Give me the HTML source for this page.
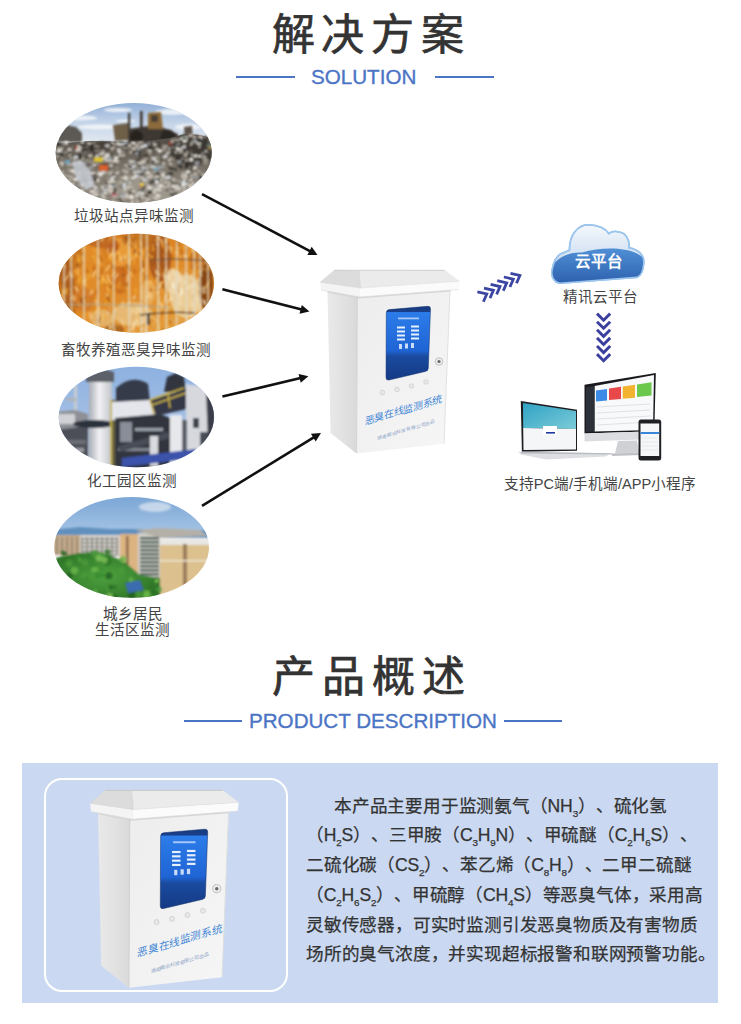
<!DOCTYPE html>
<html lang="zh-CN">
<head>
<meta charset="utf-8">
<style>
html,body{margin:0;padding:0;background:#fff;text-spacing-trim:space-all;}
body{width:741px;height:1024px;position:relative;overflow:hidden;font-family:"Liberation Sans",sans-serif;}
.abs{position:absolute;white-space:nowrap;}
.title{font-size:43px;line-height:60px;color:#333;letter-spacing:6.9px;-webkit-text-stroke:0.7px #333;}
.sub{font-size:20.6px;line-height:24px;color:#4b74c5;-webkit-text-stroke:0.35px #4b74c5;}
.hl{position:absolute;height:2px;background:#4b74c5;}
.lbl{font-size:14.6px;line-height:18px;color:#444;text-align:center;width:200px;}
.para{font-size:17.6px;line-height:29.8px;letter-spacing:-0.2px;color:#333;-webkit-text-stroke:0.25px #333;}
sub{font-size:56%;vertical-align:-0.5em;line-height:0;}
</style>
</head>
<body>
<div class="abs title" style="left:271.5px;top:5px;">解决方案</div>
<div class="hl" style="left:236px;top:76px;width:59px;"></div>
<div class="abs sub" style="left:311px;top:65px;">SOLUTION</div>
<div class="hl" style="left:435px;top:76px;width:59px;"></div>

<div class="abs lbl" style="left:34px;top:207px;">垃圾站点异味监测</div>
<div class="abs lbl" style="left:36px;top:341px;">畜牧养殖恶臭异味监测</div>
<div class="abs lbl" style="left:32px;top:472px;">化工园区监测</div>
<div class="abs lbl" style="left:32.5px;top:604.5px;">城乡居民</div>
<div class="abs lbl" style="left:32px;top:620.5px;">生活区监测</div>
<div class="abs lbl" style="left:500px;top:287.5px;">精讯云平台</div>
<div class="abs lbl" style="left:500px;top:475px;">支持PC端/手机端/APP小程序</div>

<div class="abs title" style="left:272px;top:647px;">产品概述</div>
<div class="hl" style="left:184px;top:720px;width:58px;"></div>
<div class="abs sub" style="left:249px;top:709px;">PRODUCT DESCRIPTION</div>
<div class="hl" style="left:504px;top:720px;width:58px;"></div>

<div class="abs" style="left:22px;top:763px;width:695.5px;height:239.5px;background:#cad9f1;"></div>
<div class="abs" style="left:43.5px;top:778px;width:240.5px;height:210px;border:2.4px solid #fff;border-radius:18px;"></div>

<div class="abs para" style="left:306px;top:791.5px;">
<div style="padding-left:28px">本产品主要用于监测氨气（NH<sub>3</sub>）、硫化氢</div>
<div>（H<sub>2</sub>S）、三甲胺（C<sub>3</sub>H<sub>9</sub>N）、甲硫醚（C<sub>2</sub>H<sub>6</sub>S）、</div>
<div>二硫化碳（CS<sub>2</sub>）、苯乙烯（C<sub>8</sub>H<sub>8</sub>）、二甲二硫醚</div>
<div>（C<sub>2</sub>H<sub>6</sub>S<sub>2</sub>）、甲硫醇（CH<sub>4</sub>S）等恶臭气体，采用高</div>
<div>灵敏传感器，可实时监测引发恶臭物质及有害物质</div>
<div>场所的臭气浓度，并实现超标报警和联网预警功能。</div>
</div>
<svg style="position:absolute;left:0;top:0" width="741" height="1024" viewBox="0 0 741 1024"><defs><clipPath id="clg"><ellipse cx="133.7" cy="152.9" rx="78" ry="50"/></clipPath><clipPath id="clc"><ellipse cx="136.4" cy="283.3" rx="77.7" ry="49.5"/></clipPath><clipPath id="clh"><ellipse cx="136.4" cy="417.0" rx="77.7" ry="50.2"/></clipPath><clipPath id="cly"><ellipse cx="131.6" cy="547.4" rx="77.4" ry="50.4"/></clipPath><filter id="bl5" x="-5%" y="-5%" width="110%" height="110%"><feGaussianBlur stdDeviation="0.8"/></filter><filter id="bl10" x="-10%" y="-10%" width="120%" height="120%"><feGaussianBlur stdDeviation="1.2"/></filter><filter id="bl20" x="-20%" y="-20%" width="140%" height="140%"><feGaussianBlur stdDeviation="2.5"/></filter><linearGradient id="skyg" x1="0" y1="0" x2="0" y2="1"><stop offset="0" stop-color="#8aaad4"/><stop offset="0.5" stop-color="#c4d4e8"/><stop offset="1" stop-color="#e8edf2"/></linearGradient><linearGradient id="grg" x1="0" y1="0" x2="0" y2="1"><stop offset="0" stop-color="#504a43"/><stop offset="0.5" stop-color="#7e776d"/><stop offset="1" stop-color="#8e877c"/></linearGradient><linearGradient id="chg" x1="0" y1="0" x2="1" y2="1"><stop offset="0" stop-color="#cc7420"/><stop offset="0.5" stop-color="#e08a28"/><stop offset="1" stop-color="#e8a844"/></linearGradient><linearGradient id="skyh" x1="0" y1="0" x2="0" y2="1"><stop offset="0" stop-color="#8cb0e0"/><stop offset="1" stop-color="#b8cce8"/></linearGradient><linearGradient id="tw" x1="0" y1="0" x2="1" y2="0"><stop offset="0" stop-color="#a8acb4"/><stop offset="0.45" stop-color="#f2f2f4"/><stop offset="1" stop-color="#c0c4ca"/></linearGradient><linearGradient id="skyy" x1="0" y1="0" x2="0" y2="1"><stop offset="0" stop-color="#78a4d4"/><stop offset="1" stop-color="#a8c6e6"/></linearGradient><radialGradient id="tree" cx="0.5" cy="0.45" r="0.6"><stop offset="0" stop-color="#4ea23e"/><stop offset="1" stop-color="#2a6e26"/></radialGradient></defs><g clip-path="url(#clg)"><rect x="50" y="100" width="170" height="46" fill="url(#skyg)"/><g filter="url(#bl10)"><ellipse cx="80" cy="118" rx="17.0" ry="2.5" fill="#f2f5f8" opacity="0.9"/><ellipse cx="118" cy="110" rx="14.0" ry="2.0" fill="#f2f5f8" opacity="0.9"/><ellipse cx="172" cy="112" rx="17.0" ry="3.0" fill="#f2f5f8" opacity="0.9"/><ellipse cx="100" cy="127" rx="22.0" ry="2.5" fill="#f2f5f8" opacity="0.9"/><ellipse cx="188" cy="127" rx="13.0" ry="3.0" fill="#f2f5f8" opacity="0.9"/><ellipse cx="66" cy="133" rx="14.0" ry="2.5" fill="#f2f5f8" opacity="0.9"/><ellipse cx="150" cy="130" rx="10.0" ry="2.0" fill="#f2f5f8" opacity="0.9"/><ellipse cx="126" cy="121" rx="10.0" ry="1.5" fill="#f2f5f8" opacity="0.9"/></g><g filter="url(#bl5)"><polygon points="113,125 129,123 130,140 115,141" fill="#6e5e4a"/><polygon points="128,129 148,126 164,128 178,134 179,143 128,143" fill="#3e3732"/><polygon points="148,113 161,112 163,129 148,129" fill="#8c6a3a"/><rect x="151" y="115" width="7" height="7" fill="#4a4038"/><rect x="128" y="113" width="2.2" height="16" fill="#3a342e"/><rect x="140" y="111" width="2.6" height="17" fill="#3a342e"/><circle cx="136.5" cy="137" r="6.5" fill="#26221f"/><circle cx="168" cy="137" r="7.5" fill="#2a2622"/><polygon points="59,130 66,125 76,127 82,133 82,142 58,142" fill="#5c5852"/><polygon points="184,127 192,126 193,141 185,141" fill="#5a5048"/></g><polygon points="50,144 90,141 140,142 170,138 185,134 200,135 220,140 220,210 50,210" fill="url(#grg)"/><g filter="url(#bl5)"><ellipse cx="194" cy="150" rx="22" ry="15" fill="#35312c" opacity="0.8"/><ellipse cx="130" cy="146" rx="60" ry="5" fill="#3a3530" opacity="0.6"/><ellipse cx="150" cy="188" rx="40" ry="12" fill="#b4ada2" opacity="0.5"/><rect x="104.8" y="144.7" width="3.8" height="1.3" fill="#c6beb2"/><rect x="147" y="198.6" width="2.3" height="1.4" fill="#d4cdc2"/><rect x="66.8" y="164.1" width="4.4" height="1.4" fill="#d8dde4"/><rect x="206.5" y="175" width="2.9" height="3.2" fill="#2c2824"/><rect x="99.2" y="144.2" width="1.9" height="1.8" fill="#a0988c"/><rect x="68.8" y="174.6" width="2.2" height="1.4" fill="#9aa0a6"/><rect x="61.7" y="148.6" width="3.9" height="2.1" fill="#4a443c"/><rect x="202.5" y="159.7" width="2.4" height="1.6" fill="#8a8276"/><rect x="145.6" y="171.3" width="4.6" height="2.7" fill="#e6e2da"/><rect x="71.2" y="163.7" width="4.1" height="1.5" fill="#e6e2da"/><rect x="208.8" y="139.5" width="3.5" height="2.8" fill="#c6beb2"/><rect x="165.3" y="176.2" width="3.5" height="2.1" fill="#767066"/><rect x="129.3" y="181.2" width="1.7" height="2.6" fill="#f2efe8"/><rect x="98.4" y="161.4" width="3.8" height="1.2" fill="#d4cdc2"/><rect x="151.6" y="169.1" width="2.3" height="1.8" fill="#6a645a"/><rect x="115.7" y="195.9" width="1.8" height="2.1" fill="#d4cdc2"/><rect x="185.5" y="195.3" width="2.5" height="2" fill="#f2efe8"/><rect x="208.1" y="144.7" width="2.1" height="1.7" fill="#3a3530"/><rect x="187.5" y="146.9" width="2.5" height="1.5" fill="#4a443c"/><rect x="144.3" y="201.7" width="3.9" height="2.2" fill="#e6e2da"/><rect x="126.4" y="195.8" width="4.8" height="2.6" fill="#f2efe8"/><rect x="117" y="141.4" width="3.7" height="1.3" fill="#2c2824"/><rect x="123.8" y="141.8" width="3.6" height="1.4" fill="#d8dde4"/><rect x="68.5" y="159.8" width="1.6" height="2.9" fill="#a0988c"/><rect x="155.4" y="201.8" width="3.6" height="2.1" fill="#3a3530"/><rect x="213.9" y="167.1" width="3.2" height="1.4" fill="#3a3530"/><rect x="172.7" y="168" width="3.9" height="2.2" fill="#4a443c"/><rect x="111" y="183" width="4.7" height="2.7" fill="#e6e2da"/><rect x="165.5" y="152.5" width="2.8" height="1.5" fill="#9aa0a6"/><rect x="140.3" y="169.7" width="3.7" height="2.4" fill="#a0988c"/><rect x="183.4" y="192.1" width="4.1" height="1.7" fill="#c6beb2"/><rect x="171.2" y="204.3" width="4.3" height="2.1" fill="#4a443c"/><rect x="207.9" y="165.8" width="4.8" height="3.2" fill="#767066"/><rect x="65.1" y="141.3" width="3.1" height="1.9" fill="#d8dde4"/><rect x="189" y="168" width="3.8" height="2.8" fill="#4a443c"/><rect x="71.5" y="161.6" width="4" height="1.6" fill="#6a645a"/><rect x="180.6" y="157.6" width="4.3" height="3.1" fill="#3a3530"/><rect x="173.2" y="140" width="2.1" height="3.2" fill="#4a443c"/><rect x="199.5" y="191.3" width="2" height="2.9" fill="#767066"/><rect x="77.4" y="172.9" width="1.6" height="2.8" fill="#8a8276"/><rect x="137.8" y="200.3" width="3" height="2.9" fill="#a0988c"/><rect x="56.6" y="149.1" width="3.3" height="2.7" fill="#4a443c"/><rect x="120.3" y="143.3" width="4.7" height="1.9" fill="#d8dde4"/><rect x="184.9" y="170.7" width="4.4" height="3" fill="#2c2824"/><rect x="123.7" y="147" width="1.5" height="2.8" fill="#3a3530"/><rect x="152.9" y="142.5" width="1.7" height="2.6" fill="#f2efe8"/><rect x="179.8" y="141.5" width="3.5" height="1.7" fill="#2c2824"/><rect x="134.8" y="173.9" width="4.2" height="3" fill="#d8dde4"/><rect x="210.7" y="177" width="2.2" height="1.8" fill="#f2efe8"/><rect x="134.8" y="151.6" width="3.3" height="3" fill="#9aa0a6"/><rect x="197.5" y="148.4" width="3.1" height="2" fill="#3a3530"/><rect x="63.8" y="151.1" width="1.8" height="2.5" fill="#a0988c"/><rect x="205.1" y="179.7" width="2.8" height="1.7" fill="#3a3530"/><rect x="87.8" y="201.6" width="2.9" height="2.2" fill="#a0988c"/><rect x="78.3" y="164.6" width="3.3" height="1.9" fill="#c6beb2"/><rect x="67" y="160" width="2.7" height="2.1" fill="#6a645a"/><rect x="106" y="178.3" width="3.3" height="1.3" fill="#a0988c"/><rect x="210.4" y="141.4" width="2.4" height="1.3" fill="#c6beb2"/><rect x="175.2" y="192.2" width="4.5" height="2.6" fill="#6a645a"/><rect x="76.3" y="199.3" width="3.5" height="2.6" fill="#2c2824"/><rect x="182.3" y="147" width="4.6" height="1.7" fill="#2c2824"/><rect x="182.7" y="139.9" width="4.5" height="1.3" fill="#f2efe8"/><rect x="53.9" y="204.6" width="3" height="3" fill="#e6e2da"/><rect x="137.9" y="150.9" width="1.9" height="1.5" fill="#2c2824"/><rect x="204" y="178.6" width="3.4" height="1.6" fill="#d4cdc2"/><rect x="96.1" y="191.1" width="5" height="1.3" fill="#4a443c"/><rect x="141.8" y="147.5" width="3.2" height="3.1" fill="#4a443c"/><rect x="122.4" y="169.1" width="4.4" height="2" fill="#d4cdc2"/><rect x="212.1" y="158.3" width="4.4" height="2.6" fill="#f2efe8"/><rect x="213.3" y="203.7" width="4.4" height="1.2" fill="#c6beb2"/><rect x="160.4" y="161" width="3.3" height="3.1" fill="#767066"/><rect x="59.4" y="147.2" width="2.4" height="1.2" fill="#3a3530"/><rect x="210.5" y="172.8" width="2.4" height="3.1" fill="#3a3530"/><rect x="81.8" y="157.8" width="1.8" height="1.8" fill="#d4cdc2"/><rect x="55.7" y="155.6" width="2.3" height="2.4" fill="#d4cdc2"/><rect x="159.2" y="184.8" width="4.6" height="2" fill="#f2efe8"/><rect x="76.4" y="185.4" width="3.8" height="1.3" fill="#9aa0a6"/><rect x="154.3" y="186.1" width="4.3" height="1.5" fill="#d8dde4"/><rect x="144.7" y="191.7" width="1.6" height="2.6" fill="#a0988c"/><rect x="155.9" y="202.1" width="2.8" height="2.1" fill="#2c2824"/><rect x="154.1" y="182.3" width="3.2" height="1.2" fill="#9aa0a6"/><rect x="198.4" y="140.5" width="3.3" height="2.7" fill="#2c2824"/><rect x="189.9" y="150.7" width="4.1" height="1.7" fill="#f2efe8"/><rect x="132.5" y="161.2" width="3.2" height="2.6" fill="#9aa0a6"/><rect x="155.1" y="148.1" width="3.6" height="1.9" fill="#c6beb2"/><rect x="153.2" y="143.5" width="3.2" height="2.2" fill="#8a8276"/><rect x="164.8" y="182" width="2.5" height="2.2" fill="#f2efe8"/><rect x="177" y="204.5" width="3.4" height="1.8" fill="#3a3530"/><rect x="54.9" y="166.6" width="4.4" height="3.1" fill="#c6beb2"/><rect x="115.1" y="199.1" width="4.8" height="1.3" fill="#4a443c"/><rect x="137.4" y="201.6" width="2" height="2.8" fill="#e6e2da"/><rect x="166.6" y="150.4" width="4.6" height="2.2" fill="#2c2824"/><rect x="206.8" y="182.4" width="2.9" height="2.7" fill="#f2efe8"/><rect x="103.5" y="193.7" width="1.5" height="2.7" fill="#8a8276"/><rect x="205.2" y="147.9" width="1.5" height="2.7" fill="#2c2824"/><rect x="116" y="204.9" width="3.6" height="1.9" fill="#c6beb2"/><rect x="191.2" y="153.9" width="1.7" height="2.5" fill="#d4cdc2"/><rect x="92.6" y="152.9" width="3.3" height="1.6" fill="#3a3530"/><rect x="196.1" y="191.6" width="3.7" height="3" fill="#9aa0a6"/><rect x="204.2" y="163.2" width="3.7" height="1.5" fill="#6a645a"/><rect x="60" y="199.8" width="1.9" height="2.1" fill="#c6beb2"/><rect x="93.7" y="186.5" width="3.8" height="2" fill="#f2efe8"/><rect x="142.8" y="162" width="2.1" height="1.5" fill="#f2efe8"/><rect x="141.7" y="166.2" width="2.7" height="2.7" fill="#d8dde4"/><rect x="91" y="152.3" width="3.5" height="3" fill="#6a645a"/><rect x="114.4" y="187" width="2.2" height="1.7" fill="#6a645a"/><rect x="97.2" y="202.7" width="1.9" height="2.2" fill="#d4cdc2"/><rect x="67.1" y="197.7" width="2.8" height="2.5" fill="#c6beb2"/><rect x="190.3" y="196" width="1.6" height="1.3" fill="#6a645a"/><rect x="209.8" y="168.8" width="1.8" height="3.1" fill="#9aa0a6"/><rect x="191.4" y="203" width="2.4" height="1.4" fill="#4a443c"/><rect x="210.4" y="141.7" width="4.4" height="2.6" fill="#f2efe8"/><rect x="65.9" y="189.2" width="1.5" height="1.5" fill="#e6e2da"/><rect x="157.2" y="155.6" width="1.9" height="1.7" fill="#e6e2da"/><rect x="68.2" y="155.3" width="4.8" height="1.6" fill="#4a443c"/><rect x="52.2" y="172.2" width="5" height="1.8" fill="#d4cdc2"/><rect x="129.5" y="150.7" width="2.4" height="3.1" fill="#c6beb2"/><rect x="61" y="147.8" width="4.6" height="2.5" fill="#2c2824"/><rect x="160.8" y="199.7" width="2.3" height="1.3" fill="#f2efe8"/><rect x="111.1" y="162.1" width="1.5" height="1.8" fill="#8a8276"/><rect x="85.5" y="202.9" width="2.6" height="2.8" fill="#d4cdc2"/><rect x="95.2" y="197.1" width="1.9" height="2.4" fill="#d4cdc2"/><rect x="131.1" y="198.6" width="1.7" height="2.4" fill="#8a8276"/><rect x="86.7" y="203.2" width="2" height="1.3" fill="#3a3530"/><rect x="125.3" y="184.6" width="2.6" height="1.4" fill="#2c2824"/><rect x="105.7" y="147.2" width="4.8" height="2.7" fill="#4a443c"/><rect x="170.2" y="193.6" width="4.9" height="2.1" fill="#2c2824"/><rect x="97.6" y="159" width="4.8" height="1.4" fill="#a0988c"/><rect x="114" y="188.6" width="2.6" height="2.8" fill="#4a443c"/><rect x="129.2" y="160.5" width="4.7" height="1.6" fill="#f2efe8"/><rect x="56.9" y="163.2" width="4.3" height="2.7" fill="#2c2824"/><rect x="127.6" y="191" width="1.7" height="1.6" fill="#4a443c"/><rect x="107.3" y="153.3" width="4.9" height="2.4" fill="#4a443c"/><rect x="164.4" y="199.6" width="2.5" height="2.6" fill="#e6e2da"/><rect x="56" y="150.6" width="3.2" height="3.1" fill="#6a645a"/><rect x="180.7" y="198.9" width="4.4" height="1.5" fill="#e6e2da"/><rect x="182.8" y="186.4" width="4.4" height="2.7" fill="#c6beb2"/><rect x="192.4" y="166.7" width="4.2" height="2.4" fill="#f2efe8"/><rect x="174.7" y="151.6" width="1.7" height="1.3" fill="#c6beb2"/><rect x="78.2" y="164.3" width="1.9" height="1.3" fill="#a0988c"/><rect x="67.7" y="169.4" width="4" height="2.1" fill="#f2efe8"/><rect x="127.1" y="197.3" width="2.3" height="2.3" fill="#8a8276"/><rect x="179.1" y="154.9" width="2.5" height="1.7" fill="#3a3530"/><rect x="84.5" y="151.6" width="2.4" height="1.5" fill="#9aa0a6"/><rect x="93" y="151.5" width="3.3" height="2.5" fill="#3a3530"/><rect x="213.5" y="141.3" width="3.2" height="2.8" fill="#c6beb2"/><rect x="58.6" y="154.9" width="1.9" height="1.6" fill="#9aa0a6"/><rect x="135.6" y="146.6" width="3.6" height="2.7" fill="#e6e2da"/><rect x="69.2" y="176.3" width="3.7" height="1.6" fill="#d4cdc2"/><rect x="59.2" y="205" width="1.6" height="2.7" fill="#8a8276"/><rect x="185.5" y="163" width="2.8" height="2.4" fill="#2c2824"/><rect x="181.6" y="172.9" width="1.7" height="1.4" fill="#d8dde4"/><rect x="77.2" y="171.9" width="3.8" height="2" fill="#c6beb2"/><rect x="160.9" y="163.7" width="1.7" height="2.7" fill="#6a645a"/><rect x="119.9" y="195.4" width="5" height="1.9" fill="#f2efe8"/><rect x="199" y="164.1" width="4.4" height="2" fill="#6a645a"/><rect x="178" y="143.2" width="1.7" height="1.5" fill="#f2efe8"/><rect x="66.5" y="178.2" width="2.8" height="2.2" fill="#3a3530"/><rect x="78.4" y="146.2" width="1.7" height="2" fill="#a0988c"/><rect x="101.2" y="193.4" width="1.7" height="3" fill="#d8dde4"/><rect x="203" y="161.5" width="4.7" height="2.4" fill="#a0988c"/><rect x="156.4" y="194.8" width="3.7" height="2.4" fill="#f2efe8"/><rect x="81.8" y="149.5" width="2.9" height="2.2" fill="#2c2824"/><rect x="76.4" y="202.9" width="4.4" height="1.6" fill="#8a8276"/><rect x="160.9" y="157" width="2.9" height="2.1" fill="#767066"/><rect x="157.8" y="155.9" width="2.4" height="2" fill="#4a443c"/><rect x="152.9" y="168.8" width="2.3" height="2.7" fill="#6a645a"/><rect x="188.4" y="191.5" width="2.9" height="1.3" fill="#c6beb2"/><rect x="66.9" y="165.4" width="3.3" height="1.3" fill="#8a8276"/><rect x="202.3" y="156.3" width="4" height="1.4" fill="#f2efe8"/><rect x="158.4" y="189.7" width="1.6" height="1.3" fill="#e6e2da"/><rect x="83.6" y="203.7" width="3.2" height="3.1" fill="#a0988c"/><rect x="163.8" y="185.2" width="2.3" height="2.9" fill="#c6beb2"/><rect x="77.9" y="197.7" width="2.5" height="2.8" fill="#4a443c"/><rect x="209.2" y="168.1" width="3.6" height="2.4" fill="#3a3530"/><rect x="58" y="146.9" width="2.1" height="3.1" fill="#f2efe8"/><rect x="79.5" y="189.7" width="1.9" height="2.3" fill="#c6beb2"/><rect x="209.5" y="166.2" width="3.3" height="2.6" fill="#767066"/><rect x="213.9" y="178.7" width="2.9" height="2.8" fill="#c6beb2"/><rect x="146.1" y="159.6" width="4.2" height="2.1" fill="#4a443c"/><rect x="208.2" y="155" width="3.3" height="1.8" fill="#9aa0a6"/><rect x="203.3" y="197.6" width="4.1" height="2.7" fill="#c6beb2"/><rect x="152.4" y="164.7" width="3.3" height="3" fill="#2c2824"/><rect x="60.9" y="174.3" width="2.6" height="2.2" fill="#f2efe8"/><rect x="147.1" y="175.8" width="2.2" height="2.4" fill="#d4cdc2"/><rect x="54.3" y="190.9" width="4" height="2.1" fill="#2c2824"/><rect x="194" y="189.5" width="2.9" height="1.7" fill="#e8d050"/><rect x="148.9" y="175.1" width="3.6" height="2.2" fill="#d4cdc2"/><rect x="199.3" y="137.1" width="3.4" height="2" fill="#2c2824"/><rect x="200.6" y="141.4" width="3.6" height="2.5" fill="#3a3530"/><rect x="84.5" y="177.2" width="3.3" height="2.5" fill="#a0988c"/><rect x="154" y="204.6" width="4" height="2.2" fill="#f2efe8"/><rect x="189.6" y="186.9" width="3.1" height="2.7" fill="#d4cdc2"/><rect x="214.4" y="152.6" width="3.8" height="1.4" fill="#767066"/><rect x="168" y="152.9" width="3.4" height="2.1" fill="#9aa0a6"/><rect x="210.4" y="155" width="4.7" height="3" fill="#4a443c"/><rect x="54.5" y="152.5" width="2.3" height="2.7" fill="#767066"/><rect x="83.3" y="161.6" width="3.6" height="2" fill="#9aa0a6"/><rect x="128.5" y="193.6" width="3.9" height="2.9" fill="#d4cdc2"/><rect x="145" y="155.9" width="2.2" height="2.4" fill="#2c2824"/><rect x="69.4" y="200" width="2.7" height="1.5" fill="#2c2824"/><rect x="74.6" y="179.7" width="1.6" height="1.3" fill="#4a443c"/><rect x="176.2" y="148.2" width="4.8" height="2.3" fill="#f2efe8"/><rect x="69.5" y="148.6" width="1.9" height="1.3" fill="#8a8276"/><rect x="186.5" y="178.8" width="2.5" height="1.4" fill="#4a443c"/><rect x="85.4" y="156.7" width="3" height="1.2" fill="#3a3530"/><rect x="59.9" y="187.9" width="4.7" height="2.7" fill="#f2efe8"/><rect x="190.8" y="177.9" width="1.6" height="2" fill="#e6e2da"/><rect x="108.5" y="184" width="3.4" height="1.6" fill="#8a8276"/><rect x="145.7" y="154.4" width="3" height="2.2" fill="#2c2824"/><rect x="52.7" y="168.8" width="3.2" height="2.8" fill="#3a3530"/><rect x="148.6" y="202" width="3.3" height="2.4" fill="#2c2824"/><rect x="204.9" y="150.4" width="2.1" height="3.1" fill="#f2efe8"/><rect x="180.4" y="183.5" width="4.3" height="2.5" fill="#f2efe8"/><rect x="203.3" y="197.3" width="4.1" height="2" fill="#c6beb2"/><rect x="85.6" y="152.7" width="4.7" height="2.2" fill="#4a443c"/><rect x="90.1" y="166.7" width="3.4" height="2.7" fill="#8a8276"/><rect x="108.8" y="157.2" width="2" height="2.9" fill="#c6beb2"/><rect x="79.6" y="165.2" width="4.2" height="2.4" fill="#3a3530"/><rect x="156.8" y="183.5" width="3.3" height="1.7" fill="#9aa0a6"/><rect x="77.2" y="145.1" width="2.4" height="1.9" fill="#d4cdc2"/><rect x="90.5" y="201.9" width="2.4" height="3.1" fill="#a0988c"/><rect x="208.9" y="141.2" width="2.8" height="3.2" fill="#c6beb2"/><rect x="122.9" y="147.9" width="3.7" height="1.4" fill="#3a3530"/><rect x="191.3" y="165" width="2.3" height="3.2" fill="#2c2824"/><rect x="75.1" y="176.9" width="2.9" height="2.7" fill="#6a645a"/><rect x="166.3" y="175.7" width="3.8" height="2.9" fill="#d8dde4"/><rect x="190.9" y="182.3" width="3.7" height="2.1" fill="#e6e2da"/><rect x="197.8" y="151.2" width="2.9" height="2.6" fill="#3a3530"/><rect x="191.9" y="170.8" width="3.8" height="2.9" fill="#767066"/><rect x="178.8" y="161.6" width="3.2" height="3.1" fill="#4a443c"/><rect x="87.5" y="184.9" width="4.8" height="1.6" fill="#d8dde4"/><rect x="126.5" y="148.6" width="3.2" height="1.2" fill="#767066"/><rect x="137" y="163.1" width="4.8" height="1.6" fill="#6a645a"/><rect x="135.7" y="200.2" width="4.1" height="2.4" fill="#c6beb2"/><rect x="96.7" y="162.4" width="1.5" height="2" fill="#c6beb2"/><rect x="146.6" y="141.8" width="2.6" height="2" fill="#a0988c"/><rect x="214.1" y="202.2" width="3.1" height="1.5" fill="#8a8276"/><rect x="184" y="179" width="3.1" height="2.3" fill="#d4cdc2"/><rect x="109.6" y="179.4" width="4.4" height="2.8" fill="#c6beb2"/><rect x="175.9" y="180.1" width="4.2" height="2.1" fill="#a0988c"/><rect x="95.6" y="160.7" width="2.4" height="2.1" fill="#2c2824"/><rect x="183.3" y="190.7" width="2.8" height="2.5" fill="#f2efe8"/><rect x="121.8" y="179.2" width="3.8" height="1.9" fill="#6a645a"/><rect x="61.3" y="192.8" width="4.7" height="2.8" fill="#3a3530"/><rect x="53.9" y="201.6" width="3.8" height="1.7" fill="#2c2824"/><rect x="191.2" y="147.2" width="3.1" height="2.8" fill="#3a3530"/><rect x="181" y="145.9" width="4.6" height="2.4" fill="#d8dde4"/><rect x="180.5" y="193.6" width="2.2" height="2.6" fill="#f2efe8"/><rect x="161.4" y="142.3" width="1.9" height="2" fill="#6a645a"/><rect x="128.1" y="144.3" width="3.2" height="2.2" fill="#e6e2da"/><rect x="78.1" y="156.8" width="3.9" height="2.2" fill="#3a3530"/><rect x="113.1" y="163.7" width="4.9" height="1.4" fill="#8a8276"/><rect x="172.1" y="204.9" width="4.3" height="1.4" fill="#d4cdc2"/><rect x="57.5" y="185" width="3.7" height="1.9" fill="#767066"/><rect x="107.6" y="189.3" width="3.4" height="3" fill="#c6beb2"/><rect x="120.8" y="173.3" width="4.4" height="1.8" fill="#6a645a"/><rect x="106.4" y="203.9" width="4.6" height="1.9" fill="#f2efe8"/><rect x="181.1" y="157.5" width="2.6" height="1.8" fill="#e6e2da"/><rect x="179.8" y="136.8" width="4" height="3" fill="#e6e2da"/><rect x="117" y="141.7" width="1.7" height="2.8" fill="#e6e2da"/><rect x="180.6" y="198.6" width="3.6" height="2.4" fill="#d8dde4"/><rect x="194.8" y="139.9" width="1.6" height="2.5" fill="#d4cdc2"/><rect x="68.5" y="146.9" width="1.6" height="2.7" fill="#8a8276"/><rect x="112.1" y="192.4" width="4.3" height="2.3" fill="#c6beb2"/><rect x="55.3" y="174.2" width="3.5" height="3" fill="#d8dde4"/><rect x="58.4" y="142.4" width="4.3" height="2.4" fill="#6a645a"/><rect x="63" y="182.3" width="3.6" height="3.2" fill="#d4cdc2"/><rect x="129.5" y="163.3" width="1.9" height="2.5" fill="#d4cdc2"/><rect x="154.2" y="164.3" width="1.5" height="2.5" fill="#8a8276"/><rect x="87.6" y="142.6" width="3.2" height="1.8" fill="#f2efe8"/><rect x="171.6" y="147.3" width="1.7" height="2.7" fill="#d4cdc2"/><rect x="170.9" y="140" width="3.7" height="2.6" fill="#c6beb2"/><rect x="200.9" y="137.7" width="1.6" height="1.3" fill="#d8dde4"/><rect x="65" y="156.1" width="4.1" height="1.5" fill="#6a645a"/><rect x="151.3" y="156.5" width="4.8" height="2.7" fill="#d4cdc2"/><rect x="75.6" y="190.6" width="2.8" height="2.5" fill="#f2efe8"/><rect x="129.7" y="189.2" width="3.1" height="1.7" fill="#767066"/><rect x="210.8" y="183.9" width="4.4" height="1.9" fill="#e6e2da"/><rect x="187.5" y="176.7" width="2.6" height="2.1" fill="#6a645a"/><rect x="115.1" y="160.7" width="4.2" height="1.7" fill="#e6e2da"/><rect x="104.4" y="153" width="2.1" height="3" fill="#8a8276"/><rect x="99" y="144" width="4.6" height="3.2" fill="#4a443c"/><rect x="163.6" y="198.9" width="2.7" height="1.4" fill="#f2efe8"/><rect x="84.7" y="187.3" width="4.8" height="1.7" fill="#f2efe8"/><rect x="127.8" y="148.7" width="2.4" height="2.7" fill="#6a645a"/><rect x="140.1" y="172.1" width="2.7" height="1.3" fill="#d8dde4"/><rect x="198.2" y="196.8" width="3.3" height="2.2" fill="#d4cdc2"/><rect x="183.4" y="154.6" width="3.5" height="1.9" fill="#d4cdc2"/><rect x="92.1" y="199.5" width="3.2" height="2.9" fill="#f2efe8"/><rect x="180.3" y="145.1" width="3.6" height="1.9" fill="#2c2824"/><rect x="67.3" y="148.5" width="4.5" height="2.3" fill="#d4cdc2"/><rect x="94.6" y="189.3" width="3" height="3.1" fill="#9aa0a6"/><rect x="209" y="152" width="1.6" height="1.6" fill="#2c2824"/><rect x="112.3" y="184.1" width="3.2" height="2.9" fill="#9aa0a6"/><rect x="156.3" y="199.5" width="4" height="1.4" fill="#d4cdc2"/><rect x="156.4" y="201.9" width="3.8" height="2" fill="#d4cdc2"/><rect x="112.5" y="150.7" width="4" height="1.5" fill="#767066"/><rect x="61.7" y="173.3" width="1.6" height="3" fill="#d8dde4"/><rect x="167.7" y="179.9" width="4.9" height="1.3" fill="#2c2824"/><rect x="205.1" y="182.1" width="2.5" height="2.4" fill="#8a8276"/><rect x="128.7" y="160.4" width="2.9" height="1.9" fill="#f2efe8"/><rect x="90.9" y="144.2" width="3.9" height="1.2" fill="#d4cdc2"/><rect x="182.2" y="145.1" width="4.4" height="1.4" fill="#c6beb2"/><rect x="196.9" y="143.9" width="3.1" height="1.4" fill="#8a8276"/><rect x="154.4" y="166.1" width="2.7" height="2.8" fill="#c6beb2"/><rect x="75.3" y="149.7" width="1.7" height="2.6" fill="#d4cdc2"/><rect x="123.6" y="144.6" width="3" height="1.7" fill="#4a443c"/><rect x="188.8" y="157.8" width="2.1" height="2.2" fill="#3a3530"/><rect x="70.6" y="203.5" width="1.7" height="3" fill="#d4cdc2"/><rect x="143.3" y="193.3" width="1.9" height="2.7" fill="#6a645a"/><rect x="213.5" y="204.9" width="4.7" height="1.4" fill="#d4cdc2"/><rect x="61.4" y="185.6" width="2.5" height="3.2" fill="#4a443c"/><rect x="107.6" y="144" width="1.5" height="2.9" fill="#d4cdc2"/><rect x="118.7" y="153.7" width="2.1" height="2.9" fill="#d4cdc2"/><rect x="168" y="148" width="1.8" height="1.4" fill="#f2efe8"/><rect x="176.1" y="146.4" width="2" height="2.5" fill="#d4cdc2"/><rect x="147" y="148.4" width="1.7" height="2.7" fill="#e6e2da"/><rect x="136.5" y="158.7" width="2.5" height="2.5" fill="#8a8276"/><rect x="54.5" y="198.6" width="3.2" height="2.9" fill="#d4cdc2"/><rect x="143.8" y="204" width="1.6" height="2.6" fill="#e6e2da"/><rect x="110.1" y="200.2" width="4.9" height="1.3" fill="#d4cdc2"/><rect x="185.1" y="195.4" width="2.6" height="2.6" fill="#e6e2da"/><rect x="99.5" y="141.6" width="4.1" height="2.1" fill="#4a443c"/><rect x="73.9" y="151.3" width="1.8" height="2.4" fill="#3a3530"/><rect x="92.8" y="192" width="1.6" height="1.4" fill="#a0988c"/><rect x="94.6" y="193.5" width="3.7" height="2.1" fill="#f2efe8"/><rect x="68.8" y="195.7" width="4" height="1.3" fill="#3a3530"/><rect x="147.5" y="188.1" width="1.9" height="1.4" fill="#9aa0a6"/><rect x="148.5" y="195.1" width="2" height="2.3" fill="#a0988c"/><rect x="206.6" y="135.3" width="3.7" height="2.6" fill="#d8dde4"/><rect x="137.7" y="162.1" width="4.8" height="2.8" fill="#d4cdc2"/><rect x="188.7" y="184.8" width="4.5" height="2.3" fill="#767066"/><rect x="184.9" y="194.2" width="1.7" height="2.2" fill="#767066"/><rect x="92.6" y="164" width="3.7" height="1.9" fill="#e6e2da"/><rect x="104.9" y="148.3" width="3.8" height="1.7" fill="#f2efe8"/><rect x="178.6" y="200.5" width="3.7" height="2.8" fill="#8a8276"/><rect x="57.6" y="179.6" width="2.4" height="2.6" fill="#d8dde4"/><rect x="183.4" y="136.5" width="1.9" height="1.4" fill="#3c9c84"/><rect x="207" y="154.4" width="2.6" height="2.5" fill="#4a443c"/><rect x="208.3" y="199.4" width="4.7" height="1.4" fill="#d4cdc2"/><rect x="123.7" y="170.3" width="4.6" height="3" fill="#c6beb2"/><rect x="141" y="193.6" width="3.6" height="2.3" fill="#d4cdc2"/><rect x="141.4" y="160" width="4.6" height="1.8" fill="#c6beb2"/><rect x="57" y="157.7" width="2.2" height="2.3" fill="#6a645a"/><rect x="53.9" y="159" width="4.5" height="1.7" fill="#6a645a"/><rect x="96" y="196.4" width="2.3" height="1.3" fill="#4a443c"/><rect x="62.9" y="195.9" width="3" height="1.3" fill="#f2efe8"/><rect x="109.7" y="188.2" width="3.3" height="3.2" fill="#a0988c"/><rect x="119.9" y="181.4" width="2" height="1.6" fill="#c6beb2"/><rect x="185.9" y="170.8" width="4.1" height="2.7" fill="#f2efe8"/><rect x="95.8" y="178.8" width="3.7" height="2.6" fill="#e6e2da"/><rect x="52.7" y="188.4" width="3.6" height="2.2" fill="#9aa0a6"/><rect x="76.4" y="194.3" width="2.5" height="2.4" fill="#3a3530"/><rect x="164.9" y="154.5" width="2.7" height="1.9" fill="#d8dde4"/><rect x="114.7" y="156.9" width="4.3" height="2.9" fill="#f2efe8"/><rect x="100.9" y="172.1" width="4.3" height="2.1" fill="#d4cdc2"/><rect x="66.3" y="199.3" width="2.6" height="2.9" fill="#767066"/><rect x="85.3" y="164.3" width="4.7" height="1.2" fill="#4a443c"/><rect x="198" y="155.3" width="3.4" height="1.8" fill="#f2efe8"/><rect x="136.3" y="170.7" width="3.9" height="2" fill="#d8dde4"/><rect x="162.2" y="166.2" width="1.5" height="1.3" fill="#f2efe8"/><rect x="113" y="162.5" width="3.5" height="2.3" fill="#6a645a"/><rect x="131.3" y="165.3" width="3.7" height="3.2" fill="#d8dde4"/><rect x="173.7" y="140.5" width="2.8" height="1.9" fill="#3a3530"/><rect x="135.6" y="141.8" width="4.6" height="2.6" fill="#9aa0a6"/><rect x="196.8" y="163.9" width="2" height="1.8" fill="#d8dde4"/><rect x="197.6" y="163.3" width="1.7" height="2.3" fill="#4a443c"/><rect x="214" y="179.2" width="1.6" height="2" fill="#767066"/><rect x="167.8" y="173.3" width="4.7" height="2" fill="#2c2824"/><rect x="160.9" y="148" width="3.2" height="2.3" fill="#4a443c"/><rect x="198" y="170.5" width="2" height="1.6" fill="#d4cdc2"/><rect x="77.6" y="187.9" width="1.9" height="1.4" fill="#4a443c"/><rect x="131.9" y="167.2" width="3" height="2.8" fill="#9aa0a6"/><rect x="104.6" y="184.8" width="2.7" height="1.5" fill="#e6e2da"/><rect x="192.1" y="201.3" width="1.7" height="1.6" fill="#e6e2da"/><rect x="60.9" y="197.2" width="3.5" height="3.1" fill="#d8dde4"/><rect x="90.8" y="149.8" width="2.1" height="2.4" fill="#2c2824"/><rect x="198.5" y="191.9" width="2.6" height="2.4" fill="#6a645a"/><rect x="211.7" y="138.8" width="3.9" height="2.5" fill="#f2efe8"/><rect x="102.4" y="196.1" width="3.2" height="2.8" fill="#d4cdc2"/><rect x="79.7" y="160.9" width="1.5" height="3" fill="#c6beb2"/><rect x="70.7" y="171.9" width="2.8" height="2" fill="#2c2824"/><rect x="120.8" y="198.8" width="3.4" height="2" fill="#c6beb2"/><rect x="160.3" y="158.2" width="2" height="2.6" fill="#3a3530"/><rect x="140.8" y="189.9" width="3.4" height="2.1" fill="#a0988c"/><rect x="78" y="159.1" width="4" height="2" fill="#a0988c"/><rect x="100.5" y="167.8" width="2.2" height="2.9" fill="#767066"/><rect x="149.1" y="165.3" width="5" height="2.3" fill="#d8dde4"/><rect x="86.6" y="195.9" width="1.9" height="2.2" fill="#c6beb2"/><rect x="172" y="188.3" width="1.6" height="2.6" fill="#2c2824"/><rect x="80.9" y="194.4" width="2.6" height="2.5" fill="#4a443c"/><rect x="201" y="191.2" width="4.2" height="1.6" fill="#8a8276"/><rect x="88.9" y="143" width="4" height="1.8" fill="#f2efe8"/><rect x="178.3" y="196.7" width="4.5" height="1.5" fill="#e6e2da"/><rect x="111.8" y="190.8" width="3.9" height="3" fill="#4a443c"/><rect x="166" y="151.6" width="4.5" height="1.9" fill="#d4cdc2"/><rect x="99.5" y="153.2" width="3.6" height="1.6" fill="#f2efe8"/><rect x="58.5" y="145.5" width="2.2" height="1.8" fill="#2c2824"/><rect x="142" y="178.7" width="4.8" height="2.3" fill="#f2efe8"/><rect x="168.8" y="152.1" width="3" height="2.6" fill="#2c2824"/><rect x="70.2" y="188.2" width="3.8" height="3" fill="#9aa0a6"/><rect x="91.8" y="141.9" width="4.3" height="1.6" fill="#8a8276"/><rect x="120" y="186.8" width="5" height="2.4" fill="#d8dde4"/><rect x="66.7" y="201.2" width="3" height="3.1" fill="#6a645a"/><rect x="134.9" y="182" width="2.2" height="2.5" fill="#a0988c"/><rect x="131.8" y="147.4" width="4.8" height="2.9" fill="#d4cdc2"/><rect x="141.1" y="202.8" width="3.7" height="2.3" fill="#e6e2da"/><rect x="79.4" y="158.7" width="1.8" height="2.5" fill="#4a443c"/><rect x="167.2" y="181.6" width="2.3" height="1.7" fill="#f2efe8"/><rect x="73.7" y="179.5" width="3.9" height="1.5" fill="#9aa0a6"/><rect x="143.8" y="157.7" width="4.4" height="2.3" fill="#a0988c"/><rect x="162.4" y="145" width="4.9" height="2.9" fill="#d4cdc2"/><rect x="70.7" y="154.5" width="2.8" height="1.6" fill="#3a3530"/><rect x="101.5" y="141.9" width="2.6" height="3.1" fill="#3a3530"/><rect x="128.4" y="159.8" width="2.1" height="1.3" fill="#6aa8c8"/><rect x="65.7" y="184.9" width="4.9" height="2.3" fill="#3a3530"/><rect x="207.9" y="168.7" width="4.2" height="1.8" fill="#e6e2da"/><rect x="157.1" y="178.6" width="4.8" height="2.5" fill="#d4cdc2"/><rect x="64.7" y="187.1" width="1.6" height="2" fill="#3a3530"/><rect x="82.3" y="179.3" width="4.5" height="3.1" fill="#4a443c"/><rect x="187.4" y="186.7" width="2.6" height="1.6" fill="#767066"/><rect x="89.5" y="143.7" width="4.7" height="2.9" fill="#2c2824"/><rect x="58.7" y="174.2" width="3.7" height="2.8" fill="#8a8276"/><rect x="206" y="169.1" width="3.2" height="1.5" fill="#4a443c"/><rect x="154.1" y="144.1" width="2.3" height="1.5" fill="#f2efe8"/><rect x="123.6" y="147.5" width="4" height="1.2" fill="#9aa0a6"/><rect x="121.3" y="154.1" width="3.8" height="2.2" fill="#c6beb2"/><rect x="207.8" y="146.5" width="4" height="2" fill="#e8d050"/><rect x="144.5" y="167.3" width="3.4" height="2.2" fill="#d8dde4"/><rect x="200.1" y="195.4" width="4.9" height="3.1" fill="#e6e2da"/><rect x="169.8" y="157.5" width="3.8" height="2.3" fill="#c6beb2"/><rect x="130.4" y="180" width="2.5" height="1.9" fill="#8a8276"/><rect x="190.2" y="149.8" width="4.1" height="2.6" fill="#4a443c"/><rect x="112.6" y="175.2" width="3" height="2.3" fill="#f2efe8"/><rect x="94.6" y="150.1" width="4.9" height="1.6" fill="#a0988c"/><rect x="192.5" y="152" width="1.8" height="2.3" fill="#3a3530"/><rect x="89" y="166.5" width="3.4" height="2.6" fill="#9aa0a6"/><rect x="144.4" y="194.5" width="3.9" height="2.8" fill="#4a443c"/><rect x="141.7" y="184.7" width="4.1" height="1.4" fill="#9aa0a6"/><rect x="68.6" y="192.9" width="2.9" height="1.5" fill="#9aa0a6"/><rect x="112.9" y="177.9" width="2.9" height="1.3" fill="#4a443c"/><rect x="148.9" y="149.1" width="2.5" height="2.6" fill="#e6e2da"/><rect x="153.3" y="195.9" width="3.5" height="3" fill="#a0988c"/><rect x="111.8" y="193.7" width="4.3" height="2.7" fill="#c03a50"/><rect x="72" y="160.5" width="4.1" height="3.1" fill="#8a8276"/><rect x="185.1" y="159.1" width="2.7" height="1.9" fill="#e6e2da"/><rect x="202.8" y="181.9" width="2.4" height="1.6" fill="#d8dde4"/><rect x="123.7" y="190.2" width="3.2" height="1.3" fill="#d4cdc2"/><rect x="142.3" y="154.6" width="3.9" height="2" fill="#3a3530"/><rect x="139.8" y="183" width="4.3" height="3.1" fill="#e8d050"/><rect x="214.1" y="168.6" width="3.2" height="1.3" fill="#8a8276"/><rect x="81.7" y="192.1" width="3.9" height="2" fill="#d4cdc2"/><rect x="164.9" y="165.8" width="2.3" height="3.1" fill="#c6beb2"/><rect x="105.7" y="149.4" width="4.6" height="2.4" fill="#2c2824"/><rect x="185.5" y="185.6" width="2.7" height="2.1" fill="#767066"/><rect x="53" y="175.1" width="2.7" height="1.2" fill="#d8dde4"/><rect x="59.4" y="144.4" width="3.8" height="1.7" fill="#4a443c"/><rect x="213.6" y="159.3" width="3.5" height="2.4" fill="#4a443c"/><rect x="57.6" y="173.8" width="4.2" height="2.9" fill="#9aa0a6"/><rect x="155.4" y="159.8" width="2.5" height="2.8" fill="#a0988c"/><rect x="163.1" y="155.6" width="4.2" height="2.7" fill="#d4cdc2"/><rect x="109.1" y="173.1" width="2.9" height="1.3" fill="#c6beb2"/><rect x="196" y="189.6" width="3.3" height="3" fill="#767066"/><rect x="76.6" y="148.6" width="4.6" height="2.5" fill="#f2efe8"/><rect x="144.7" y="155.5" width="2.1" height="1.3" fill="#3a3530"/><rect x="93.1" y="174.6" width="3.8" height="3.1" fill="#2c2824"/><rect x="81.1" y="175.2" width="5" height="1.9" fill="#6a645a"/><rect x="169.6" y="199.5" width="4.4" height="1.8" fill="#3a3530"/><rect x="141.1" y="187.9" width="3.7" height="1.7" fill="#2c2824"/><rect x="117.1" y="148.2" width="3.6" height="2.9" fill="#d4cdc2"/><rect x="64" y="192" width="3.5" height="2.6" fill="#c03a50"/><rect x="139.5" y="196.2" width="3.7" height="3" fill="#c6beb2"/><rect x="193.4" y="135.9" width="3.2" height="2.4" fill="#d4cdc2"/><rect x="61.4" y="163.4" width="1.7" height="2.5" fill="#f2efe8"/><rect x="213" y="162.4" width="4.8" height="2.9" fill="#3a3530"/><rect x="144" y="204.1" width="1.7" height="2.4" fill="#767066"/><rect x="86.3" y="171.6" width="4.4" height="1.9" fill="#c6beb2"/><rect x="139.8" y="175.8" width="3.4" height="2.5" fill="#c6beb2"/><rect x="89.5" y="177.9" width="4.3" height="2.2" fill="#4a443c"/><rect x="102.4" y="188.9" width="4.9" height="2.1" fill="#d8dde4"/><rect x="138.3" y="153.4" width="2.4" height="2.3" fill="#3a3530"/><rect x="76.5" y="178.7" width="2.9" height="3.2" fill="#9aa0a6"/><rect x="133.8" y="173.4" width="2.1" height="3.1" fill="#d4cdc2"/><rect x="199.2" y="195.8" width="4.5" height="2.8" fill="#c6beb2"/><rect x="178.8" y="151.2" width="4.9" height="2.2" fill="#c6beb2"/><rect x="198.9" y="161.6" width="2.2" height="2.8" fill="#4a443c"/><rect x="171.5" y="138.6" width="3.8" height="2" fill="#8a8276"/><rect x="89.2" y="160.7" width="4.7" height="2" fill="#a0988c"/><rect x="167.6" y="151.2" width="2.7" height="1.9" fill="#c6beb2"/><rect x="100.6" y="204.6" width="2.3" height="2.3" fill="#3a3530"/><rect x="207.5" y="143.7" width="2.6" height="1.4" fill="#3c9c84"/><rect x="78.3" y="182.5" width="3.6" height="2.1" fill="#d4cdc2"/><rect x="190.8" y="186.2" width="1.7" height="2.7" fill="#f2efe8"/><rect x="192.8" y="204.6" width="2.5" height="1.2" fill="#2c2824"/><rect x="73.7" y="155.5" width="3.3" height="1.9" fill="#6a645a"/><rect x="107.3" y="199.2" width="4" height="3" fill="#8a8276"/><rect x="147.4" y="148.3" width="3.7" height="1.2" fill="#4a443c"/><rect x="89.8" y="164.6" width="1.9" height="1.2" fill="#767066"/><rect x="62.5" y="141.8" width="4.9" height="3.1" fill="#e6e2da"/><rect x="81.2" y="182.7" width="2" height="2.7" fill="#e6e2da"/><rect x="138.4" y="193.6" width="4.9" height="1.4" fill="#a0988c"/><rect x="171.2" y="153.4" width="2.1" height="1.7" fill="#2c2824"/><rect x="180.7" y="201.6" width="2.4" height="1.9" fill="#3a3530"/><rect x="140.7" y="173" width="3.9" height="3.2" fill="#767066"/><rect x="117.1" y="156.6" width="3" height="3.1" fill="#3a3530"/><rect x="195.7" y="191.1" width="4.6" height="2.5" fill="#d8dde4"/><rect x="203" y="152.1" width="3.6" height="2" fill="#2c2824"/><rect x="168.8" y="162.8" width="3.5" height="2.6" fill="#c6beb2"/><rect x="126.2" y="175" width="3.2" height="2.5" fill="#c6beb2"/><rect x="148.5" y="204.6" width="2.3" height="2.5" fill="#6a645a"/><rect x="211.1" y="152.9" width="3.8" height="2.9" fill="#4a443c"/><rect x="160.3" y="199.6" width="4.2" height="1.7" fill="#767066"/><rect x="137.1" y="167.8" width="2.3" height="1.5" fill="#9aa0a6"/><rect x="111.3" y="148.5" width="2.1" height="1.9" fill="#d4cdc2"/><rect x="186" y="166.7" width="3.7" height="2.9" fill="#8a8276"/><rect x="104.5" y="159.7" width="4.5" height="2.1" fill="#c6beb2"/><rect x="113.1" y="159.9" width="3.8" height="2.2" fill="#e6e2da"/><rect x="96.8" y="154.6" width="3.1" height="1.4" fill="#d4cdc2"/><rect x="175.7" y="144.6" width="3.9" height="1.9" fill="#2c2824"/><rect x="153.5" y="171.2" width="4.3" height="1.7" fill="#e6e2da"/><rect x="81.1" y="185" width="2.5" height="1.8" fill="#f2efe8"/><rect x="66.9" y="179.2" width="4.5" height="1.6" fill="#c6beb2"/><rect x="152.7" y="160.4" width="1.7" height="2.1" fill="#c6beb2"/><rect x="210.1" y="164.6" width="3.6" height="1.7" fill="#4a443c"/><rect x="73.1" y="177.9" width="4.9" height="2.9" fill="#e6e2da"/><rect x="160.5" y="157.4" width="1.7" height="2.7" fill="#4a443c"/><rect x="119.6" y="200.4" width="3.8" height="2.8" fill="#4a443c"/><rect x="127.4" y="166.8" width="4.4" height="2" fill="#e6e2da"/><rect x="123.7" y="168.9" width="3.3" height="2.8" fill="#a0988c"/><rect x="162.8" y="173.3" width="4.2" height="2.7" fill="#2c2824"/><rect x="190.2" y="174.5" width="1.6" height="2.2" fill="#a0988c"/><rect x="163" y="184.5" width="3.2" height="1.3" fill="#6a645a"/><rect x="189.5" y="144" width="2.9" height="1.3" fill="#c6beb2"/><rect x="106.5" y="170.8" width="1.5" height="3.2" fill="#c6beb2"/><rect x="66.1" y="161.2" width="3.8" height="1.8" fill="#f2efe8"/><rect x="163" y="155.8" width="2.4" height="2" fill="#d8dde4"/><rect x="93.9" y="148.3" width="1.7" height="2.3" fill="#3a3530"/><rect x="159" y="184.4" width="2" height="3.1" fill="#f2efe8"/><rect x="201.9" y="173.5" width="1.7" height="1.8" fill="#f2efe8"/><rect x="207.1" y="192.5" width="1.6" height="1.6" fill="#d4cdc2"/><rect x="167.8" y="191" width="3.6" height="2.1" fill="#6a645a"/><rect x="85.2" y="148.4" width="2.1" height="2.9" fill="#2c2824"/><rect x="192.6" y="139.1" width="3.6" height="1.6" fill="#9aa0a6"/><rect x="172.2" y="145.7" width="2.3" height="2.6" fill="#d4cdc2"/><rect x="139.1" y="145.3" width="4.2" height="2.6" fill="#f2efe8"/><rect x="67.5" y="189.7" width="4.8" height="2" fill="#c6beb2"/><rect x="167.1" y="165.4" width="3" height="2.9" fill="#a0988c"/><rect x="58.8" y="193.4" width="2.5" height="1.7" fill="#c6beb2"/><rect x="167.2" y="185.1" width="2.6" height="1.7" fill="#d4cdc2"/><rect x="76.8" y="190.8" width="4.9" height="2" fill="#3a3530"/><rect x="77.4" y="154.7" width="3.8" height="2.6" fill="#2c2824"/><rect x="170.7" y="164.5" width="3.9" height="1.4" fill="#8a8276"/><rect x="159.2" y="148.9" width="3.8" height="2.2" fill="#3a3530"/><rect x="108.7" y="187.3" width="3.2" height="3.1" fill="#3a3530"/><rect x="97.6" y="155.5" width="3.5" height="2.7" fill="#3a3530"/><rect x="96.2" y="197.4" width="4.5" height="1.7" fill="#8a8276"/><rect x="146.6" y="141.1" width="1.5" height="1.6" fill="#3a3530"/><rect x="60.2" y="157.7" width="3.1" height="1.7" fill="#a0988c"/><rect x="69.9" y="193.1" width="4.3" height="2.6" fill="#d8dde4"/><rect x="70.4" y="145.5" width="2.9" height="1.3" fill="#4a443c"/><rect x="67.8" y="179.9" width="2" height="2.4" fill="#c6beb2"/><rect x="170.6" y="186.1" width="2.8" height="2.5" fill="#2c2824"/><rect x="189.3" y="196" width="3.2" height="1.5" fill="#2c2824"/><rect x="71.1" y="169.2" width="3.4" height="1.4" fill="#d4cdc2"/><rect x="93.8" y="201.4" width="2.5" height="2.3" fill="#a0988c"/><rect x="170.4" y="172" width="2.3" height="1.4" fill="#2c2824"/><rect x="131.6" y="190.2" width="3.5" height="2.6" fill="#d4cdc2"/><rect x="77" y="152.8" width="1.6" height="2" fill="#c6beb2"/><rect x="144.9" y="142.6" width="3.8" height="1.6" fill="#4a443c"/><rect x="92.1" y="176.5" width="4.9" height="1.3" fill="#d4cdc2"/><rect x="184.8" y="158.3" width="4.3" height="2.1" fill="#8a8276"/><rect x="103.7" y="200.1" width="4.3" height="1.3" fill="#a0988c"/><rect x="171.6" y="182.2" width="2" height="1.9" fill="#2c2824"/><rect x="202.8" y="182.7" width="4" height="1.3" fill="#6aa8c8"/><rect x="58.1" y="171.3" width="2.7" height="1.3" fill="#e6e2da"/><rect x="84.4" y="178.4" width="4.5" height="2.8" fill="#4a443c"/><rect x="210.3" y="175.4" width="4.3" height="2.2" fill="#6a645a"/><rect x="74" y="192.8" width="4.8" height="3" fill="#9aa0a6"/><rect x="78.9" y="161.4" width="3.7" height="3.1" fill="#d8dde4"/><rect x="138.7" y="201.2" width="1.9" height="3.1" fill="#767066"/><rect x="174.4" y="194.2" width="2.3" height="2.4" fill="#f2efe8"/><rect x="145.7" y="200.3" width="4.6" height="1.3" fill="#f2efe8"/><rect x="181.4" y="182.5" width="4.8" height="2.9" fill="#e6e2da"/><rect x="89.2" y="181.7" width="4.3" height="2.5" fill="#6a645a"/><rect x="181.3" y="134.3" width="3.2" height="1.2" fill="#3a3530"/><rect x="120.2" y="176.9" width="3.1" height="1.9" fill="#c6beb2"/><rect x="116.2" y="167.1" width="1.6" height="1.9" fill="#a0988c"/><rect x="166.3" y="165.4" width="3.8" height="2.8" fill="#4a443c"/><rect x="154.2" y="160.7" width="4.6" height="2" fill="#d4cdc2"/><rect x="111.1" y="149.9" width="4.6" height="2.4" fill="#6a645a"/><rect x="102.3" y="156.6" width="4.6" height="2.8" fill="#d4cdc2"/><rect x="191.1" y="141.4" width="2.4" height="2.3" fill="#c6beb2"/><rect x="162.2" y="203.9" width="4.1" height="2.7" fill="#d4cdc2"/><rect x="203.4" y="197.5" width="3.8" height="1.4" fill="#f2efe8"/><rect x="95.4" y="155" width="2.6" height="2.6" fill="#d8dde4"/><rect x="183.8" y="138.2" width="3.8" height="2.2" fill="#e6e2da"/><rect x="61.3" y="193.3" width="3.9" height="2.3" fill="#d8dde4"/><rect x="197.3" y="185.7" width="4.1" height="1.3" fill="#d4cdc2"/><rect x="53.2" y="200.5" width="2.5" height="1.6" fill="#9aa0a6"/><rect x="59.6" y="161.8" width="4.1" height="2.5" fill="#d4cdc2"/><rect x="99.5" y="172.6" width="3" height="3.2" fill="#f2efe8"/><rect x="132.4" y="203.2" width="2.8" height="3" fill="#d8dde4"/><rect x="138.8" y="197.5" width="2.2" height="2.8" fill="#3a3530"/><rect x="172.4" y="146.1" width="2.6" height="1.3" fill="#3a3530"/><rect x="178.7" y="159.6" width="3.9" height="1.7" fill="#6a645a"/><rect x="84.2" y="156.8" width="3" height="1.4" fill="#3a3530"/><rect x="104.1" y="190.3" width="3.2" height="1.4" fill="#9aa0a6"/><rect x="125.4" y="193.4" width="3.7" height="2.8" fill="#d4cdc2"/><rect x="97.5" y="172" width="3.8" height="2.9" fill="#e6e2da"/><rect x="96.9" y="159.8" width="4.7" height="2.3" fill="#e6e2da"/><rect x="94.3" y="188.8" width="1.6" height="2.9" fill="#c6beb2"/><rect x="150.1" y="159.5" width="4.9" height="3" fill="#8a8276"/><rect x="174.9" y="182.1" width="2.9" height="2.8" fill="#3a3530"/><rect x="79" y="146.5" width="4" height="2.7" fill="#3a3530"/><rect x="116.3" y="200.8" width="4.1" height="1.9" fill="#c6beb2"/><rect x="109" y="147.2" width="4.6" height="2.3" fill="#c6beb2"/><rect x="73.8" y="158" width="1.7" height="2" fill="#d8dde4"/><rect x="160.9" y="175" width="2.9" height="2.3" fill="#d4cdc2"/><rect x="76.6" y="181.7" width="4.1" height="2.2" fill="#8a8276"/><rect x="173.1" y="192.3" width="3.8" height="3" fill="#4a443c"/><rect x="194.7" y="161.3" width="4.6" height="2.6" fill="#9aa0a6"/><rect x="186.4" y="153.4" width="2.2" height="1.6" fill="#4a443c"/><rect x="144.7" y="197.1" width="1.8" height="1.2" fill="#e6e2da"/><rect x="188.7" y="157.1" width="1.5" height="2.5" fill="#3a3530"/><rect x="134" y="203.4" width="3.6" height="2.4" fill="#4a443c"/><rect x="186.9" y="141.8" width="2.3" height="2.5" fill="#3a3530"/><rect x="138.5" y="150.4" width="3.4" height="2.8" fill="#4a443c"/><rect x="178.8" y="136" width="3.3" height="2" fill="#4a443c"/><rect x="70.3" y="161.7" width="4.8" height="2" fill="#8a8276"/><rect x="183.1" y="202.3" width="2.7" height="3.2" fill="#3a3530"/><rect x="145.8" y="164.6" width="4.9" height="3" fill="#a0988c"/><rect x="107.7" y="147.5" width="2.9" height="1.8" fill="#4a443c"/><rect x="198.3" y="135.2" width="4.2" height="2.8" fill="#c6beb2"/><rect x="84.8" y="187.6" width="4.4" height="1.8" fill="#8a8276"/><rect x="202" y="185.3" width="4" height="1.3" fill="#e6e2da"/><rect x="188.2" y="179.6" width="4.1" height="2.3" fill="#d4cdc2"/><rect x="144.2" y="156.4" width="2.7" height="1.4" fill="#767066"/><rect x="168.2" y="188.9" width="2.7" height="2.9" fill="#f2efe8"/><rect x="107" y="156.6" width="4.6" height="3.2" fill="#9aa0a6"/><rect x="143.8" y="170.1" width="2.2" height="1.7" fill="#2c2824"/><rect x="167.8" y="201.1" width="4.9" height="2.1" fill="#6a645a"/><rect x="78.2" y="197.6" width="3" height="1.5" fill="#4a443c"/><rect x="147.4" y="160.9" width="1.5" height="2.9" fill="#6a645a"/><rect x="179.2" y="148.5" width="3.5" height="3" fill="#c6beb2"/><rect x="153.8" y="196.9" width="3.2" height="2.5" fill="#d4cdc2"/><rect x="85.3" y="159.2" width="4.6" height="1.4" fill="#a0988c"/><rect x="123.7" y="174.6" width="4.7" height="2.6" fill="#8a8276"/><rect x="144.9" y="185.1" width="4.5" height="1.5" fill="#d4cdc2"/><rect x="168.8" y="167.3" width="4.6" height="2.4" fill="#3a3530"/><rect x="90.9" y="204.1" width="2.3" height="2" fill="#a0988c"/><rect x="155.3" y="186.7" width="1.6" height="1.4" fill="#8a8276"/><rect x="91.2" y="200.1" width="2.3" height="2.5" fill="#9aa0a6"/><rect x="201.8" y="152.7" width="2" height="1.2" fill="#e6e2da"/><rect x="175.8" y="196.6" width="1.8" height="1.5" fill="#d8dde4"/><rect x="135.5" y="141.5" width="4.3" height="3" fill="#8a8276"/><rect x="143.5" y="177.5" width="4.3" height="2.3" fill="#9aa0a6"/><rect x="152.3" y="166.5" width="3.8" height="2.3" fill="#d4cdc2"/><rect x="187.2" y="191.6" width="3.1" height="1.4" fill="#d4cdc2"/><rect x="161.5" y="203.8" width="3.6" height="1.4" fill="#e6e2da"/><rect x="66.3" y="151" width="4.6" height="3.2" fill="#3a3530"/><rect x="101.3" y="188.1" width="2" height="2.4" fill="#a0988c"/><rect x="70.5" y="183.2" width="3.6" height="2.2" fill="#f2efe8"/><rect x="202.6" y="174.8" width="2.2" height="2.7" fill="#e6e2da"/><rect x="200.8" y="193.4" width="4" height="1.3" fill="#6a645a"/><rect x="182.6" y="137.9" width="3.7" height="1.8" fill="#2c2824"/><rect x="93.2" y="155.3" width="2.7" height="1.8" fill="#3a3530"/><rect x="78.6" y="201.2" width="3.8" height="2.1" fill="#c6beb2"/><rect x="96.7" y="151.7" width="2.9" height="1.2" fill="#3a3530"/><rect x="202.1" y="157.3" width="4.2" height="2.7" fill="#8a8276"/><rect x="138.7" y="141.4" width="4.4" height="1.8" fill="#c6beb2"/><rect x="62.5" y="142.7" width="3.1" height="1.6" fill="#4a443c"/><rect x="139.8" y="200.6" width="2.9" height="3" fill="#8a8276"/><rect x="157.6" y="149.5" width="4.1" height="3" fill="#f2efe8"/><rect x="168.7" y="204.3" width="2.1" height="2.1" fill="#767066"/><rect x="174.8" y="151.6" width="2.4" height="1.3" fill="#d4cdc2"/><rect x="156.5" y="177.9" width="3.8" height="2.7" fill="#2c2824"/><rect x="149.5" y="183.3" width="2.6" height="1.3" fill="#2c2824"/><rect x="142.8" y="185.3" width="3.8" height="2.2" fill="#6a645a"/><rect x="81" y="141.1" width="2.6" height="2" fill="#f2efe8"/><rect x="213.3" y="196.3" width="4.5" height="2.1" fill="#d4cdc2"/><rect x="57" y="192.8" width="2.3" height="2.9" fill="#767066"/><rect x="83" y="198.2" width="2.1" height="2.5" fill="#c6beb2"/><rect x="81.4" y="144.2" width="1.8" height="3.2" fill="#4a443c"/><rect x="66.5" y="175.4" width="1.7" height="1.8" fill="#d4cdc2"/><rect x="204.6" y="159.2" width="3.4" height="1.6" fill="#c6beb2"/><rect x="112.4" y="145.8" width="3.8" height="2.9" fill="#a0988c"/><rect x="98.5" y="161" width="4.2" height="1.6" fill="#2c2824"/><rect x="176.3" y="194.6" width="2.3" height="3" fill="#e6e2da"/><rect x="60.2" y="181.1" width="4.4" height="1.7" fill="#3a3530"/><rect x="131.5" y="141.8" width="3.4" height="2.2" fill="#f2efe8"/><rect x="130.2" y="146.3" width="2.3" height="2.1" fill="#2c2824"/><rect x="95.4" y="165.5" width="2.3" height="1.9" fill="#4a443c"/><rect x="88.3" y="186.8" width="3.5" height="2.9" fill="#6a645a"/><rect x="69.9" y="201" width="3.3" height="1.7" fill="#3a3530"/><rect x="95.2" y="199.6" width="3.1" height="2.7" fill="#3a3530"/><rect x="97.7" y="190" width="1.7" height="2.6" fill="#c6beb2"/><rect x="158.4" y="170.5" width="1.6" height="2.1" fill="#9aa0a6"/><rect x="157.7" y="188.9" width="3.8" height="1.5" fill="#f2efe8"/><rect x="183" y="201.1" width="4.1" height="2.9" fill="#d4cdc2"/><rect x="126.7" y="185.4" width="3.1" height="2.9" fill="#d4cdc2"/><rect x="188.8" y="155.6" width="2.6" height="1.6" fill="#2c2824"/><rect x="206.6" y="150.6" width="3.2" height="2.2" fill="#6a645a"/><rect x="161.6" y="149.1" width="4.7" height="1.6" fill="#c6beb2"/><rect x="214.9" y="166.4" width="2.3" height="3.1" fill="#3a3530"/><rect x="80.9" y="163.3" width="4" height="2.3" fill="#a0988c"/><rect x="187" y="134" width="3.6" height="1.7" fill="#4a443c"/><rect x="141.3" y="161.4" width="2.4" height="2.3" fill="#f2efe8"/><rect x="76.3" y="143.7" width="3.3" height="2.4" fill="#8a8276"/><rect x="79.3" y="164" width="1.8" height="2.8" fill="#767066"/><rect x="196.8" y="181" width="4.5" height="3.1" fill="#f2efe8"/><rect x="67.5" y="164.9" width="4.4" height="3.1" fill="#8a8276"/><rect x="99.1" y="202.6" width="4.5" height="2" fill="#c6beb2"/><rect x="183.5" y="180.4" width="3.3" height="1.4" fill="#d8dde4"/><rect x="147.6" y="190.9" width="4.6" height="3.1" fill="#2c2824"/><rect x="148.5" y="152" width="2.8" height="2.9" fill="#a0988c"/><rect x="119.2" y="201.9" width="2.4" height="2.8" fill="#8a8276"/><rect x="153.8" y="167.5" width="3.9" height="2.8" fill="#6aa8c8"/><rect x="107.4" y="188" width="4.8" height="3" fill="#c6beb2"/><rect x="180.1" y="150.5" width="3" height="3.1" fill="#3a3530"/><rect x="117.4" y="143.5" width="4.1" height="1.9" fill="#f2efe8"/><rect x="160.1" y="188.4" width="1.9" height="1.6" fill="#c6beb2"/><rect x="70.4" y="170.2" width="4.6" height="2.4" fill="#f2efe8"/><rect x="146.9" y="200.9" width="3.5" height="1.9" fill="#6a645a"/><rect x="103.3" y="191.6" width="3.9" height="2.6" fill="#6a645a"/><rect x="112.3" y="202.3" width="4.2" height="2.9" fill="#d4cdc2"/><rect x="166.9" y="202.6" width="2.2" height="2.7" fill="#c6beb2"/><rect x="126.2" y="181.3" width="4.2" height="1.3" fill="#9aa0a6"/><rect x="139.2" y="185.5" width="2.5" height="1.3" fill="#d8602e"/><rect x="66" y="151.7" width="2.1" height="1.5" fill="#a0988c"/><rect x="55.1" y="142.1" width="4.8" height="3.1" fill="#3a3530"/><rect x="64" y="158.8" width="2.5" height="2.7" fill="#767066"/><rect x="153.7" y="183.5" width="2.4" height="2.8" fill="#767066"/><rect x="133.8" y="144" width="3.6" height="3.2" fill="#a0988c"/><rect x="188.7" y="164" width="2.5" height="1.2" fill="#2c2824"/><rect x="182.7" y="140.7" width="3.6" height="1.6" fill="#f2efe8"/><rect x="181" y="150.4" width="1.8" height="2.5" fill="#d4cdc2"/><rect x="54.1" y="200.3" width="2.3" height="2.9" fill="#c6beb2"/><rect x="133.7" y="171.1" width="2.7" height="1.3" fill="#e6e2da"/><rect x="88" y="154.6" width="3.7" height="2.6" fill="#d4cdc2"/><rect x="85.4" y="156.1" width="3.8" height="1.7" fill="#2c2824"/><rect x="127.5" y="158.1" width="4" height="2.6" fill="#767066"/><rect x="116.6" y="171.1" width="2.6" height="2.7" fill="#c6beb2"/><rect x="60" y="170.5" width="2" height="3.1" fill="#6a645a"/><rect x="56.9" y="156.8" width="4.2" height="2.6" fill="#6a645a"/><rect x="138.3" y="189.1" width="1.9" height="1.3" fill="#f2efe8"/><rect x="62.9" y="191.1" width="3.3" height="2.1" fill="#6a645a"/><rect x="177.6" y="160.4" width="3.1" height="3.1" fill="#9aa0a6"/><rect x="60.3" y="188.6" width="1.8" height="3" fill="#4a443c"/><rect x="73" y="167.1" width="3.7" height="1.8" fill="#4a443c"/><rect x="177.6" y="165.1" width="1.8" height="2" fill="#4a443c"/><rect x="60.3" y="154.5" width="4.2" height="1.5" fill="#2c2824"/><rect x="103.5" y="192.1" width="3.6" height="2" fill="#f2efe8"/><rect x="176.7" y="164.2" width="2.7" height="1.4" fill="#4a443c"/><rect x="71.1" y="152.4" width="4.1" height="3" fill="#6a645a"/><rect x="88.9" y="147.1" width="4.3" height="2.7" fill="#2c2824"/><rect x="171.6" y="143.2" width="2.2" height="3.1" fill="#4a443c"/><rect x="107.2" y="151.6" width="2.4" height="2.1" fill="#a0988c"/><rect x="211.1" y="177.7" width="2.6" height="2.7" fill="#a0988c"/><rect x="52" y="150.5" width="2.7" height="2.8" fill="#2c2824"/><rect x="198.6" y="201.6" width="2.6" height="2.9" fill="#767066"/><rect x="206.8" y="155.4" width="3.7" height="2" fill="#2c2824"/><rect x="54.1" y="182" width="4.1" height="2.7" fill="#d4cdc2"/><rect x="185.2" y="179.7" width="1.7" height="3" fill="#2c2824"/><rect x="184.5" y="152" width="3.8" height="2" fill="#d4cdc2"/><rect x="91.1" y="184.6" width="3.8" height="1.3" fill="#a0988c"/><rect x="190.2" y="196.4" width="2" height="3.1" fill="#9aa0a6"/><rect x="193.8" y="172.9" width="3.1" height="1.9" fill="#d4cdc2"/><rect x="170.9" y="159.6" width="1.7" height="1.4" fill="#8a8276"/><rect x="63" y="186.6" width="2.2" height="2.1" fill="#f2efe8"/><rect x="207.5" y="156" width="3.7" height="3" fill="#3a3530"/><rect x="171.6" y="156.1" width="4.6" height="2.3" fill="#4a443c"/><rect x="214.6" y="197.6" width="1.7" height="2.1" fill="#3c9c84"/><rect x="85.9" y="159.7" width="2.8" height="3.1" fill="#8a8276"/><rect x="158.7" y="174.4" width="3.1" height="2.3" fill="#2c2824"/><rect x="137.4" y="192.2" width="4.3" height="1.9" fill="#d8dde4"/><rect x="182.7" y="149.5" width="4.6" height="3.2" fill="#3a3530"/><rect x="119.9" y="157.2" width="5" height="2.2" fill="#6a645a"/><rect x="141.1" y="169.5" width="3.8" height="1.5" fill="#9aa0a6"/><rect x="198.7" y="145.6" width="1.6" height="2.5" fill="#e6e2da"/><rect x="193.6" y="159.7" width="4.7" height="1.6" fill="#4a443c"/><rect x="190.7" y="184.7" width="4" height="1.6" fill="#d4cdc2"/><rect x="143.3" y="144.2" width="3.7" height="2.8" fill="#d8dde4"/><rect x="164.1" y="176.9" width="2.3" height="1.6" fill="#e6e2da"/><rect x="107.5" y="184.9" width="4.1" height="1.7" fill="#d8dde4"/><rect x="186" y="150.5" width="2.1" height="2.9" fill="#8a8276"/><rect x="174.1" y="184.6" width="4" height="1.7" fill="#9aa0a6"/><rect x="60.6" y="201" width="3" height="1.4" fill="#4a443c"/><rect x="162.5" y="144.1" width="3.1" height="2.5" fill="#767066"/><rect x="118.5" y="185.2" width="5" height="1.7" fill="#767066"/><rect x="152.8" y="155.5" width="2.1" height="1.6" fill="#2c2824"/><rect x="148.1" y="142.8" width="2.5" height="2" fill="#9aa0a6"/><rect x="131.3" y="201.1" width="3.1" height="1.6" fill="#d4cdc2"/><rect x="133.5" y="150.5" width="2.7" height="2" fill="#2c2824"/><rect x="109.7" y="164.2" width="2.7" height="2.6" fill="#d4cdc2"/><rect x="127.8" y="193.3" width="3.4" height="1.3" fill="#6a645a"/><rect x="109.8" y="178.7" width="4.7" height="2" fill="#c6beb2"/><rect x="77.5" y="180.3" width="4.1" height="1.2" fill="#767066"/><rect x="162.5" y="162.3" width="2.6" height="2.3" fill="#d4cdc2"/><rect x="141.6" y="162.6" width="2.1" height="1.4" fill="#8a8276"/><rect x="152.5" y="191.3" width="3" height="1.7" fill="#e6e2da"/><rect x="109" y="171.8" width="4.8" height="2.5" fill="#c6beb2"/><rect x="93.5" y="177.3" width="3.5" height="2.9" fill="#3a3530"/><rect x="63" y="191.5" width="3.7" height="1.2" fill="#767066"/><rect x="185.9" y="145.4" width="3.9" height="1.2" fill="#2c2824"/><rect x="172.1" y="144" width="2.6" height="1.6" fill="#2c2824"/><rect x="171.5" y="185.1" width="4.7" height="3.1" fill="#e6e2da"/><rect x="178" y="144.5" width="4.4" height="1.3" fill="#4a443c"/><rect x="194.3" y="187.5" width="3.6" height="3.2" fill="#2c2824"/><rect x="105.4" y="183.3" width="2.1" height="2.1" fill="#2c2824"/><rect x="151.3" y="181.7" width="4.9" height="1.9" fill="#6a645a"/><rect x="105" y="163" width="3.1" height="2.2" fill="#4a443c"/><rect x="167.1" y="146.4" width="2.1" height="1.5" fill="#4a443c"/><rect x="158.8" y="165.6" width="3.7" height="3" fill="#9aa0a6"/><rect x="180.9" y="174.9" width="3.1" height="3" fill="#c6beb2"/><rect x="159.6" y="170.3" width="2" height="1.3" fill="#9aa0a6"/><rect x="75.2" y="146.4" width="2.8" height="2.6" fill="#b8442e"/><rect x="189.6" y="159.7" width="4" height="1.6" fill="#f2efe8"/><rect x="106.4" y="168" width="3.5" height="3.2" fill="#3a3530"/><rect x="83.1" y="204.5" width="2.2" height="2.5" fill="#e6e2da"/><rect x="213.5" y="182.8" width="2.6" height="2.7" fill="#d8dde4"/><rect x="106.9" y="174.7" width="3.4" height="3.1" fill="#8a8276"/><rect x="132.2" y="192.8" width="1.7" height="2.1" fill="#3a3530"/><rect x="199.9" y="175.6" width="3" height="3.1" fill="#2c2824"/><rect x="68.8" y="153.6" width="1.9" height="2.9" fill="#c6beb2"/><rect x="65.3" y="165.9" width="2.8" height="1.3" fill="#767066"/><rect x="87" y="180.5" width="2.5" height="1.9" fill="#9aa0a6"/><rect x="214.7" y="164.3" width="3.5" height="2.8" fill="#6a645a"/><rect x="156.8" y="156.6" width="3.9" height="2.6" fill="#8a8276"/><rect x="174.1" y="144.3" width="3.9" height="1.3" fill="#9aa0a6"/><rect x="172.1" y="200.6" width="2.7" height="2.9" fill="#767066"/><rect x="184.8" y="136.4" width="3.2" height="1.4" fill="#e6e2da"/><rect x="87.1" y="176.7" width="4.6" height="1.4" fill="#d8dde4"/><rect x="82.2" y="143.7" width="4.4" height="1.4" fill="#4a443c"/><rect x="94.4" y="145.7" width="4.7" height="1.6" fill="#a0988c"/><rect x="92.8" y="198.8" width="2.3" height="3" fill="#e6e2da"/><rect x="154.8" y="171.8" width="4.5" height="2.1" fill="#3a3530"/><rect x="183.3" y="182.4" width="4.1" height="1.7" fill="#d8dde4"/><rect x="208.8" y="199.5" width="2.1" height="2.6" fill="#f2efe8"/><rect x="197" y="199" width="4.6" height="2.1" fill="#9aa0a6"/><rect x="111.9" y="173.3" width="4.2" height="2.4" fill="#2c2824"/><rect x="111.9" y="202.1" width="4.9" height="1.5" fill="#c6beb2"/><rect x="114.8" y="172.9" width="2.6" height="1.3" fill="#e6e2da"/><rect x="208" y="166.3" width="2.8" height="2.8" fill="#767066"/><rect x="130.4" y="200" width="2.2" height="3.1" fill="#d4cdc2"/><rect x="110.7" y="176.9" width="2.6" height="3.1" fill="#d8dde4"/><rect x="142.2" y="148.6" width="3.3" height="1.4" fill="#8a8276"/><rect x="163.5" y="199.8" width="5" height="2.6" fill="#8a8276"/><rect x="95.5" y="203.2" width="1.8" height="1.8" fill="#8a8276"/><rect x="136" y="158.9" width="4" height="2.3" fill="#4a443c"/><rect x="85" y="146.7" width="4.4" height="1.4" fill="#767066"/><rect x="147.4" y="186.5" width="4.8" height="2.5" fill="#e6e2da"/><rect x="63" y="193" width="4.9" height="1.4" fill="#767066"/><rect x="135.8" y="164.4" width="4.5" height="1.2" fill="#2c2824"/><rect x="214" y="178.3" width="3.8" height="1.5" fill="#9aa0a6"/><rect x="73.7" y="199.3" width="2.8" height="2.3" fill="#2c2824"/><rect x="76.3" y="175.8" width="4.3" height="1.5" fill="#d8dde4"/><rect x="67.7" y="169.3" width="3.1" height="2.7" fill="#a0988c"/><rect x="120.9" y="150.8" width="4.1" height="1.7" fill="#a0988c"/><rect x="178.1" y="193.3" width="3.6" height="2.1" fill="#e6e2da"/><rect x="88.2" y="181.6" width="4.4" height="2.1" fill="#e6e2da"/><rect x="150.5" y="146.8" width="1.7" height="1.4" fill="#2c2824"/><rect x="175" y="139.3" width="4.2" height="2.1" fill="#d4cdc2"/><rect x="101.8" y="157" width="4.7" height="2.6" fill="#d4cdc2"/><rect x="147.7" y="169.3" width="5" height="2.7" fill="#8a8276"/><rect x="59.8" y="171" width="4.1" height="1.6" fill="#d4cdc2"/><rect x="161.1" y="164.8" width="3.8" height="1.4" fill="#8a8276"/><rect x="166.4" y="181" width="1.9" height="2" fill="#c6beb2"/><rect x="214" y="157.8" width="2.4" height="2.5" fill="#3a3530"/><rect x="119.9" y="194" width="1.7" height="1.4" fill="#2c2824"/><rect x="213.5" y="199.3" width="1.8" height="2.2" fill="#d4cdc2"/><rect x="68.2" y="199.7" width="3.5" height="2.1" fill="#4a443c"/><rect x="184.8" y="167.6" width="2" height="2.2" fill="#4a443c"/><rect x="56.1" y="147.1" width="4.9" height="2.6" fill="#8a8276"/><rect x="70.4" y="156.9" width="1.7" height="2.4" fill="#c6beb2"/><rect x="79.8" y="192.9" width="2.9" height="2.9" fill="#3a3530"/><rect x="66.9" y="185.6" width="4.5" height="2.5" fill="#3a3530"/><rect x="168.8" y="142.2" width="2.8" height="2.5" fill="#b8442e"/><rect x="194.5" y="140" width="2.6" height="2.4" fill="#d8dde4"/><rect x="193" y="175.8" width="4.9" height="2.5" fill="#9aa0a6"/><rect x="138.9" y="156.1" width="2.2" height="2.7" fill="#3a3530"/><rect x="135.2" y="175.8" width="2.3" height="1.8" fill="#d8dde4"/><rect x="55.6" y="164.5" width="3.6" height="1.3" fill="#e6e2da"/><rect x="177.5" y="184" width="4.2" height="2.2" fill="#d8dde4"/><rect x="140.4" y="172.6" width="2.5" height="2.9" fill="#3a3530"/><rect x="130.7" y="185.9" width="2.2" height="2.1" fill="#c6beb2"/><rect x="110.7" y="180.4" width="4.4" height="3.2" fill="#c6beb2"/><rect x="155.5" y="183.2" width="2.5" height="1.3" fill="#e6e2da"/><rect x="123.3" y="177.2" width="4.6" height="2.9" fill="#d4cdc2"/><rect x="107.5" y="167.5" width="4" height="2.7" fill="#2c2824"/><rect x="112.2" y="153.2" width="3.2" height="2.6" fill="#6a645a"/><rect x="193.4" y="165.2" width="3" height="1.8" fill="#a0988c"/><rect x="168.2" y="159" width="1.7" height="2.5" fill="#e6e2da"/><rect x="190.8" y="197.2" width="3" height="1.6" fill="#767066"/><rect x="135" y="141.9" width="2.5" height="2.2" fill="#767066"/><rect x="212.8" y="161.8" width="2.2" height="2.8" fill="#8a8276"/><rect x="176.1" y="157.6" width="3.9" height="2.4" fill="#2c2824"/><rect x="146.4" y="174.7" width="2.3" height="1.4" fill="#a0988c"/><rect x="90" y="175.6" width="3.5" height="1.8" fill="#3a3530"/><rect x="136.1" y="194.4" width="1.8" height="2.1" fill="#f2efe8"/><rect x="102.7" y="163.6" width="2.8" height="3" fill="#3a3530"/><rect x="91.2" y="194.8" width="2.4" height="2.4" fill="#e6e2da"/><rect x="136.7" y="173.1" width="2.6" height="2.1" fill="#6a645a"/><rect x="212.9" y="137.9" width="2.8" height="1.7" fill="#d8dde4"/><rect x="189.3" y="172.9" width="2.9" height="2.8" fill="#3a3530"/><rect x="175.7" y="187.1" width="4.8" height="3" fill="#d4cdc2"/><rect x="199.5" y="147.1" width="1.5" height="2" fill="#4a443c"/><rect x="108.7" y="160.2" width="4" height="1.4" fill="#e6e2da"/><rect x="112.6" y="195.1" width="2.2" height="3" fill="#c6beb2"/><rect x="150.1" y="173.7" width="2.5" height="2.7" fill="#c6beb2"/><rect x="189.5" y="160" width="4.9" height="2.5" fill="#4a443c"/><rect x="189.7" y="158" width="3" height="3.1" fill="#f2efe8"/><rect x="52.6" y="204.9" width="2.2" height="2.3" fill="#c6beb2"/><rect x="89.9" y="190.1" width="3.1" height="2.9" fill="#e6e2da"/><rect x="56.7" y="149.6" width="4.9" height="2.6" fill="#f2efe8"/><rect x="141" y="190.9" width="3.4" height="1.3" fill="#2c2824"/><rect x="94.2" y="179.8" width="2" height="2.4" fill="#4a443c"/><rect x="193.8" y="154.6" width="3.4" height="2.6" fill="#e6e2da"/><rect x="74" y="155.9" width="3.9" height="2.3" fill="#d8dde4"/><rect x="187.9" y="181.7" width="4.1" height="1.8" fill="#3a3530"/><rect x="132.5" y="173" width="2.1" height="1.3" fill="#8a8276"/><rect x="204.2" y="203" width="4" height="1.7" fill="#a0988c"/><rect x="199.6" y="201.4" width="1.6" height="2.4" fill="#e6e2da"/><rect x="187.3" y="182.9" width="3.4" height="2.9" fill="#c6beb2"/><rect x="150.3" y="143.4" width="2.8" height="3" fill="#4a443c"/><rect x="71.7" y="145.3" width="2.5" height="1.8" fill="#8a8276"/><rect x="193.8" y="204.3" width="3" height="2.8" fill="#e6e2da"/><rect x="184.1" y="186" width="2.3" height="1.4" fill="#9aa0a6"/><rect x="130.9" y="176.6" width="4.6" height="2" fill="#f2efe8"/><rect x="180.1" y="166.4" width="2.2" height="3.1" fill="#4a443c"/><rect x="207.4" y="170.2" width="2" height="1.8" fill="#2c2824"/><rect x="87.4" y="201.7" width="2.8" height="2.2" fill="#e6e2da"/><rect x="153.7" y="188.4" width="4.3" height="2.6" fill="#d4cdc2"/><rect x="108.6" y="186" width="3.8" height="2" fill="#d4cdc2"/><rect x="121.3" y="147.1" width="4.9" height="1.6" fill="#a0988c"/><rect x="109.6" y="191.7" width="1.8" height="1.8" fill="#f2efe8"/><rect x="97.9" y="176.1" width="4.4" height="1.8" fill="#767066"/><rect x="93.4" y="193" width="3.4" height="2.4" fill="#d4cdc2"/><rect x="166.2" y="146.1" width="3.9" height="1.4" fill="#6a645a"/><rect x="184.9" y="165" width="3.9" height="3.1" fill="#2c2824"/><rect x="77.4" y="146.2" width="4.6" height="1.8" fill="#f2efe8"/><rect x="115.2" y="144.6" width="2.1" height="2.4" fill="#3a3530"/><rect x="147.6" y="147.7" width="3.8" height="2.2" fill="#2c2824"/><rect x="124.4" y="197.2" width="3.8" height="1.4" fill="#c6beb2"/><rect x="154.8" y="176.2" width="4.8" height="1.5" fill="#e6e2da"/><rect x="156.9" y="183.1" width="2" height="2.3" fill="#8a8276"/><rect x="61.8" y="174.7" width="4.6" height="1.6" fill="#c6beb2"/><rect x="131.8" y="151.8" width="2.6" height="2.1" fill="#4a443c"/><rect x="119.4" y="187.6" width="4.5" height="1.4" fill="#6a645a"/><rect x="165.6" y="189.4" width="5" height="1.6" fill="#3a3530"/><rect x="119.1" y="200.1" width="2.9" height="1.8" fill="#4a443c"/><rect x="173.9" y="182.1" width="3.5" height="2.3" fill="#767066"/><rect x="81" y="162.8" width="4.6" height="2" fill="#9aa0a6"/><rect x="87.2" y="201.6" width="4.7" height="3.2" fill="#e6e2da"/><rect x="65" y="160.2" width="4.6" height="3.2" fill="#6aa8c8"/><rect x="155" y="193.9" width="3.1" height="1.5" fill="#d4cdc2"/><rect x="75.3" y="161.9" width="1.5" height="1.8" fill="#c6beb2"/><rect x="136.7" y="150.4" width="1.7" height="1.3" fill="#2c2824"/><rect x="180.9" y="155.7" width="3.4" height="2.8" fill="#4a443c"/><rect x="156.7" y="204.7" width="2.5" height="2.8" fill="#a0988c"/><rect x="152.4" y="179.2" width="4.1" height="3" fill="#3a3530"/><rect x="100.9" y="202.7" width="2.8" height="2.1" fill="#d4cdc2"/><rect x="104.4" y="179.9" width="4.4" height="2" fill="#767066"/><rect x="188" y="175.6" width="3.8" height="1.7" fill="#a0988c"/><rect x="123.8" y="188.2" width="2.5" height="1.5" fill="#f2efe8"/><rect x="76.2" y="153.4" width="4.4" height="1.4" fill="#2c2824"/><rect x="57.5" y="165.5" width="4.7" height="1.8" fill="#8a8276"/><rect x="68.7" y="190.8" width="2.9" height="2.2" fill="#6a645a"/><rect x="111.3" y="190.7" width="1.8" height="1.3" fill="#e6e2da"/><rect x="184.9" y="173.2" width="3.6" height="1.3" fill="#3a3530"/><rect x="123.9" y="175.6" width="2.6" height="3.1" fill="#e6e2da"/><rect x="140.5" y="180.6" width="2.6" height="1.3" fill="#3a3530"/><rect x="62.4" y="183.2" width="3.6" height="2.6" fill="#f2efe8"/><rect x="99.2" y="174.8" width="1.6" height="2.1" fill="#d8dde4"/><rect x="96.8" y="179.6" width="1.8" height="2.8" fill="#d4cdc2"/><rect x="112.1" y="156.5" width="4.4" height="1.8" fill="#2c2824"/><rect x="119.2" y="197.4" width="2.5" height="3.2" fill="#6a645a"/><rect x="205.8" y="152.3" width="4.4" height="2.4" fill="#4a443c"/><rect x="157.6" y="191.5" width="3.5" height="1.4" fill="#a0988c"/><rect x="110.7" y="183" width="4.8" height="2" fill="#4a443c"/><rect x="67.6" y="180.9" width="1.9" height="2.2" fill="#f2efe8"/><rect x="59" y="147.6" width="4.9" height="2" fill="#c6beb2"/><rect x="160.6" y="173.9" width="4.9" height="1.8" fill="#f2efe8"/><rect x="136" y="147.3" width="4.8" height="3.1" fill="#9aa0a6"/><rect x="127.9" y="193.6" width="2.3" height="2.7" fill="#a0988c"/><rect x="187.8" y="196.4" width="2.4" height="2.8" fill="#c6beb2"/><rect x="150" y="203.9" width="4.6" height="1.6" fill="#d4cdc2"/><rect x="79.8" y="145.1" width="3.5" height="1.6" fill="#2c2824"/><rect x="137.5" y="144.2" width="3.4" height="3.2" fill="#767066"/><rect x="101.3" y="153" width="2.9" height="1.2" fill="#f2efe8"/><rect x="128" y="165.3" width="3.7" height="2.8" fill="#2c2824"/><rect x="117.7" y="151.1" width="3.6" height="2.1" fill="#d8dde4"/><rect x="66.7" y="165.8" width="2.2" height="1.3" fill="#8a8276"/><rect x="196.5" y="142.8" width="4.5" height="1.2" fill="#f2efe8"/><rect x="141.6" y="191.7" width="2" height="2.3" fill="#f2efe8"/><rect x="212.4" y="189.8" width="3.8" height="1.9" fill="#d4cdc2"/><rect x="184.4" y="174.2" width="2.6" height="3.1" fill="#e6e2da"/><rect x="58.2" y="152" width="4.1" height="3.1" fill="#3a3530"/><rect x="204.8" y="189.2" width="3.1" height="2.1" fill="#767066"/><rect x="202" y="182.9" width="2.1" height="1.4" fill="#a0988c"/><rect x="86.2" y="148.8" width="3.8" height="1.6" fill="#4a443c"/><rect x="124.6" y="190.3" width="3.7" height="1.5" fill="#a0988c"/><rect x="57" y="196.7" width="4.1" height="2.2" fill="#2c2824"/><rect x="190.5" y="189.4" width="3.6" height="1.7" fill="#f2efe8"/><rect x="195.8" y="134.7" width="1.6" height="2.8" fill="#2c2824"/><rect x="120.9" y="193.4" width="3.9" height="3.1" fill="#9aa0a6"/><rect x="113.7" y="156.4" width="4.9" height="2.5" fill="#e6e2da"/><rect x="133.4" y="171.4" width="1.9" height="1.4" fill="#f2efe8"/><rect x="171.2" y="190.8" width="3.6" height="1.4" fill="#c6beb2"/><rect x="59.5" y="196.4" width="3.8" height="1.8" fill="#6a645a"/><rect x="197.9" y="151.6" width="3.5" height="2" fill="#4a443c"/><rect x="152.5" y="157.6" width="3.4" height="3.1" fill="#d8dde4"/><rect x="182.2" y="180.9" width="3" height="3" fill="#d8dde4"/><rect x="209.9" y="178.3" width="3.2" height="2.5" fill="#c6beb2"/><rect x="206.4" y="135" width="2.6" height="3" fill="#2c2824"/><rect x="57" y="180" width="4.3" height="1.7" fill="#d4cdc2"/><rect x="173.5" y="185" width="4.9" height="2.7" fill="#d4cdc2"/><rect x="207.6" y="189.3" width="4.8" height="1.7" fill="#f2efe8"/><rect x="207.1" y="144.9" width="3.1" height="2.9" fill="#767066"/><rect x="204.5" y="135.3" width="2.4" height="2.2" fill="#a0988c"/><rect x="188.6" y="134.1" width="4.4" height="2.6" fill="#c6beb2"/><rect x="105.7" y="145.1" width="2" height="1.8" fill="#d8dde4"/><rect x="195.1" y="194.6" width="3.1" height="2.7" fill="#e6e2da"/><rect x="87.3" y="200.7" width="4.3" height="1.7" fill="#c03a50"/><rect x="67.9" y="188.4" width="4.2" height="2.5" fill="#767066"/><rect x="211.4" y="143.2" width="2.1" height="2.6" fill="#2c2824"/><rect x="190.4" y="174.2" width="2.5" height="1.7" fill="#d4cdc2"/><rect x="152.2" y="160.4" width="2" height="2.6" fill="#2c2824"/><rect x="84.9" y="155.7" width="1.5" height="1.8" fill="#6a645a"/><rect x="183.4" y="172.4" width="3" height="1.4" fill="#d4cdc2"/><rect x="174.7" y="140.5" width="3.8" height="1.4" fill="#4a443c"/><rect x="60.6" y="201" width="3.7" height="1.4" fill="#d4cdc2"/><rect x="91.5" y="190" width="4" height="2.8" fill="#d4cdc2"/><rect x="194.9" y="138.8" width="3" height="1.8" fill="#3a3530"/><rect x="105" y="154.1" width="4.5" height="2.5" fill="#f2efe8"/><rect x="124.4" y="164.4" width="3.2" height="2" fill="#d4cdc2"/><rect x="135.3" y="147.5" width="1.5" height="3" fill="#767066"/><rect x="113.3" y="142.8" width="3.7" height="2.7" fill="#a0988c"/><rect x="102.2" y="170.6" width="2.5" height="2.1" fill="#d8dde4"/><rect x="129.9" y="202.5" width="2" height="3" fill="#e6e2da"/><rect x="119.4" y="204.4" width="1.6" height="2.9" fill="#767066"/><rect x="194.8" y="196.1" width="3" height="1.2" fill="#a0988c"/><rect x="165.8" y="182.4" width="1.8" height="2.5" fill="#767066"/><rect x="113.2" y="163.4" width="3.5" height="3" fill="#6a645a"/><rect x="111.6" y="141.6" width="1.7" height="2.2" fill="#f2efe8"/><rect x="175.9" y="200.5" width="3.8" height="2.3" fill="#d4cdc2"/><rect x="205.1" y="176" width="3.4" height="2.1" fill="#c6beb2"/><rect x="214.9" y="185.9" width="1.6" height="2.2" fill="#e6e2da"/><rect x="184.6" y="138" width="2.5" height="1.4" fill="#3a3530"/><rect x="179.2" y="165.4" width="3.4" height="2.3" fill="#2c2824"/><rect x="80.2" y="148.7" width="1.8" height="1.5" fill="#c6beb2"/><rect x="110.9" y="144.1" width="2.6" height="2.1" fill="#2c2824"/><rect x="172.1" y="178.4" width="2.5" height="2.1" fill="#d4cdc2"/><rect x="128.2" y="145.3" width="4.2" height="3.1" fill="#a0988c"/><rect x="149.1" y="180.4" width="2.9" height="2.3" fill="#3a3530"/><rect x="161.6" y="171.8" width="3.7" height="1.4" fill="#d4cdc2"/><rect x="153" y="156.6" width="1.5" height="2.6" fill="#c6beb2"/><rect x="101.1" y="150.5" width="4" height="1.8" fill="#c6beb2"/><rect x="143.5" y="167.9" width="2.7" height="2.6" fill="#8a8276"/><rect x="212.8" y="134.7" width="4.6" height="1.3" fill="#f2efe8"/><rect x="154.8" y="180" width="3.2" height="2.1" fill="#d8dde4"/><rect x="175.2" y="168.7" width="1.6" height="2.7" fill="#3a3530"/><rect x="178.7" y="183.4" width="2.5" height="2.6" fill="#3a3530"/><rect x="182.7" y="178.3" width="4.5" height="1.8" fill="#d4cdc2"/><rect x="170.8" y="148" width="2.6" height="1.9" fill="#3a3530"/><rect x="201.2" y="147.7" width="2" height="2" fill="#3a3530"/><rect x="174.4" y="144.5" width="1.8" height="1.7" fill="#3a3530"/><rect x="156.7" y="166.3" width="4.6" height="2.7" fill="#9aa0a6"/><rect x="108" y="180.7" width="4.9" height="2.7" fill="#d4cdc2"/><rect x="104.3" y="148.1" width="3" height="3" fill="#4a443c"/><rect x="198.6" y="153.3" width="2.2" height="1.4" fill="#2c2824"/><rect x="134.8" y="164.3" width="1.8" height="3" fill="#c6beb2"/><rect x="137.7" y="189" width="4" height="1.9" fill="#767066"/><rect x="143.6" y="167.8" width="2.7" height="1.5" fill="#9aa0a6"/><rect x="164.4" y="150.7" width="2.4" height="1.7" fill="#4a443c"/><rect x="90.8" y="172" width="4.4" height="1.9" fill="#e6e2da"/><rect x="83.3" y="178.5" width="3" height="3.2" fill="#4a443c"/><rect x="108.9" y="168.5" width="3.3" height="3" fill="#8a8276"/><rect x="136.3" y="144.6" width="2.8" height="1.8" fill="#c6beb2"/><rect x="128.6" y="200.2" width="2.7" height="2" fill="#767066"/><rect x="55.3" y="168.9" width="3.2" height="1.6" fill="#e6e2da"/><rect x="164.3" y="166.7" width="4.9" height="1.6" fill="#767066"/><rect x="208.2" y="141.3" width="4.2" height="2.6" fill="#4a443c"/><rect x="64.7" y="141.4" width="3.4" height="1.8" fill="#f2efe8"/><rect x="128.9" y="191.7" width="2.6" height="2.3" fill="#3a3530"/><rect x="80.9" y="148.5" width="2.7" height="2.4" fill="#4a443c"/><rect x="206.3" y="201.9" width="1.8" height="2.6" fill="#9aa0a6"/><rect x="72.6" y="171.4" width="3.2" height="3.1" fill="#c6beb2"/><rect x="202.5" y="153.2" width="1.6" height="1.5" fill="#a0988c"/><rect x="155.6" y="181.9" width="2.4" height="2.2" fill="#e6e2da"/><rect x="122.9" y="183.5" width="3.3" height="3.2" fill="#d8dde4"/><rect x="189.1" y="186" width="1.6" height="2.6" fill="#f2efe8"/><rect x="80.5" y="189.2" width="2.9" height="3" fill="#f2efe8"/><rect x="70.8" y="199.8" width="2.8" height="1.4" fill="#9aa0a6"/><rect x="135.6" y="204.2" width="2.3" height="1.2" fill="#c6beb2"/><rect x="129.8" y="195.7" width="3.8" height="3" fill="#f2efe8"/><rect x="101.2" y="185.8" width="2.2" height="2.3" fill="#f2efe8"/><polygon points="72,162 80,160 90,170 95,186 86,190 76,178" fill="#c8ccd4" opacity="0.85"/><rect x="94" y="157" width="9" height="5" fill="#d8c038"/><rect x="99" y="165" width="9" height="6" fill="#d8602a"/></g></g><g clip-path="url(#clc)"><rect x="55" y="230" width="165" height="106" fill="url(#chg)"/><g filter="url(#bl10)"><ellipse cx="66" cy="290" rx="9" ry="30" fill="#9a5018" opacity="0.7"/><ellipse cx="90" cy="268" rx="16" ry="24" fill="#e08c2c" opacity="0.95"/><ellipse cx="120" cy="252" rx="12" ry="14" fill="#e89c3a" opacity="0.95"/><ellipse cx="112" cy="246" rx="7" ry="7" fill="#b85a20" opacity="1"/><ellipse cx="160" cy="258" rx="11" ry="24" fill="#94481a" opacity="0.75"/><ellipse cx="140" cy="240" rx="18" ry="8" fill="#b0601e" opacity="0.7"/><ellipse cx="186" cy="296" rx="16" ry="22" fill="#ecd2a0" opacity="0.9"/><ellipse cx="174" cy="282" rx="9" ry="13" fill="#eed8b0" opacity="0.85"/><ellipse cx="133" cy="314" rx="20" ry="12" fill="#e8c080" opacity="0.85"/><ellipse cx="102" cy="318" rx="12" ry="9" fill="#e4b46c" opacity="0.9"/><ellipse cx="84" cy="300" rx="10" ry="12" fill="#d07a2a" opacity="0.85"/><ellipse cx="206" cy="285" rx="7" ry="26" fill="#7a3a12" opacity="0.9"/><ellipse cx="114" cy="330" rx="10" ry="6" fill="#8a4a18" opacity="0.6"/><ellipse cx="148" cy="292" rx="8" ry="12" fill="#e8b060" opacity="0.8"/><ellipse cx="120" cy="280" rx="9" ry="14" fill="#c86c22" opacity="0.85"/><ellipse cx="100" cy="240" rx="14" ry="8" fill="#c06824" opacity="0.9"/><ellipse cx="76" cy="258" rx="8" ry="12" fill="#c0701e" opacity="0.8"/><ellipse cx="198" cy="258" rx="8" ry="12" fill="#c87a30" opacity="0.9"/></g><g filter="url(#bl5)"><rect x="84.3" y="267.4" width="1.5" height="7.9" fill="#e08020" opacity="0.8" transform="rotate(21.3 84.3 267.4)"/><rect x="76.6" y="254" width="1.5" height="6.7" fill="#f0a838" opacity="0.8" transform="rotate(-26.8 76.6 254)"/><rect x="110.5" y="285" width="1.5" height="3.7" fill="#8a4210" opacity="0.8" transform="rotate(5.5 110.5 285)"/><rect x="165.4" y="237.8" width="1.5" height="5.5" fill="#f8d890" opacity="0.8" transform="rotate(6.2 165.4 237.8)"/><rect x="176.8" y="290.3" width="1.5" height="6.1" fill="#e6c890" opacity="0.8" transform="rotate(-11.9 176.8 290.3)"/><rect x="68.5" y="257" width="1.5" height="5" fill="#8a4210" opacity="0.8" transform="rotate(-9.7 68.5 257)"/><rect x="125" y="270.1" width="1.5" height="3.1" fill="#d07018" opacity="0.8" transform="rotate(-28.7 125 270.1)"/><rect x="171.3" y="272.5" width="1.5" height="3.6" fill="#f0dcb0" opacity="0.8" transform="rotate(-22.8 171.3 272.5)"/><rect x="63.8" y="289.5" width="1.5" height="7.7" fill="#ffc860" opacity="0.8" transform="rotate(26.2 63.8 289.5)"/><rect x="102.9" y="279.5" width="1.5" height="7.5" fill="#f8b030" opacity="0.8" transform="rotate(28.7 102.9 279.5)"/><rect x="94.9" y="299.9" width="1.5" height="6.5" fill="#ffe0a0" opacity="0.8" transform="rotate(-17.2 94.9 299.9)"/><rect x="183.1" y="280" width="1.5" height="3.9" fill="#f0dcb0" opacity="0.8" transform="rotate(-26.8 183.1 280)"/><rect x="184.8" y="312" width="1.5" height="6" fill="#d8a860" opacity="0.8" transform="rotate(-27 184.8 312)"/><rect x="212.7" y="304.5" width="1.5" height="7.8" fill="#ffe0a0" opacity="0.8" transform="rotate(29 212.7 304.5)"/><rect x="124.7" y="254.6" width="1.5" height="5.4" fill="#ffe0a0" opacity="0.8" transform="rotate(11.6 124.7 254.6)"/><rect x="198" y="326.3" width="1.5" height="6.5" fill="#d07018" opacity="0.8" transform="rotate(-25.9 198 326.3)"/><rect x="59.2" y="273.9" width="1.5" height="6.7" fill="#8a4210" opacity="0.8" transform="rotate(30 59.2 273.9)"/><rect x="77.1" y="255.9" width="1.5" height="7.5" fill="#f8b030" opacity="0.8" transform="rotate(-19.8 77.1 255.9)"/><rect x="72.2" y="294.2" width="1.5" height="5.6" fill="#ffc860" opacity="0.8" transform="rotate(16 72.2 294.2)"/><rect x="209.8" y="305.7" width="1.5" height="6" fill="#f0a838" opacity="0.8" transform="rotate(-12.1 209.8 305.7)"/><rect x="75.4" y="274" width="1.5" height="5.5" fill="#d07018" opacity="0.8" transform="rotate(-22.7 75.4 274)"/><rect x="190.4" y="277.8" width="1.5" height="3.9" fill="#d8a860" opacity="0.8" transform="rotate(4.2 190.4 277.8)"/><rect x="106.1" y="294.8" width="1.5" height="7.6" fill="#8a4210" opacity="0.8" transform="rotate(-16.3 106.1 294.8)"/><rect x="165.4" y="277.7" width="1.5" height="6.5" fill="#e6c890" opacity="0.8" transform="rotate(-14.5 165.4 277.7)"/><rect x="91.4" y="293.8" width="1.5" height="3.7" fill="#d07018" opacity="0.8" transform="rotate(-21.5 91.4 293.8)"/><rect x="91.6" y="266.2" width="1.5" height="4.5" fill="#e8901c" opacity="0.8" transform="rotate(22.3 91.6 266.2)"/><rect x="191.9" y="331.1" width="1.5" height="7.5" fill="#ffc860" opacity="0.8" transform="rotate(19.2 191.9 331.1)"/><rect x="124.8" y="325.1" width="1.5" height="7.6" fill="#d89848" opacity="0.8" transform="rotate(-22.7 124.8 325.1)"/><rect x="110.4" y="253.7" width="1.5" height="3.6" fill="#f8d890" opacity="0.8" transform="rotate(22.8 110.4 253.7)"/><rect x="201.4" y="332.9" width="1.5" height="6" fill="#ffe0a0" opacity="0.8" transform="rotate(0.9 201.4 332.9)"/><rect x="79.6" y="297.4" width="1.5" height="6.4" fill="#8a4210" opacity="0.8" transform="rotate(-16.4 79.6 297.4)"/><rect x="175.4" y="251.6" width="1.5" height="3.5" fill="#f8d890" opacity="0.8" transform="rotate(-28.6 175.4 251.6)"/><rect x="104.6" y="282.9" width="1.5" height="4.5" fill="#d07018" opacity="0.8" transform="rotate(-17.6 104.6 282.9)"/><rect x="102" y="267.6" width="1.5" height="7.4" fill="#b05a14" opacity="0.8" transform="rotate(13.9 102 267.6)"/><rect x="160.7" y="244.4" width="1.5" height="5.8" fill="#b05a14" opacity="0.8" transform="rotate(-33.4 160.7 244.4)"/><rect x="193.9" y="240.8" width="1.5" height="4" fill="#d07018" opacity="0.8" transform="rotate(25.6 193.9 240.8)"/><rect x="134.7" y="287.4" width="1.5" height="7.2" fill="#f8b030" opacity="0.8" transform="rotate(-3.2 134.7 287.4)"/><rect x="105.9" y="332.1" width="1.5" height="6.9" fill="#f0a838" opacity="0.8" transform="rotate(-7.2 105.9 332.1)"/><rect x="180.8" y="288.3" width="1.5" height="7.8" fill="#f8ecd0" opacity="0.8" transform="rotate(17.3 180.8 288.3)"/><rect x="191.8" y="293.5" width="1.5" height="4.4" fill="#d8a860" opacity="0.8" transform="rotate(-15.3 191.8 293.5)"/><rect x="71.6" y="331.5" width="1.5" height="4.9" fill="#b05a14" opacity="0.8" transform="rotate(-29.1 71.6 331.5)"/><rect x="148.2" y="298.4" width="1.5" height="4.2" fill="#d89848" opacity="0.8" transform="rotate(30.2 148.2 298.4)"/><rect x="83.8" y="295.9" width="1.5" height="3.9" fill="#8a4210" opacity="0.8" transform="rotate(0.7 83.8 295.9)"/><rect x="195.2" y="244.1" width="1.5" height="4.8" fill="#ffc860" opacity="0.8" transform="rotate(-32.9 195.2 244.1)"/><rect x="138.7" y="246.6" width="1.5" height="5.3" fill="#e8901c" opacity="0.8" transform="rotate(27.6 138.7 246.6)"/><rect x="64.6" y="316.1" width="1.5" height="7.2" fill="#b05a14" opacity="0.8" transform="rotate(10.5 64.6 316.1)"/><rect x="62" y="239" width="1.5" height="4.5" fill="#ffc860" opacity="0.8" transform="rotate(-26 62 239)"/><rect x="191.6" y="301.9" width="1.5" height="3.8" fill="#f8ecd0" opacity="0.8" transform="rotate(0.5 191.6 301.9)"/><rect x="198" y="297.9" width="1.5" height="3.7" fill="#d8a860" opacity="0.8" transform="rotate(-12.7 198 297.9)"/><rect x="83.9" y="273.2" width="1.5" height="3.7" fill="#ffc860" opacity="0.8" transform="rotate(-13.8 83.9 273.2)"/><rect x="108.9" y="257" width="1.5" height="3.4" fill="#f8b030" opacity="0.8" transform="rotate(21 108.9 257)"/><rect x="109.8" y="326.3" width="1.5" height="5.7" fill="#f4d8a0" opacity="0.8" transform="rotate(18.6 109.8 326.3)"/><rect x="181.6" y="290.3" width="1.5" height="6" fill="#f8ecd0" opacity="0.8" transform="rotate(4.7 181.6 290.3)"/><rect x="81.9" y="265.8" width="1.5" height="3.5" fill="#e8901c" opacity="0.8" transform="rotate(-33.7 81.9 265.8)"/><rect x="86.3" y="326.7" width="1.5" height="7.4" fill="#e8901c" opacity="0.8" transform="rotate(20.7 86.3 326.7)"/><rect x="107.8" y="247.5" width="1.5" height="4.9" fill="#f8d890" opacity="0.8" transform="rotate(13.5 107.8 247.5)"/><rect x="111.9" y="248.4" width="1.5" height="7.1" fill="#ffe0a0" opacity="0.8" transform="rotate(-2.8 111.9 248.4)"/><rect x="111.3" y="265.1" width="1.5" height="4.6" fill="#8a4210" opacity="0.8" transform="rotate(-27.9 111.3 265.1)"/><rect x="66.7" y="304.1" width="1.5" height="7.3" fill="#8a4210" opacity="0.8" transform="rotate(-6.7 66.7 304.1)"/><rect x="177.3" y="288.5" width="1.5" height="3.7" fill="#d8a860" opacity="0.8" transform="rotate(-3.5 177.3 288.5)"/><rect x="69" y="319.8" width="1.5" height="6.3" fill="#f0a838" opacity="0.8" transform="rotate(13.6 69 319.8)"/><rect x="125.6" y="237" width="1.5" height="7.6" fill="#8a4210" opacity="0.8" transform="rotate(-15.2 125.6 237)"/><rect x="86.4" y="324.4" width="1.5" height="7.6" fill="#8a4210" opacity="0.8" transform="rotate(-28.7 86.4 324.4)"/><rect x="74.2" y="246.9" width="1.5" height="7" fill="#ffe0a0" opacity="0.8" transform="rotate(9.9 74.2 246.9)"/><rect x="166.7" y="326.1" width="1.5" height="6.6" fill="#b05a14" opacity="0.8" transform="rotate(-19.2 166.7 326.1)"/><rect x="176.4" y="325.8" width="1.5" height="6.9" fill="#e8901c" opacity="0.8" transform="rotate(2.2 176.4 325.8)"/><rect x="82.5" y="285.7" width="1.5" height="5.4" fill="#d07018" opacity="0.8" transform="rotate(-7.1 82.5 285.7)"/><rect x="101.6" y="329.1" width="1.5" height="4.5" fill="#e08020" opacity="0.8" transform="rotate(12.6 101.6 329.1)"/><rect x="172.9" y="281.7" width="1.5" height="7.4" fill="#f8ecd0" opacity="0.8" transform="rotate(-9.5 172.9 281.7)"/><rect x="165.5" y="278.1" width="1.5" height="3" fill="#d8a860" opacity="0.8" transform="rotate(32.2 165.5 278.1)"/><rect x="198.9" y="304.4" width="1.5" height="5.8" fill="#f0dcb0" opacity="0.8" transform="rotate(3.6 198.9 304.4)"/><rect x="59.4" y="280.8" width="1.5" height="8" fill="#e8901c" opacity="0.8" transform="rotate(-8.9 59.4 280.8)"/><rect x="159.8" y="237.5" width="1.5" height="3.4" fill="#f0a838" opacity="0.8" transform="rotate(-2.2 159.8 237.5)"/><rect x="120.8" y="256.3" width="1.5" height="5.2" fill="#ffe0a0" opacity="0.8" transform="rotate(10.3 120.8 256.3)"/><rect x="142.6" y="317.5" width="1.5" height="5.7" fill="#f8e4b8" opacity="0.8" transform="rotate(5.6 142.6 317.5)"/><rect x="142.7" y="281.6" width="1.5" height="3.4" fill="#e08020" opacity="0.8" transform="rotate(22.8 142.7 281.6)"/><rect x="77.4" y="267.6" width="1.5" height="7.6" fill="#ffc860" opacity="0.8" transform="rotate(3 77.4 267.6)"/><rect x="162.6" y="253.9" width="1.5" height="4.1" fill="#e08020" opacity="0.8" transform="rotate(-19.5 162.6 253.9)"/><rect x="61.7" y="260.4" width="1.5" height="5.1" fill="#b05a14" opacity="0.8" transform="rotate(-33.9 61.7 260.4)"/><rect x="202.4" y="311.8" width="1.5" height="4.5" fill="#f0dcb0" opacity="0.8" transform="rotate(6.8 202.4 311.8)"/><rect x="173.4" y="301.9" width="1.5" height="5.3" fill="#e6c890" opacity="0.8" transform="rotate(-2 173.4 301.9)"/><rect x="102.9" y="237" width="1.5" height="4.6" fill="#ffe0a0" opacity="0.8" transform="rotate(31.3 102.9 237)"/><rect x="157.9" y="283.7" width="1.5" height="7.1" fill="#b05a14" opacity="0.8" transform="rotate(24.8 157.9 283.7)"/><rect x="134.7" y="250.6" width="1.5" height="6.1" fill="#f8d890" opacity="0.8" transform="rotate(-9.2 134.7 250.6)"/><rect x="152.6" y="265.9" width="1.5" height="4.7" fill="#d07018" opacity="0.8" transform="rotate(-10.3 152.6 265.9)"/><rect x="151.8" y="244.2" width="1.5" height="6.6" fill="#f8b030" opacity="0.8" transform="rotate(-11.9 151.8 244.2)"/><rect x="186.1" y="247.2" width="1.5" height="7.1" fill="#b05a14" opacity="0.8" transform="rotate(6.3 186.1 247.2)"/><rect x="67.9" y="287.3" width="1.5" height="7.7" fill="#f8b030" opacity="0.8" transform="rotate(33.9 67.9 287.3)"/><rect x="74.3" y="270.3" width="1.5" height="7.8" fill="#e8901c" opacity="0.8" transform="rotate(2.4 74.3 270.3)"/><rect x="97.8" y="235.6" width="1.5" height="5.8" fill="#8a4210" opacity="0.8" transform="rotate(-16.5 97.8 235.6)"/><rect x="114.6" y="290.8" width="1.5" height="4.3" fill="#e8901c" opacity="0.8" transform="rotate(26.4 114.6 290.8)"/><rect x="186.9" y="234.8" width="1.5" height="4.5" fill="#e8901c" opacity="0.8" transform="rotate(-33.3 186.9 234.8)"/><rect x="60.6" y="237.9" width="1.5" height="6.5" fill="#b05a14" opacity="0.8" transform="rotate(-18.4 60.6 237.9)"/><rect x="160.4" y="242.5" width="1.5" height="6.5" fill="#f8b030" opacity="0.8" transform="rotate(-30 160.4 242.5)"/><rect x="112.7" y="247.4" width="1.5" height="6.9" fill="#f0a838" opacity="0.8" transform="rotate(16.9 112.7 247.4)"/><rect x="191.2" y="277.9" width="1.5" height="7.6" fill="#e6c890" opacity="0.8" transform="rotate(32.9 191.2 277.9)"/><rect x="141.6" y="260.5" width="1.5" height="7.1" fill="#8a4210" opacity="0.8" transform="rotate(-11.2 141.6 260.5)"/><rect x="132.5" y="311" width="1.5" height="5.8" fill="#d89848" opacity="0.8" transform="rotate(-6.4 132.5 311)"/><rect x="191.3" y="252.9" width="1.5" height="7.3" fill="#b05a14" opacity="0.8" transform="rotate(3 191.3 252.9)"/><rect x="67" y="312.8" width="1.5" height="5" fill="#ffe0a0" opacity="0.8" transform="rotate(-10.9 67 312.8)"/><rect x="190.9" y="262.6" width="1.5" height="3.5" fill="#e08020" opacity="0.8" transform="rotate(-34.8 190.9 262.6)"/><rect x="170" y="246.2" width="1.5" height="6" fill="#f8d890" opacity="0.8" transform="rotate(-4 170 246.2)"/><rect x="164.7" y="304.6" width="1.5" height="3.1" fill="#b05a14" opacity="0.8" transform="rotate(33.9 164.7 304.6)"/><rect x="190.9" y="265" width="1.5" height="4.2" fill="#b05a14" opacity="0.8" transform="rotate(-4.8 190.9 265)"/><rect x="150.3" y="331.1" width="1.5" height="6.2" fill="#e8b868" opacity="0.8" transform="rotate(30.2 150.3 331.1)"/><rect x="94" y="256" width="1.5" height="7.9" fill="#f0a838" opacity="0.8" transform="rotate(-4.3 94 256)"/><rect x="108.9" y="264.6" width="1.5" height="7" fill="#ffe0a0" opacity="0.8" transform="rotate(30.4 108.9 264.6)"/><rect x="131.9" y="248.8" width="1.5" height="3.9" fill="#e8901c" opacity="0.8" transform="rotate(20.7 131.9 248.8)"/><rect x="73.9" y="295.7" width="1.5" height="5.5" fill="#ffe0a0" opacity="0.8" transform="rotate(4.3 73.9 295.7)"/><rect x="69.5" y="257" width="1.5" height="3.4" fill="#f8b030" opacity="0.8" transform="rotate(24.7 69.5 257)"/><rect x="164.2" y="274.2" width="1.5" height="3.7" fill="#ffe0a0" opacity="0.8" transform="rotate(-8.6 164.2 274.2)"/><rect x="193.8" y="282.6" width="1.5" height="3.5" fill="#f0dcb0" opacity="0.8" transform="rotate(-14.9 193.8 282.6)"/><rect x="152.2" y="322.7" width="1.5" height="4.1" fill="#e8b868" opacity="0.8" transform="rotate(-12 152.2 322.7)"/><rect x="157" y="306.8" width="1.5" height="7.1" fill="#e8b868" opacity="0.8" transform="rotate(-3.8 157 306.8)"/><rect x="192.8" y="283.4" width="1.5" height="6.3" fill="#f0dcb0" opacity="0.8" transform="rotate(-4.4 192.8 283.4)"/><rect x="194.1" y="253.3" width="1.5" height="4.7" fill="#f8b030" opacity="0.8" transform="rotate(23.4 194.1 253.3)"/><rect x="69.2" y="244.8" width="1.5" height="6.2" fill="#ffc860" opacity="0.8" transform="rotate(17.1 69.2 244.8)"/><rect x="204" y="300" width="1.5" height="5.9" fill="#f8ecd0" opacity="0.8" transform="rotate(-6.8 204 300)"/><rect x="139.8" y="251.8" width="1.5" height="3.6" fill="#8a4210" opacity="0.8" transform="rotate(30.8 139.8 251.8)"/><rect x="176.6" y="267.4" width="1.5" height="4.8" fill="#f8b030" opacity="0.8" transform="rotate(32.2 176.6 267.4)"/><rect x="155.3" y="287.2" width="1.5" height="7.5" fill="#f8d890" opacity="0.8" transform="rotate(-20.9 155.3 287.2)"/><rect x="205.8" y="328.6" width="1.5" height="6.3" fill="#8a4210" opacity="0.8" transform="rotate(-30.9 205.8 328.6)"/><rect x="60.2" y="303.7" width="1.5" height="7.8" fill="#f0a838" opacity="0.8" transform="rotate(-33.3 60.2 303.7)"/><rect x="210.9" y="316.6" width="1.5" height="7.2" fill="#ffe0a0" opacity="0.8" transform="rotate(-10.1 210.9 316.6)"/><rect x="60.6" y="296.5" width="1.5" height="3.7" fill="#d07018" opacity="0.8" transform="rotate(14 60.6 296.5)"/><rect x="63.5" y="316.1" width="1.5" height="4.3" fill="#ffe0a0" opacity="0.8" transform="rotate(-13.1 63.5 316.1)"/><rect x="202.6" y="286.2" width="1.5" height="7.5" fill="#f8ecd0" opacity="0.8" transform="rotate(-14.9 202.6 286.2)"/><rect x="60.8" y="310.1" width="1.5" height="7.1" fill="#f0a838" opacity="0.8" transform="rotate(28.2 60.8 310.1)"/><rect x="58.7" y="274.8" width="1.5" height="5.4" fill="#f0a838" opacity="0.8" transform="rotate(20.2 58.7 274.8)"/><rect x="189.5" y="242.1" width="1.5" height="4.9" fill="#f0a838" opacity="0.8" transform="rotate(-16.2 189.5 242.1)"/><rect x="195.8" y="286.1" width="1.5" height="4.1" fill="#e6c890" opacity="0.8" transform="rotate(-7.3 195.8 286.1)"/><rect x="165.7" y="293.8" width="1.5" height="7.8" fill="#f0dcb0" opacity="0.8" transform="rotate(13.6 165.7 293.8)"/><rect x="147.2" y="249.5" width="1.5" height="7.6" fill="#8a4210" opacity="0.8" transform="rotate(19.2 147.2 249.5)"/><rect x="209.3" y="241.2" width="1.5" height="4.6" fill="#e08020" opacity="0.8" transform="rotate(-19.2 209.3 241.2)"/><rect x="111.6" y="331.9" width="1.5" height="6.3" fill="#f4d8a0" opacity="0.8" transform="rotate(-10.8 111.6 331.9)"/><rect x="136.6" y="315.5" width="1.5" height="5.6" fill="#e8b868" opacity="0.8" transform="rotate(14.1 136.6 315.5)"/><rect x="178.4" y="266.7" width="1.5" height="5.3" fill="#e8901c" opacity="0.8" transform="rotate(-20.6 178.4 266.7)"/><rect x="205" y="256.2" width="1.5" height="6.7" fill="#b05a14" opacity="0.8" transform="rotate(24.4 205 256.2)"/><rect x="148" y="273.8" width="1.5" height="3.5" fill="#d07018" opacity="0.8" transform="rotate(-8.1 148 273.8)"/><rect x="74.6" y="287.1" width="1.5" height="6.6" fill="#ffe0a0" opacity="0.8" transform="rotate(-31.6 74.6 287.1)"/><rect x="172.8" y="294.6" width="1.5" height="3.6" fill="#e6c890" opacity="0.8" transform="rotate(-32.4 172.8 294.6)"/><rect x="197" y="285.9" width="1.5" height="4.3" fill="#f0dcb0" opacity="0.8" transform="rotate(-7.4 197 285.9)"/><rect x="81.3" y="319.5" width="1.5" height="3.9" fill="#ffe0a0" opacity="0.8" transform="rotate(30.3 81.3 319.5)"/><rect x="99.5" y="283.9" width="1.5" height="4.1" fill="#b05a14" opacity="0.8" transform="rotate(24.9 99.5 283.9)"/><rect x="93.7" y="263.2" width="1.5" height="5.9" fill="#d07018" opacity="0.8" transform="rotate(11.5 93.7 263.2)"/><rect x="182.1" y="288.3" width="1.5" height="5.7" fill="#f8ecd0" opacity="0.8" transform="rotate(16.4 182.1 288.3)"/><rect x="172.7" y="240.4" width="1.5" height="6.2" fill="#e08020" opacity="0.8" transform="rotate(16.4 172.7 240.4)"/><rect x="190.7" y="249.1" width="1.5" height="4.3" fill="#ffc860" opacity="0.8" transform="rotate(-34.6 190.7 249.1)"/><rect x="118" y="253.5" width="1.5" height="6.4" fill="#b05a14" opacity="0.8" transform="rotate(22 118 253.5)"/><rect x="192.4" y="246.5" width="1.5" height="4.6" fill="#f8d890" opacity="0.8" transform="rotate(-9.8 192.4 246.5)"/><rect x="61" y="316.7" width="1.5" height="3" fill="#d07018" opacity="0.8" transform="rotate(-0.5 61 316.7)"/><rect x="94.6" y="323.1" width="1.5" height="7.2" fill="#ffe0a0" opacity="0.8" transform="rotate(11 94.6 323.1)"/><rect x="134" y="246.6" width="1.5" height="7.9" fill="#8a4210" opacity="0.8" transform="rotate(-3.3 134 246.6)"/><rect x="58.8" y="251.4" width="1.5" height="6.1" fill="#8a4210" opacity="0.8" transform="rotate(12.1 58.8 251.4)"/><rect x="155.4" y="270.8" width="1.5" height="4" fill="#f0a838" opacity="0.8" transform="rotate(11.1 155.4 270.8)"/><rect x="148.1" y="317.5" width="1.5" height="6.8" fill="#d89848" opacity="0.8" transform="rotate(-29.7 148.1 317.5)"/><rect x="85" y="267.6" width="1.5" height="7.8" fill="#e08020" opacity="0.8" transform="rotate(4.5 85 267.6)"/><rect x="204.5" y="330.8" width="1.5" height="4.3" fill="#f8d890" opacity="0.8" transform="rotate(30.5 204.5 330.8)"/><rect x="148.1" y="300.3" width="1.5" height="5.1" fill="#e8b868" opacity="0.8" transform="rotate(-17.3 148.1 300.3)"/><rect x="124.7" y="286" width="1.5" height="4.4" fill="#ffc860" opacity="0.8" transform="rotate(-25.5 124.7 286)"/><rect x="158.5" y="296.7" width="1.5" height="7.8" fill="#e8b868" opacity="0.8" transform="rotate(-0.4 158.5 296.7)"/><rect x="90.5" y="251.5" width="1.5" height="4.8" fill="#e8901c" opacity="0.8" transform="rotate(-29.6 90.5 251.5)"/><rect x="197.2" y="298.6" width="1.5" height="3.3" fill="#f8ecd0" opacity="0.8" transform="rotate(33.4 197.2 298.6)"/><rect x="203.9" y="234.8" width="1.5" height="7.8" fill="#f0a838" opacity="0.8" transform="rotate(5.2 203.9 234.8)"/><rect x="176.5" y="243.5" width="1.5" height="5.9" fill="#f8b030" opacity="0.8" transform="rotate(-18.2 176.5 243.5)"/><rect x="141.2" y="267" width="1.5" height="5.8" fill="#e8901c" opacity="0.8" transform="rotate(4.6 141.2 267)"/><rect x="214.6" y="302.3" width="1.5" height="5.7" fill="#ffc860" opacity="0.8" transform="rotate(18.9 214.6 302.3)"/><rect x="170.5" y="296.8" width="1.5" height="6.8" fill="#f8ecd0" opacity="0.8" transform="rotate(32.9 170.5 296.8)"/><rect x="92" y="289.8" width="1.5" height="5.2" fill="#ffe0a0" opacity="0.8" transform="rotate(28.6 92 289.8)"/><rect x="131.7" y="306.6" width="1.5" height="5.1" fill="#f4d8a0" opacity="0.8" transform="rotate(-0.7 131.7 306.6)"/><rect x="168.9" y="305.5" width="1.5" height="4.3" fill="#f0dcb0" opacity="0.8" transform="rotate(21 168.9 305.5)"/><rect x="163.1" y="282.6" width="1.5" height="4.8" fill="#b05a14" opacity="0.8" transform="rotate(-3.7 163.1 282.6)"/><rect x="62.1" y="280" width="1.5" height="4.5" fill="#8a4210" opacity="0.8" transform="rotate(23.4 62.1 280)"/><rect x="134.8" y="240.5" width="1.5" height="7.9" fill="#ffc860" opacity="0.8" transform="rotate(-4.2 134.8 240.5)"/><rect x="133.1" y="260.7" width="1.5" height="3.7" fill="#f8b030" opacity="0.8" transform="rotate(-7.8 133.1 260.7)"/><rect x="60.9" y="288.9" width="1.5" height="4.8" fill="#f8b030" opacity="0.8" transform="rotate(-15.3 60.9 288.9)"/><rect x="108.1" y="307.2" width="1.5" height="7.1" fill="#f8e4b8" opacity="0.8" transform="rotate(7.3 108.1 307.2)"/><rect x="81.4" y="329.6" width="1.5" height="4.7" fill="#f8b030" opacity="0.8" transform="rotate(-19.3 81.4 329.6)"/><rect x="78.5" y="289.4" width="1.5" height="7.8" fill="#d07018" opacity="0.8" transform="rotate(5.3 78.5 289.4)"/><rect x="158.8" y="292.5" width="1.5" height="3.2" fill="#e08020" opacity="0.8" transform="rotate(-11.6 158.8 292.5)"/><rect x="208.3" y="286.4" width="1.5" height="7.5" fill="#d07018" opacity="0.8" transform="rotate(4.5 208.3 286.4)"/><rect x="106.4" y="274.6" width="1.5" height="7.6" fill="#ffe0a0" opacity="0.8" transform="rotate(-15.1 106.4 274.6)"/><rect x="115.9" y="260.6" width="1.5" height="4.4" fill="#e08020" opacity="0.8" transform="rotate(-19.4 115.9 260.6)"/><rect x="134.4" y="331.1" width="1.5" height="5.3" fill="#f4d8a0" opacity="0.8" transform="rotate(31.3 134.4 331.1)"/><rect x="193.9" y="332.1" width="1.5" height="6.6" fill="#8a4210" opacity="0.8" transform="rotate(19.8 193.9 332.1)"/><rect x="182.5" y="244.7" width="1.5" height="7.1" fill="#f0a838" opacity="0.8" transform="rotate(-10 182.5 244.7)"/><rect x="132.1" y="322.1" width="1.5" height="7.3" fill="#f8e4b8" opacity="0.8" transform="rotate(-9.2 132.1 322.1)"/><rect x="201.2" y="245.6" width="1.5" height="4" fill="#ffc860" opacity="0.8" transform="rotate(13.9 201.2 245.6)"/><rect x="136.1" y="293.2" width="1.5" height="5.3" fill="#e08020" opacity="0.8" transform="rotate(-1.4 136.1 293.2)"/><rect x="74.9" y="259.3" width="1.5" height="6" fill="#e08020" opacity="0.8" transform="rotate(0.6 74.9 259.3)"/><rect x="193.2" y="328.4" width="1.5" height="4.3" fill="#d07018" opacity="0.8" transform="rotate(24.7 193.2 328.4)"/><rect x="157.9" y="324.2" width="1.5" height="7.6" fill="#e8b868" opacity="0.8" transform="rotate(8.1 157.9 324.2)"/><rect x="207.7" y="246.4" width="1.5" height="6.6" fill="#b05a14" opacity="0.8" transform="rotate(-25.1 207.7 246.4)"/><rect x="142.4" y="263.9" width="1.5" height="7.9" fill="#b05a14" opacity="0.8" transform="rotate(29.6 142.4 263.9)"/><rect x="68.8" y="271.9" width="1.5" height="6.9" fill="#ffe0a0" opacity="0.8" transform="rotate(-24.1 68.8 271.9)"/><rect x="195.1" y="244.3" width="1.5" height="7.8" fill="#e08020" opacity="0.8" transform="rotate(0.4 195.1 244.3)"/><rect x="197.5" y="278.1" width="1.5" height="4.6" fill="#f8ecd0" opacity="0.8" transform="rotate(-13 197.5 278.1)"/><rect x="117.5" y="251.2" width="1.5" height="7.9" fill="#ffc860" opacity="0.8" transform="rotate(-15.4 117.5 251.2)"/><rect x="59.8" y="294.1" width="1.5" height="3.4" fill="#f0a838" opacity="0.8" transform="rotate(-30.4 59.8 294.1)"/><rect x="214.3" y="249" width="1.5" height="3.2" fill="#f0a838" opacity="0.8" transform="rotate(-19.1 214.3 249)"/><rect x="71.5" y="240.6" width="1.5" height="5.6" fill="#e8901c" opacity="0.8" transform="rotate(32.5 71.5 240.6)"/><rect x="73.4" y="302.7" width="1.5" height="5.5" fill="#8a4210" opacity="0.8" transform="rotate(-26.2 73.4 302.7)"/><rect x="132.4" y="307.6" width="1.5" height="4.6" fill="#d89848" opacity="0.8" transform="rotate(-28.4 132.4 307.6)"/><rect x="71.5" y="273" width="1.5" height="4.3" fill="#f8b030" opacity="0.8" transform="rotate(-31.3 71.5 273)"/><rect x="157.9" y="329.8" width="1.5" height="3.6" fill="#d89848" opacity="0.8" transform="rotate(25.5 157.9 329.8)"/><rect x="182.3" y="309.2" width="1.5" height="4.2" fill="#f0dcb0" opacity="0.8" transform="rotate(31.9 182.3 309.2)"/><rect x="134.8" y="254.4" width="1.5" height="3.7" fill="#ffc860" opacity="0.8" transform="rotate(-34.7 134.8 254.4)"/><rect x="178.6" y="302" width="1.5" height="3.9" fill="#f8ecd0" opacity="0.8" transform="rotate(-29.6 178.6 302)"/><rect x="148.1" y="253.9" width="1.5" height="4.7" fill="#f0a838" opacity="0.8" transform="rotate(-28.4 148.1 253.9)"/><rect x="95.5" y="331.1" width="1.5" height="4" fill="#b05a14" opacity="0.8" transform="rotate(-22.3 95.5 331.1)"/><rect x="124.1" y="283.7" width="1.5" height="4.1" fill="#b05a14" opacity="0.8" transform="rotate(-27 124.1 283.7)"/><rect x="160.5" y="241" width="1.5" height="6.7" fill="#f0a838" opacity="0.8" transform="rotate(-14.8 160.5 241)"/><rect x="117.5" y="272.9" width="1.5" height="5.9" fill="#ffe0a0" opacity="0.8" transform="rotate(32.5 117.5 272.9)"/><rect x="95.5" y="289.5" width="1.5" height="5.2" fill="#b05a14" opacity="0.8" transform="rotate(-9.2 95.5 289.5)"/><rect x="148.7" y="331.7" width="1.5" height="5.9" fill="#f8e4b8" opacity="0.8" transform="rotate(-22.3 148.7 331.7)"/><rect x="108.4" y="280.3" width="1.5" height="5.5" fill="#ffc860" opacity="0.8" transform="rotate(-33.6 108.4 280.3)"/><rect x="107.3" y="292.9" width="1.5" height="3.5" fill="#ffe0a0" opacity="0.8" transform="rotate(28.8 107.3 292.9)"/><rect x="76" y="246.1" width="1.5" height="4.1" fill="#b05a14" opacity="0.8" transform="rotate(2.3 76 246.1)"/><rect x="178.1" y="283" width="1.5" height="3.7" fill="#d8a860" opacity="0.8" transform="rotate(-11.9 178.1 283)"/><rect x="105.3" y="300.9" width="1.5" height="3.4" fill="#f8b030" opacity="0.8" transform="rotate(-17.6 105.3 300.9)"/><rect x="157.2" y="235.5" width="1.5" height="5.2" fill="#f8d890" opacity="0.8" transform="rotate(-11.4 157.2 235.5)"/><rect x="165.2" y="249" width="1.5" height="3.4" fill="#f8b030" opacity="0.8" transform="rotate(-18.9 165.2 249)"/><rect x="130.2" y="311.6" width="1.5" height="4.3" fill="#f4d8a0" opacity="0.8" transform="rotate(-19.8 130.2 311.6)"/><rect x="62.9" y="297" width="1.5" height="5.4" fill="#d07018" opacity="0.8" transform="rotate(-0.8 62.9 297)"/><rect x="168.1" y="275.1" width="1.5" height="4.4" fill="#f8ecd0" opacity="0.8" transform="rotate(1.2 168.1 275.1)"/><rect x="130.9" y="326.7" width="1.5" height="4.6" fill="#f8e4b8" opacity="0.8" transform="rotate(-7.5 130.9 326.7)"/><rect x="208.8" y="241.6" width="1.5" height="5.4" fill="#b05a14" opacity="0.8" transform="rotate(0.6 208.8 241.6)"/><rect x="203.6" y="309.2" width="1.5" height="4.9" fill="#f8ecd0" opacity="0.8" transform="rotate(-7.6 203.6 309.2)"/><rect x="117.8" y="243.2" width="1.5" height="3.2" fill="#d07018" opacity="0.8" transform="rotate(0 117.8 243.2)"/><rect x="128.9" y="316.5" width="1.5" height="3.6" fill="#e8b868" opacity="0.8" transform="rotate(-31.9 128.9 316.5)"/><rect x="200" y="287.5" width="1.5" height="7.2" fill="#e6c890" opacity="0.8" transform="rotate(-21.5 200 287.5)"/><rect x="214.9" y="324.3" width="1.5" height="7.8" fill="#f0a838" opacity="0.8" transform="rotate(-16.2 214.9 324.3)"/><rect x="122.7" y="300.4" width="1.5" height="6.5" fill="#e8b868" opacity="0.8" transform="rotate(25.6 122.7 300.4)"/><rect x="59.2" y="239.4" width="1.5" height="6.9" fill="#8a4210" opacity="0.8" transform="rotate(24.2 59.2 239.4)"/><rect x="127.2" y="327.1" width="1.5" height="4.7" fill="#d89848" opacity="0.8" transform="rotate(-22.3 127.2 327.1)"/><rect x="81.4" y="279.4" width="1.5" height="7.2" fill="#b05a14" opacity="0.8" transform="rotate(27.7 81.4 279.4)"/><rect x="91.9" y="247.2" width="1.5" height="7.3" fill="#f0a838" opacity="0.8" transform="rotate(-29.7 91.9 247.2)"/><rect x="143.2" y="326.6" width="1.5" height="4.6" fill="#f8e4b8" opacity="0.8" transform="rotate(34.2 143.2 326.6)"/><rect x="200.3" y="311.8" width="1.5" height="4.6" fill="#e6c890" opacity="0.8" transform="rotate(-0.5 200.3 311.8)"/><rect x="162" y="304" width="1.5" height="7.6" fill="#ffe0a0" opacity="0.8" transform="rotate(4.5 162 304)"/><rect x="106.2" y="286.9" width="1.5" height="5.4" fill="#ffc860" opacity="0.8" transform="rotate(-24 106.2 286.9)"/><rect x="161.3" y="239.7" width="1.5" height="3.3" fill="#f8d890" opacity="0.8" transform="rotate(-1.5 161.3 239.7)"/><rect x="195.4" y="296.7" width="1.5" height="5.4" fill="#f8ecd0" opacity="0.8" transform="rotate(-29 195.4 296.7)"/><rect x="194.5" y="310.7" width="1.5" height="7.8" fill="#f8ecd0" opacity="0.8" transform="rotate(35 194.5 310.7)"/><rect x="125.3" y="313.1" width="1.5" height="3.9" fill="#e8b868" opacity="0.8" transform="rotate(1.5 125.3 313.1)"/><rect x="167.2" y="245.9" width="1.5" height="3.6" fill="#f8d890" opacity="0.8" transform="rotate(-14.5 167.2 245.9)"/><rect x="186.4" y="316.5" width="1.5" height="4.9" fill="#f0dcb0" opacity="0.8" transform="rotate(-0.5 186.4 316.5)"/><rect x="144.7" y="235.2" width="1.5" height="4.3" fill="#f8b030" opacity="0.8" transform="rotate(-8.2 144.7 235.2)"/><rect x="137.9" y="240.2" width="1.5" height="7.3" fill="#f8b030" opacity="0.8" transform="rotate(-23.9 137.9 240.2)"/><rect x="102.4" y="313.5" width="1.5" height="6.7" fill="#ffc860" opacity="0.8" transform="rotate(7.3 102.4 313.5)"/><rect x="100" y="316.4" width="1.5" height="7.2" fill="#8a4210" opacity="0.8" transform="rotate(23.4 100 316.4)"/><rect x="93" y="234.1" width="1.5" height="3.4" fill="#f8b030" opacity="0.8" transform="rotate(-9.7 93 234.1)"/><rect x="195.5" y="301.6" width="1.5" height="5.6" fill="#f0dcb0" opacity="0.8" transform="rotate(-4.5 195.5 301.6)"/><rect x="128.5" y="238.3" width="1.5" height="5.7" fill="#f0a838" opacity="0.8" transform="rotate(13 128.5 238.3)"/><rect x="136.1" y="258.9" width="1.5" height="3.3" fill="#e08020" opacity="0.8" transform="rotate(21.2 136.1 258.9)"/><rect x="61.6" y="295.4" width="1.5" height="5.6" fill="#f8b030" opacity="0.8" transform="rotate(-15.6 61.6 295.4)"/><rect x="74.4" y="268.9" width="1.5" height="3.6" fill="#f0a838" opacity="0.8" transform="rotate(2.8 74.4 268.9)"/><rect x="130.8" y="257.3" width="1.5" height="7.3" fill="#f8d890" opacity="0.8" transform="rotate(24.8 130.8 257.3)"/><rect x="171.1" y="293.1" width="1.5" height="7.8" fill="#e6c890" opacity="0.8" transform="rotate(-30.2 171.1 293.1)"/><rect x="159.4" y="271.9" width="1.5" height="4.8" fill="#e8901c" opacity="0.8" transform="rotate(-13.3 159.4 271.9)"/><rect x="181.6" y="269.5" width="1.5" height="6.9" fill="#d8a860" opacity="0.8" transform="rotate(-20.2 181.6 269.5)"/><rect x="145.4" y="305.9" width="1.5" height="3.9" fill="#f4d8a0" opacity="0.8" transform="rotate(-0.5 145.4 305.9)"/><rect x="171.1" y="283" width="1.5" height="6.2" fill="#f8ecd0" opacity="0.8" transform="rotate(-21.3 171.1 283)"/><rect x="67.7" y="289.1" width="1.5" height="6.8" fill="#8a4210" opacity="0.8" transform="rotate(-24 67.7 289.1)"/><rect x="210.1" y="315.6" width="1.5" height="6.6" fill="#ffc860" opacity="0.8" transform="rotate(31.3 210.1 315.6)"/><rect x="144" y="315.4" width="1.5" height="3.3" fill="#e8b868" opacity="0.8" transform="rotate(25.7 144 315.4)"/><rect x="133.6" y="307.3" width="1.5" height="8" fill="#e8b868" opacity="0.8" transform="rotate(-14.7 133.6 307.3)"/><rect x="67.3" y="239.2" width="1.5" height="5.9" fill="#f8b030" opacity="0.8" transform="rotate(16 67.3 239.2)"/><rect x="85.5" y="332.2" width="1.5" height="5.7" fill="#f8b030" opacity="0.8" transform="rotate(24.8 85.5 332.2)"/><rect x="157" y="277" width="1.5" height="5.8" fill="#ffe0a0" opacity="0.8" transform="rotate(22.3 157 277)"/><rect x="160.7" y="302" width="1.5" height="5.6" fill="#ffc860" opacity="0.8" transform="rotate(-20.6 160.7 302)"/><rect x="71.4" y="273.6" width="1.5" height="7.7" fill="#b05a14" opacity="0.8" transform="rotate(-30.9 71.4 273.6)"/><rect x="79.6" y="321.4" width="1.5" height="5.7" fill="#b05a14" opacity="0.8" transform="rotate(33.4 79.6 321.4)"/><rect x="192.2" y="283.2" width="1.5" height="5.2" fill="#f8ecd0" opacity="0.8" transform="rotate(17.9 192.2 283.2)"/><rect x="123.7" y="273.2" width="1.5" height="3.3" fill="#8a4210" opacity="0.8" transform="rotate(24.7 123.7 273.2)"/><rect x="138.6" y="303.4" width="1.5" height="4.7" fill="#d89848" opacity="0.8" transform="rotate(-21.5 138.6 303.4)"/><rect x="112.5" y="315.7" width="1.5" height="4.5" fill="#e8b868" opacity="0.8" transform="rotate(29.9 112.5 315.7)"/><rect x="126" y="264.7" width="1.5" height="7.5" fill="#8a4210" opacity="0.8" transform="rotate(-26.6 126 264.7)"/><rect x="135.2" y="296.6" width="1.5" height="5.3" fill="#d89848" opacity="0.8" transform="rotate(-14.6 135.2 296.6)"/><rect x="145.5" y="304.9" width="1.5" height="4.5" fill="#f8e4b8" opacity="0.8" transform="rotate(-5.5 145.5 304.9)"/><rect x="133.6" y="267.9" width="1.5" height="6.3" fill="#d07018" opacity="0.8" transform="rotate(-22.2 133.6 267.9)"/><rect x="111.5" y="323.8" width="1.5" height="7.2" fill="#e8b868" opacity="0.8" transform="rotate(21 111.5 323.8)"/><rect x="130.7" y="303.1" width="1.5" height="3.4" fill="#d89848" opacity="0.8" transform="rotate(-29.1 130.7 303.1)"/><rect x="135.4" y="319.7" width="1.5" height="7.2" fill="#f8e4b8" opacity="0.8" transform="rotate(16.8 135.4 319.7)"/><rect x="132.7" y="326.3" width="1.5" height="3.4" fill="#f4d8a0" opacity="0.8" transform="rotate(9.7 132.7 326.3)"/><rect x="179.5" y="319.4" width="1.5" height="8" fill="#d8a860" opacity="0.8" transform="rotate(-13.2 179.5 319.4)"/><rect x="213.6" y="235.1" width="1.5" height="7.4" fill="#ffc860" opacity="0.8" transform="rotate(-30.5 213.6 235.1)"/><rect x="95.3" y="270.5" width="1.5" height="7.2" fill="#ffe0a0" opacity="0.8" transform="rotate(31.1 95.3 270.5)"/><rect x="61.9" y="246" width="1.5" height="6.1" fill="#f8b030" opacity="0.8" transform="rotate(26.2 61.9 246)"/><rect x="155.3" y="276.6" width="1.5" height="6.3" fill="#e8901c" opacity="0.8" transform="rotate(5.7 155.3 276.6)"/><rect x="135.4" y="253.2" width="1.5" height="5.9" fill="#f8d890" opacity="0.8" transform="rotate(25.9 135.4 253.2)"/><rect x="195.6" y="262.4" width="1.5" height="3.2" fill="#d07018" opacity="0.8" transform="rotate(10.6 195.6 262.4)"/><rect x="69.7" y="316.4" width="1.5" height="4.6" fill="#ffc860" opacity="0.8" transform="rotate(3.8 69.7 316.4)"/><rect x="70.6" y="281.7" width="1.5" height="6.3" fill="#8a4210" opacity="0.8" transform="rotate(18.1 70.6 281.7)"/><rect x="117.1" y="284.2" width="1.5" height="4.2" fill="#e08020" opacity="0.8" transform="rotate(21.2 117.1 284.2)"/><rect x="157.5" y="236.2" width="1.5" height="5.7" fill="#f0a838" opacity="0.8" transform="rotate(33.6 157.5 236.2)"/><rect x="114.3" y="284.4" width="1.5" height="5" fill="#f8b030" opacity="0.8" transform="rotate(30.8 114.3 284.4)"/><rect x="145.5" y="275" width="1.5" height="4.9" fill="#8a4210" opacity="0.8" transform="rotate(3.6 145.5 275)"/><rect x="169.4" y="320.6" width="1.5" height="3.9" fill="#b05a14" opacity="0.8" transform="rotate(-15.1 169.4 320.6)"/><rect x="204.6" y="317.1" width="1.5" height="3.3" fill="#f0dcb0" opacity="0.8" transform="rotate(30.1 204.6 317.1)"/><rect x="162.8" y="287" width="1.5" height="3.8" fill="#ffc860" opacity="0.8" transform="rotate(16.5 162.8 287)"/><rect x="146.7" y="234.7" width="1.5" height="4.1" fill="#b05a14" opacity="0.8" transform="rotate(23.3 146.7 234.7)"/><rect x="209.8" y="244.3" width="1.5" height="5.6" fill="#8a4210" opacity="0.8" transform="rotate(11.2 209.8 244.3)"/><rect x="60.1" y="328.8" width="1.5" height="7.9" fill="#ffe0a0" opacity="0.8" transform="rotate(25.9 60.1 328.8)"/><rect x="91.6" y="327.6" width="1.5" height="5" fill="#f0a838" opacity="0.8" transform="rotate(-19.8 91.6 327.6)"/><rect x="69.8" y="291.1" width="1.5" height="5.3" fill="#e08020" opacity="0.8" transform="rotate(-32 69.8 291.1)"/><rect x="119.3" y="281.2" width="1.5" height="7.8" fill="#f0a838" opacity="0.8" transform="rotate(14.8 119.3 281.2)"/><rect x="104.4" y="301.3" width="1.5" height="5.5" fill="#e8901c" opacity="0.8" transform="rotate(-9.2 104.4 301.3)"/><rect x="150.1" y="288.5" width="1.5" height="7.5" fill="#e08020" opacity="0.8" transform="rotate(-16.7 150.1 288.5)"/><rect x="210.1" y="328" width="1.5" height="3.1" fill="#f8b030" opacity="0.8" transform="rotate(2.2 210.1 328)"/><rect x="134.3" y="295.2" width="1.5" height="4.5" fill="#f8e4b8" opacity="0.8" transform="rotate(30.2 134.3 295.2)"/><rect x="125.9" y="316.9" width="1.5" height="3.1" fill="#e8b868" opacity="0.8" transform="rotate(-32.8 125.9 316.9)"/><rect x="131" y="242.7" width="1.5" height="7.4" fill="#ffc860" opacity="0.8" transform="rotate(-28.8 131 242.7)"/><rect x="93.3" y="246.4" width="1.5" height="3.1" fill="#e8901c" opacity="0.8" transform="rotate(20.3 93.3 246.4)"/><rect x="114.5" y="306.4" width="1.5" height="5.3" fill="#f4d8a0" opacity="0.8" transform="rotate(2.8 114.5 306.4)"/><rect x="122.7" y="302" width="1.5" height="5.2" fill="#f4d8a0" opacity="0.8" transform="rotate(19.6 122.7 302)"/><rect x="156.5" y="242.4" width="1.5" height="3.5" fill="#ffe0a0" opacity="0.8" transform="rotate(-10.3 156.5 242.4)"/><rect x="72.5" y="286.9" width="1.5" height="6.7" fill="#d07018" opacity="0.8" transform="rotate(-22.2 72.5 286.9)"/><rect x="184.7" y="281" width="1.5" height="4.7" fill="#f0dcb0" opacity="0.8" transform="rotate(-21.9 184.7 281)"/><rect x="138.7" y="305.7" width="1.5" height="7.1" fill="#f8e4b8" opacity="0.8" transform="rotate(-6 138.7 305.7)"/><rect x="136.1" y="234.4" width="1.5" height="5.4" fill="#e8901c" opacity="0.8" transform="rotate(-19.3 136.1 234.4)"/><rect x="168.9" y="269.2" width="1.5" height="4.1" fill="#f0dcb0" opacity="0.8" transform="rotate(19 168.9 269.2)"/><rect x="112.7" y="311.7" width="1.5" height="4" fill="#d89848" opacity="0.8" transform="rotate(32.1 112.7 311.7)"/><rect x="68" y="253.5" width="1.5" height="3.5" fill="#ffc860" opacity="0.8" transform="rotate(29.8 68 253.5)"/><rect x="80.5" y="299.6" width="1.5" height="6.3" fill="#8a4210" opacity="0.8" transform="rotate(-12.3 80.5 299.6)"/><rect x="87.5" y="332.8" width="1.5" height="6" fill="#8a4210" opacity="0.8" transform="rotate(-18.7 87.5 332.8)"/><rect x="75.7" y="285" width="1.5" height="5.7" fill="#d07018" opacity="0.8" transform="rotate(-28.8 75.7 285)"/><rect x="106.6" y="307.5" width="1.5" height="6.9" fill="#d07018" opacity="0.8" transform="rotate(-22.3 106.6 307.5)"/><rect x="141" y="274.2" width="1.5" height="7.1" fill="#f0a838" opacity="0.8" transform="rotate(14.3 141 274.2)"/><rect x="67.8" y="274.7" width="1.5" height="6.8" fill="#f8d890" opacity="0.8" transform="rotate(33.5 67.8 274.7)"/><rect x="138.2" y="322.6" width="1.5" height="4.4" fill="#f4d8a0" opacity="0.8" transform="rotate(18.5 138.2 322.6)"/><rect x="155.1" y="270.5" width="1.5" height="6.5" fill="#ffe0a0" opacity="0.8" transform="rotate(-29.7 155.1 270.5)"/><rect x="81.8" y="280.8" width="1.5" height="6.6" fill="#ffc860" opacity="0.8" transform="rotate(-34.2 81.8 280.8)"/><rect x="171.4" y="296.4" width="1.5" height="3.6" fill="#f8ecd0" opacity="0.8" transform="rotate(21.4 171.4 296.4)"/><rect x="69.5" y="302.7" width="1.5" height="6.8" fill="#b05a14" opacity="0.8" transform="rotate(-23.7 69.5 302.7)"/><rect x="59.1" y="245.4" width="1.5" height="5.5" fill="#f8b030" opacity="0.8" transform="rotate(-13 59.1 245.4)"/><rect x="78.4" y="277.4" width="1.5" height="7.8" fill="#f0a838" opacity="0.8" transform="rotate(-0.5 78.4 277.4)"/><rect x="190.4" y="250.1" width="1.5" height="5.8" fill="#f0a838" opacity="0.8" transform="rotate(27.6 190.4 250.1)"/><rect x="140.7" y="250" width="1.5" height="6.6" fill="#f8b030" opacity="0.8" transform="rotate(-26.4 140.7 250)"/><rect x="110.4" y="235.4" width="1.5" height="5.9" fill="#f0a838" opacity="0.8" transform="rotate(18.7 110.4 235.4)"/><rect x="187.9" y="241.7" width="1.5" height="6.2" fill="#f8d890" opacity="0.8" transform="rotate(0.5 187.9 241.7)"/><rect x="95.4" y="302.6" width="1.5" height="7.8" fill="#e8901c" opacity="0.8" transform="rotate(6.5 95.4 302.6)"/><rect x="99.1" y="255.5" width="1.5" height="7.1" fill="#b05a14" opacity="0.8" transform="rotate(-24.5 99.1 255.5)"/><rect x="99.9" y="241.2" width="1.5" height="5.4" fill="#b05a14" opacity="0.8" transform="rotate(-1.6 99.9 241.2)"/><rect x="175.6" y="240.3" width="1.5" height="7.6" fill="#8a4210" opacity="0.8" transform="rotate(-24.1 175.6 240.3)"/><rect x="167.9" y="281.8" width="1.5" height="7.5" fill="#e6c890" opacity="0.8" transform="rotate(-18.8 167.9 281.8)"/><rect x="115.1" y="321" width="1.5" height="6.8" fill="#d89848" opacity="0.8" transform="rotate(-16.3 115.1 321)"/><rect x="210.4" y="306" width="1.5" height="7.8" fill="#f0a838" opacity="0.8" transform="rotate(14.2 210.4 306)"/><rect x="131.8" y="309.1" width="1.5" height="7.1" fill="#f8e4b8" opacity="0.8" transform="rotate(-29.9 131.8 309.1)"/><rect x="196.9" y="263.4" width="1.5" height="7.4" fill="#f0a838" opacity="0.8" transform="rotate(25.2 196.9 263.4)"/><rect x="69" y="316.7" width="1.5" height="5.7" fill="#e08020" opacity="0.8" transform="rotate(-32.8 69 316.7)"/><rect x="88.6" y="272.5" width="1.5" height="6.7" fill="#f8b030" opacity="0.8" transform="rotate(5.1 88.6 272.5)"/><rect x="163.3" y="273" width="1.5" height="5.7" fill="#ffe0a0" opacity="0.8" transform="rotate(1.2 163.3 273)"/><rect x="207.5" y="282.6" width="1.5" height="6.5" fill="#ffc860" opacity="0.8" transform="rotate(24.2 207.5 282.6)"/><rect x="166.1" y="284" width="1.5" height="3" fill="#e6c890" opacity="0.8" transform="rotate(11.7 166.1 284)"/><rect x="127.7" y="330" width="1.5" height="3.3" fill="#e8b868" opacity="0.8" transform="rotate(-10.5 127.7 330)"/><rect x="102.8" y="278.5" width="1.5" height="7" fill="#ffc860" opacity="0.8" transform="rotate(-32.7 102.8 278.5)"/><rect x="183.3" y="319.8" width="1.5" height="5.2" fill="#d8a860" opacity="0.8" transform="rotate(1.1 183.3 319.8)"/><rect x="141.2" y="299.5" width="1.5" height="3.6" fill="#d89848" opacity="0.8" transform="rotate(12.7 141.2 299.5)"/><rect x="58.7" y="259.5" width="1.5" height="7" fill="#f0a838" opacity="0.8" transform="rotate(-29.5 58.7 259.5)"/><rect x="145.8" y="297.1" width="1.5" height="6.6" fill="#e8b868" opacity="0.8" transform="rotate(17.8 145.8 297.1)"/><rect x="189" y="323.2" width="1.5" height="5.9" fill="#b05a14" opacity="0.8" transform="rotate(20.1 189 323.2)"/><rect x="166.4" y="267" width="1.5" height="7" fill="#ffc860" opacity="0.8" transform="rotate(25.5 166.4 267)"/><rect x="126.8" y="250.7" width="1.5" height="5.4" fill="#f0a838" opacity="0.8" transform="rotate(-18.1 126.8 250.7)"/><rect x="60.3" y="237.5" width="1.5" height="4.3" fill="#ffe0a0" opacity="0.8" transform="rotate(11.7 60.3 237.5)"/><rect x="175.7" y="267.4" width="1.5" height="5.9" fill="#f8b030" opacity="0.8" transform="rotate(17.6 175.7 267.4)"/><rect x="66.2" y="286.6" width="1.5" height="4.3" fill="#8a4210" opacity="0.8" transform="rotate(33.3 66.2 286.6)"/><rect x="208" y="264" width="1.5" height="7.9" fill="#e8901c" opacity="0.8" transform="rotate(24.7 208 264)"/><rect x="197.9" y="308.9" width="1.5" height="8" fill="#f8ecd0" opacity="0.8" transform="rotate(-22.3 197.9 308.9)"/><rect x="171.5" y="283.6" width="1.5" height="4.8" fill="#f8ecd0" opacity="0.8" transform="rotate(-14.8 171.5 283.6)"/><rect x="171.8" y="268.6" width="1.5" height="7.4" fill="#f8ecd0" opacity="0.8" transform="rotate(-27.6 171.8 268.6)"/><rect x="147.9" y="328.8" width="1.5" height="5.7" fill="#d89848" opacity="0.8" transform="rotate(-3.1 147.9 328.8)"/><rect x="150.4" y="322" width="1.5" height="7.5" fill="#d89848" opacity="0.8" transform="rotate(-15.2 150.4 322)"/><rect x="157.9" y="286.9" width="1.5" height="3.6" fill="#b05a14" opacity="0.8" transform="rotate(29.4 157.9 286.9)"/><rect x="114.6" y="323.4" width="1.5" height="4.5" fill="#d89848" opacity="0.8" transform="rotate(34.5 114.6 323.4)"/><rect x="68.4" y="258" width="1.5" height="6" fill="#8a4210" opacity="0.8" transform="rotate(34.1 68.4 258)"/><rect x="189.9" y="289.4" width="1.5" height="5.5" fill="#e6c890" opacity="0.8" transform="rotate(22.6 189.9 289.4)"/><rect x="202.9" y="246.7" width="1.5" height="7.4" fill="#f0a838" opacity="0.8" transform="rotate(26 202.9 246.7)"/><rect x="151.5" y="292.8" width="1.5" height="6.3" fill="#ffe0a0" opacity="0.8" transform="rotate(24 151.5 292.8)"/><rect x="105.1" y="315" width="1.5" height="3.6" fill="#f0a838" opacity="0.8" transform="rotate(-2 105.1 315)"/><rect x="115.2" y="245.7" width="1.5" height="5.1" fill="#b05a14" opacity="0.8" transform="rotate(5.9 115.2 245.7)"/><rect x="182.7" y="308.1" width="1.5" height="4.2" fill="#d8a860" opacity="0.8" transform="rotate(12.1 182.7 308.1)"/><rect x="132.8" y="254.2" width="1.5" height="4.7" fill="#d07018" opacity="0.8" transform="rotate(-22.9 132.8 254.2)"/><rect x="155.3" y="330.4" width="1.5" height="5.5" fill="#e8b868" opacity="0.8" transform="rotate(6.3 155.3 330.4)"/><rect x="176.6" y="286.3" width="1.5" height="7" fill="#d8a860" opacity="0.8" transform="rotate(-19.8 176.6 286.3)"/><rect x="129.9" y="272.1" width="1.5" height="5.5" fill="#ffc860" opacity="0.8" transform="rotate(-20.4 129.9 272.1)"/><rect x="149.6" y="290.9" width="1.5" height="7.8" fill="#ffe0a0" opacity="0.8" transform="rotate(28.3 149.6 290.9)"/><rect x="129.8" y="233.7" width="1.5" height="6.4" fill="#b05a14" opacity="0.8" transform="rotate(19.9 129.8 233.7)"/><rect x="76.8" y="258.9" width="1.5" height="4.1" fill="#f8b030" opacity="0.8" transform="rotate(-15 76.8 258.9)"/><rect x="208.8" y="279.4" width="1.5" height="4.9" fill="#e08020" opacity="0.8" transform="rotate(16.4 208.8 279.4)"/><rect x="167.9" y="325.5" width="1.5" height="4.5" fill="#ffc860" opacity="0.8" transform="rotate(18.9 167.9 325.5)"/><rect x="188.5" y="285.2" width="1.5" height="4.6" fill="#f8ecd0" opacity="0.8" transform="rotate(21.3 188.5 285.2)"/><rect x="80.7" y="313.6" width="1.5" height="4.8" fill="#e8901c" opacity="0.8" transform="rotate(-4.3 80.7 313.6)"/><rect x="177.5" y="274.4" width="1.5" height="6.8" fill="#f0dcb0" opacity="0.8" transform="rotate(29.2 177.5 274.4)"/><rect x="85.6" y="269.9" width="1.5" height="4.6" fill="#b05a14" opacity="0.8" transform="rotate(-31.1 85.6 269.9)"/><rect x="201.6" y="299.5" width="1.5" height="6.3" fill="#f0dcb0" opacity="0.8" transform="rotate(-25.8 201.6 299.5)"/><rect x="122.5" y="257.7" width="1.5" height="3.1" fill="#b05a14" opacity="0.8" transform="rotate(-12 122.5 257.7)"/><rect x="189.6" y="308.4" width="1.5" height="4.2" fill="#d8a860" opacity="0.8" transform="rotate(28 189.6 308.4)"/><rect x="121.6" y="233.2" width="1.5" height="3.3" fill="#b05a14" opacity="0.8" transform="rotate(3.4 121.6 233.2)"/><rect x="102.5" y="275.3" width="1.5" height="6.2" fill="#ffc860" opacity="0.8" transform="rotate(8.3 102.5 275.3)"/><rect x="179" y="255.8" width="1.5" height="4.2" fill="#ffc860" opacity="0.8" transform="rotate(-22.4 179 255.8)"/><rect x="64.2" y="288.1" width="1.5" height="7.3" fill="#f0a838" opacity="0.8" transform="rotate(-20.1 64.2 288.1)"/><rect x="64" y="332.1" width="1.5" height="7.9" fill="#f0a838" opacity="0.8" transform="rotate(-15 64 332.1)"/><rect x="83" y="247.1" width="1.5" height="4.5" fill="#e8901c" opacity="0.8" transform="rotate(8.5 83 247.1)"/><rect x="190.7" y="233.2" width="1.5" height="4.7" fill="#f8d890" opacity="0.8" transform="rotate(20.9 190.7 233.2)"/><rect x="64.6" y="242.9" width="1.5" height="6.8" fill="#ffc860" opacity="0.8" transform="rotate(0.5 64.6 242.9)"/><rect x="89.2" y="260.9" width="1.5" height="6.5" fill="#e08020" opacity="0.8" transform="rotate(21.2 89.2 260.9)"/><rect x="75.9" y="245.6" width="1.5" height="6.6" fill="#b05a14" opacity="0.8" transform="rotate(6.4 75.9 245.6)"/><rect x="82.9" y="286.8" width="1.5" height="3.2" fill="#b05a14" opacity="0.8" transform="rotate(-21.2 82.9 286.8)"/><rect x="158.5" y="302.5" width="1.5" height="7" fill="#f4d8a0" opacity="0.8" transform="rotate(-23.5 158.5 302.5)"/><rect x="146.7" y="321" width="1.5" height="7.6" fill="#e8b868" opacity="0.8" transform="rotate(10.6 146.7 321)"/><rect x="160" y="284.6" width="1.5" height="3.9" fill="#ffe0a0" opacity="0.8" transform="rotate(32.5 160 284.6)"/><rect x="135.9" y="253.8" width="1.5" height="7.3" fill="#e8901c" opacity="0.8" transform="rotate(-32.9 135.9 253.8)"/><rect x="183.3" y="254.6" width="1.5" height="5.6" fill="#ffe0a0" opacity="0.8" transform="rotate(-19.3 183.3 254.6)"/><rect x="71.5" y="254.7" width="1.5" height="4.9" fill="#f0a838" opacity="0.8" transform="rotate(19.7 71.5 254.7)"/><rect x="84.4" y="329.1" width="1.5" height="3.5" fill="#d07018" opacity="0.8" transform="rotate(-0.2 84.4 329.1)"/><rect x="190.5" y="236" width="1.5" height="7.5" fill="#ffc860" opacity="0.8" transform="rotate(-6.7 190.5 236)"/><rect x="162.1" y="308.6" width="1.5" height="6" fill="#d07018" opacity="0.8" transform="rotate(5.7 162.1 308.6)"/><rect x="185.4" y="247.5" width="1.5" height="3.9" fill="#d07018" opacity="0.8" transform="rotate(6.8 185.4 247.5)"/><rect x="72.3" y="303.5" width="1.5" height="5.4" fill="#d07018" opacity="0.8" transform="rotate(-17.2 72.3 303.5)"/><rect x="178.6" y="297.1" width="1.5" height="3.3" fill="#f8ecd0" opacity="0.8" transform="rotate(-14.1 178.6 297.1)"/><rect x="208.5" y="264.7" width="1.5" height="6.6" fill="#f0a838" opacity="0.8" transform="rotate(-15.3 208.5 264.7)"/><rect x="71" y="314.8" width="1.5" height="7.5" fill="#8a4210" opacity="0.8" transform="rotate(6.4 71 314.8)"/><rect x="157.8" y="308.5" width="1.5" height="7" fill="#d89848" opacity="0.8" transform="rotate(1.9 157.8 308.5)"/><rect x="85.8" y="320.3" width="1.5" height="7.7" fill="#ffc860" opacity="0.8" transform="rotate(14.5 85.8 320.3)"/><rect x="145.7" y="328.3" width="1.5" height="6.9" fill="#f8e4b8" opacity="0.8" transform="rotate(16.5 145.7 328.3)"/><rect x="70.4" y="239.1" width="1.5" height="7" fill="#f0a838" opacity="0.8" transform="rotate(-25.7 70.4 239.1)"/><rect x="76" y="263" width="1.5" height="4.2" fill="#8a4210" opacity="0.8" transform="rotate(-12.3 76 263)"/><rect x="139.6" y="252.2" width="1.5" height="3.5" fill="#e08020" opacity="0.8" transform="rotate(-6.7 139.6 252.2)"/><rect x="133.1" y="270.2" width="1.5" height="3.4" fill="#b05a14" opacity="0.8" transform="rotate(7.2 133.1 270.2)"/><rect x="150.5" y="288.2" width="1.5" height="3.6" fill="#b05a14" opacity="0.8" transform="rotate(19.4 150.5 288.2)"/><rect x="142.7" y="268.8" width="1.5" height="6" fill="#f8d890" opacity="0.8" transform="rotate(14.5 142.7 268.8)"/><rect x="98.3" y="276.7" width="1.5" height="3.3" fill="#8a4210" opacity="0.8" transform="rotate(3.7 98.3 276.7)"/><rect x="119.8" y="315.6" width="1.5" height="5" fill="#e8b868" opacity="0.8" transform="rotate(34.1 119.8 315.6)"/><rect x="137.4" y="308.4" width="1.5" height="4.9" fill="#f8e4b8" opacity="0.8" transform="rotate(16.5 137.4 308.4)"/><rect x="169.7" y="253" width="1.5" height="5.8" fill="#d07018" opacity="0.8" transform="rotate(-18.8 169.7 253)"/><rect x="209" y="263.9" width="1.5" height="7.4" fill="#f0a838" opacity="0.8" transform="rotate(-33.5 209 263.9)"/><rect x="72.4" y="328" width="1.5" height="3.3" fill="#d07018" opacity="0.8" transform="rotate(33 72.4 328)"/><rect x="153" y="317.2" width="1.5" height="6.9" fill="#f4d8a0" opacity="0.8" transform="rotate(-32.6 153 317.2)"/><rect x="159.8" y="310.7" width="1.5" height="3.1" fill="#e8b868" opacity="0.8" transform="rotate(-34.3 159.8 310.7)"/><rect x="120.2" y="285.4" width="1.5" height="5.8" fill="#e8901c" opacity="0.8" transform="rotate(-22.5 120.2 285.4)"/><rect x="210.1" y="258.3" width="1.5" height="6.4" fill="#f8b030" opacity="0.8" transform="rotate(32.3 210.1 258.3)"/><rect x="127.1" y="274.8" width="1.5" height="4.2" fill="#ffe0a0" opacity="0.8" transform="rotate(8.6 127.1 274.8)"/><rect x="147.5" y="311.2" width="1.5" height="7.4" fill="#f8e4b8" opacity="0.8" transform="rotate(-9.6 147.5 311.2)"/><rect x="146.4" y="322.8" width="1.5" height="3" fill="#f8e4b8" opacity="0.8" transform="rotate(-0.5 146.4 322.8)"/><rect x="198.4" y="253.5" width="1.5" height="7.8" fill="#b05a14" opacity="0.8" transform="rotate(-6.9 198.4 253.5)"/><rect x="99.1" y="306.6" width="1.5" height="8" fill="#ffc860" opacity="0.8" transform="rotate(33.8 99.1 306.6)"/><rect x="114.1" y="328.7" width="1.5" height="5.8" fill="#e8b868" opacity="0.8" transform="rotate(1.8 114.1 328.7)"/><rect x="89" y="311.9" width="1.5" height="6.8" fill="#ffe0a0" opacity="0.8" transform="rotate(-11.6 89 311.9)"/><rect x="122.9" y="267" width="1.5" height="3.7" fill="#b05a14" opacity="0.8" transform="rotate(3.4 122.9 267)"/><rect x="130.1" y="239.2" width="1.5" height="7.7" fill="#ffc860" opacity="0.8" transform="rotate(29.9 130.1 239.2)"/><rect x="170.2" y="318.4" width="1.5" height="6" fill="#d8a860" opacity="0.8" transform="rotate(-30.8 170.2 318.4)"/><rect x="93.8" y="254.7" width="1.5" height="3.1" fill="#f8b030" opacity="0.8" transform="rotate(29.8 93.8 254.7)"/><rect x="170.3" y="291.2" width="1.5" height="4.7" fill="#f0dcb0" opacity="0.8" transform="rotate(18.1 170.3 291.2)"/><rect x="167.7" y="273.7" width="1.5" height="8" fill="#f0dcb0" opacity="0.8" transform="rotate(-11.5 167.7 273.7)"/><rect x="111.4" y="317.6" width="1.5" height="5.5" fill="#e8b868" opacity="0.8" transform="rotate(20.6 111.4 317.6)"/><rect x="136.4" y="317.4" width="1.5" height="7.1" fill="#f4d8a0" opacity="0.8" transform="rotate(-5.7 136.4 317.4)"/><rect x="164.7" y="244.6" width="1.5" height="5" fill="#d07018" opacity="0.8" transform="rotate(30.2 164.7 244.6)"/><rect x="135.9" y="243.5" width="1.5" height="3.8" fill="#f8b030" opacity="0.8" transform="rotate(1.3 135.9 243.5)"/><rect x="195.7" y="237.3" width="1.5" height="4.8" fill="#e08020" opacity="0.8" transform="rotate(-15.9 195.7 237.3)"/><rect x="85.7" y="312.1" width="1.5" height="7.6" fill="#f8b030" opacity="0.8" transform="rotate(-11.5 85.7 312.1)"/><rect x="61" y="256.8" width="1.5" height="4.6" fill="#f8d890" opacity="0.8" transform="rotate(12.5 61 256.8)"/><rect x="88.7" y="290.2" width="1.5" height="3.3" fill="#e08020" opacity="0.8" transform="rotate(21.4 88.7 290.2)"/><rect x="133.8" y="254.8" width="1.5" height="5.1" fill="#f0a838" opacity="0.8" transform="rotate(-4 133.8 254.8)"/><rect x="191.1" y="291.3" width="1.5" height="3.3" fill="#f8ecd0" opacity="0.8" transform="rotate(-15 191.1 291.3)"/><rect x="203.4" y="308.4" width="1.5" height="3.8" fill="#f0dcb0" opacity="0.8" transform="rotate(-33.3 203.4 308.4)"/><rect x="128.4" y="302.6" width="1.5" height="5.3" fill="#e8b868" opacity="0.8" transform="rotate(-13.8 128.4 302.6)"/><rect x="206.4" y="318.1" width="1.5" height="4.6" fill="#e08020" opacity="0.8" transform="rotate(2.1 206.4 318.1)"/><rect x="163" y="327.9" width="1.5" height="3.5" fill="#b05a14" opacity="0.8" transform="rotate(26.9 163 327.9)"/><rect x="155" y="250.7" width="1.5" height="6.3" fill="#b05a14" opacity="0.8" transform="rotate(23.7 155 250.7)"/><rect x="208.6" y="291" width="1.5" height="8" fill="#d07018" opacity="0.8" transform="rotate(-0.4 208.6 291)"/><rect x="202.8" y="267.6" width="1.5" height="3.3" fill="#f8d890" opacity="0.8" transform="rotate(29.5 202.8 267.6)"/><rect x="203" y="326.3" width="1.5" height="6.7" fill="#8a4210" opacity="0.8" transform="rotate(7.5 203 326.3)"/><rect x="151.6" y="255.2" width="1.5" height="4.4" fill="#f0a838" opacity="0.8" transform="rotate(4.6 151.6 255.2)"/><rect x="131.7" y="233.9" width="1.5" height="4.3" fill="#f0a838" opacity="0.8" transform="rotate(-16.5 131.7 233.9)"/><rect x="195.6" y="294.8" width="1.5" height="6.6" fill="#f0dcb0" opacity="0.8" transform="rotate(-17.2 195.6 294.8)"/><rect x="94.1" y="266.6" width="1.5" height="4.5" fill="#b05a14" opacity="0.8" transform="rotate(26.9 94.1 266.6)"/><rect x="169.7" y="254.5" width="1.5" height="4.4" fill="#b05a14" opacity="0.8" transform="rotate(-22.8 169.7 254.5)"/><rect x="82.3" y="279" width="1.5" height="4.6" fill="#f0a838" opacity="0.8" transform="rotate(15.3 82.3 279)"/><rect x="177.3" y="317.4" width="1.5" height="3.7" fill="#e6c890" opacity="0.8" transform="rotate(-0.7 177.3 317.4)"/><rect x="211.6" y="298.1" width="1.5" height="5.6" fill="#8a4210" opacity="0.8" transform="rotate(-24.4 211.6 298.1)"/><rect x="74" y="308.9" width="1.5" height="6.5" fill="#8a4210" opacity="0.8" transform="rotate(15.2 74 308.9)"/><rect x="120.3" y="318.8" width="1.5" height="7.7" fill="#f4d8a0" opacity="0.8" transform="rotate(-25.1 120.3 318.8)"/><rect x="97.2" y="260.1" width="1.5" height="5.6" fill="#ffc860" opacity="0.8" transform="rotate(-19.1 97.2 260.1)"/><rect x="58.6" y="236.6" width="1.5" height="3.3" fill="#d07018" opacity="0.8" transform="rotate(27 58.6 236.6)"/><rect x="161" y="283.8" width="1.5" height="7" fill="#8a4210" opacity="0.8" transform="rotate(-18.8 161 283.8)"/><rect x="181.5" y="247.3" width="1.5" height="7.1" fill="#e8901c" opacity="0.8" transform="rotate(-26.9 181.5 247.3)"/><rect x="108.2" y="325.1" width="1.5" height="4.1" fill="#f8e4b8" opacity="0.8" transform="rotate(-31.1 108.2 325.1)"/><rect x="157.4" y="265.1" width="1.5" height="7.3" fill="#d07018" opacity="0.8" transform="rotate(-32.7 157.4 265.1)"/><rect x="147.8" y="303.6" width="1.5" height="6.4" fill="#d89848" opacity="0.8" transform="rotate(-8.3 147.8 303.6)"/><rect x="199.8" y="269.9" width="1.5" height="6.9" fill="#f0dcb0" opacity="0.8" transform="rotate(-8.3 199.8 269.9)"/><rect x="176.1" y="272.4" width="1.5" height="7.9" fill="#f0dcb0" opacity="0.8" transform="rotate(-24.2 176.1 272.4)"/><rect x="137" y="306.1" width="1.5" height="4.3" fill="#f8e4b8" opacity="0.8" transform="rotate(30.8 137 306.1)"/><rect x="158" y="314.8" width="1.5" height="5.9" fill="#d89848" opacity="0.8" transform="rotate(33.6 158 314.8)"/><rect x="130.1" y="235.9" width="1.5" height="7.7" fill="#e08020" opacity="0.8" transform="rotate(13.2 130.1 235.9)"/><rect x="81.3" y="255.8" width="1.5" height="5.8" fill="#ffc860" opacity="0.8" transform="rotate(-16.1 81.3 255.8)"/><rect x="166" y="284.8" width="1.5" height="3.4" fill="#d8a860" opacity="0.8" transform="rotate(8.6 166 284.8)"/><rect x="161.1" y="281.4" width="1.5" height="4.8" fill="#f8d890" opacity="0.8" transform="rotate(30.6 161.1 281.4)"/><rect x="191.5" y="256" width="1.5" height="7.1" fill="#d07018" opacity="0.8" transform="rotate(-34.6 191.5 256)"/><rect x="128" y="278.5" width="1.5" height="3.6" fill="#ffe0a0" opacity="0.8" transform="rotate(34.5 128 278.5)"/><rect x="130.6" y="254.3" width="1.5" height="4.4" fill="#f8b030" opacity="0.8" transform="rotate(-31.2 130.6 254.3)"/><rect x="204.3" y="261.3" width="1.5" height="3.2" fill="#f8d890" opacity="0.8" transform="rotate(-30.1 204.3 261.3)"/><rect x="150.5" y="248.8" width="1.5" height="4.1" fill="#e8901c" opacity="0.8" transform="rotate(-26 150.5 248.8)"/><rect x="84.8" y="277.5" width="1.5" height="5.6" fill="#f8d890" opacity="0.8" transform="rotate(5.9 84.8 277.5)"/><rect x="214.3" y="300.8" width="1.5" height="4.5" fill="#b05a14" opacity="0.8" transform="rotate(-27.2 214.3 300.8)"/><rect x="79" y="276.2" width="1.5" height="6.5" fill="#f8b030" opacity="0.8" transform="rotate(-2.6 79 276.2)"/><rect x="165.1" y="240.1" width="1.5" height="3.8" fill="#ffc860" opacity="0.8" transform="rotate(-2 165.1 240.1)"/><rect x="61.3" y="261.1" width="1.5" height="8" fill="#ffc860" opacity="0.8" transform="rotate(-24.4 61.3 261.1)"/><rect x="64.5" y="319.3" width="1.5" height="3.5" fill="#d07018" opacity="0.8" transform="rotate(-14.3 64.5 319.3)"/><rect x="105.1" y="330.5" width="1.5" height="6.7" fill="#f8b030" opacity="0.8" transform="rotate(-34.8 105.1 330.5)"/><rect x="214.7" y="295.1" width="1.5" height="4.1" fill="#f8b030" opacity="0.8" transform="rotate(6.1 214.7 295.1)"/><rect x="185" y="272.3" width="1.5" height="6.6" fill="#e6c890" opacity="0.8" transform="rotate(-21.1 185 272.3)"/><rect x="150.9" y="280" width="1.5" height="5.3" fill="#ffc860" opacity="0.8" transform="rotate(33.8 150.9 280)"/><rect x="192.2" y="273" width="1.5" height="7.2" fill="#f0dcb0" opacity="0.8" transform="rotate(15.4 192.2 273)"/><rect x="114.5" y="270.4" width="1.5" height="7.8" fill="#ffc860" opacity="0.8" transform="rotate(29.3 114.5 270.4)"/><rect x="141.5" y="271.8" width="1.5" height="4.6" fill="#b05a14" opacity="0.8" transform="rotate(-11 141.5 271.8)"/><rect x="180" y="248.6" width="1.5" height="7.7" fill="#b05a14" opacity="0.8" transform="rotate(-13.5 180 248.6)"/><rect x="60.5" y="269" width="1.5" height="6.4" fill="#b05a14" opacity="0.8" transform="rotate(12.1 60.5 269)"/><rect x="134.6" y="242.1" width="1.5" height="5.4" fill="#d07018" opacity="0.8" transform="rotate(18.3 134.6 242.1)"/><rect x="146.2" y="313.4" width="1.5" height="5.8" fill="#f8e4b8" opacity="0.8" transform="rotate(-13 146.2 313.4)"/></g><g filter="url(#bl5)"><line x1="64" y1="230" x2="64.3" y2="336" stroke="#e2dac4" stroke-width="1.6" opacity="0.95"/><line x1="71" y1="230" x2="71.6" y2="336" stroke="#e2dac4" stroke-width="1.6" opacity="0.95"/><line x1="84" y1="230" x2="84.0" y2="336" stroke="#e2dac4" stroke-width="1.6" opacity="0.95"/><line x1="98" y1="230" x2="98.1" y2="336" stroke="#e2dac4" stroke-width="1.6" opacity="0.95"/><line x1="114" y1="230" x2="113.5" y2="336" stroke="#e2dac4" stroke-width="1.6" opacity="0.95"/><line x1="129" y1="230" x2="129.3" y2="336" stroke="#e2dac4" stroke-width="1.6" opacity="0.95"/><line x1="141" y1="230" x2="141.5" y2="336" stroke="#e2dac4" stroke-width="1.6" opacity="0.95"/><line x1="147" y1="230" x2="146.2" y2="336" stroke="#e2dac4" stroke-width="1.6" opacity="0.95"/><line x1="158" y1="230" x2="158.3" y2="336" stroke="#e2dac4" stroke-width="1.6" opacity="0.95"/><line x1="166" y1="230" x2="166.4" y2="336" stroke="#e2dac4" stroke-width="1.6" opacity="0.95"/><line x1="177" y1="230" x2="176.4" y2="336" stroke="#e2dac4" stroke-width="1.6" opacity="0.95"/><line x1="186" y1="230" x2="186.7" y2="336" stroke="#e2dac4" stroke-width="1.6" opacity="0.95"/><line x1="194" y1="230" x2="194.6" y2="336" stroke="#e2dac4" stroke-width="1.6" opacity="0.95"/><line x1="200" y1="230" x2="200.6" y2="336" stroke="#e2dac4" stroke-width="1.6" opacity="0.95"/><line x1="208" y1="230" x2="208.1" y2="336" stroke="#e2dac4" stroke-width="1.6" opacity="0.95"/><path d="M55 305 Q120 303 170 308" stroke="#b8a888" stroke-width="1.2" fill="none"/><path d="M150 260 Q180 258 210 261" stroke="#7a5030" stroke-width="1.2" fill="none"/><path d="M140 315 Q170 311 195 313" stroke="#5a3414" stroke-width="1.4" fill="none"/><rect x="147" y="313" width="2.5" height="12" fill="#4a2a10"/></g></g><g clip-path="url(#clh)"><rect x="55" y="363" width="165" height="108" fill="url(#skyh)"/><g filter="url(#bl5)"><rect x="74" y="383" width="3" height="30" fill="#c8ccd2"/><rect x="66" y="398" width="10" height="3" fill="#b0b4ba"/><polygon points="55,412 75,410 88,414 88,470 55,470" fill="#8e9096"/><rect x="55" y="414" width="20" height="10" fill="#d0d2d6"/><polygon points="55,430 88,426 88,470 55,470" fill="#4e5058"/><rect x="58" y="448" width="26" height="4" fill="#9a9ca2"/><rect x="58" y="440" width="28" height="4" fill="#6e7076"/><rect x="89" y="380" width="23" height="92" fill="url(#tw)"/><polygon points="86,372 100,368 114,372 114,382 86,382" fill="#5c6068"/><ellipse cx="94" cy="424" rx="21" ry="4" fill="#2c323a"/><rect x="110" y="400" width="8" height="70" fill="#c4b248" opacity="0.9"/><rect x="112" y="400" width="4" height="70" fill="#6a6440"/><path d="M116 402 L116 388 Q132 374 148 384 L150 402 Z" fill="#343a48"/><polygon points="112,402 150,400 156,412 148,420 112,420" fill="#e4e6ec"/><polygon points="115,418 160,414 170,418 170,472 115,472" fill="#30343e"/><rect x="120" y="422" width="12" height="20" fill="#8a8e98"/><rect x="135" y="428" width="28" height="3" fill="#9aa0a8"/><rect x="118" y="448" width="40" height="3" fill="#80848e"/><polygon points="118,446 168,432 170,438 120,452" fill="#4a4e58"/><rect x="150" y="436" width="8" height="30" fill="#d8dadf"/><polygon points="164,392 167,377 176,373 184,377 186,392" fill="#30343e"/><polygon points="150,400 196,386 200,406 156,416" fill="#343846"/><path d="M150 400 L184 388 M152 405 L186 393 M150 400 L154 414 M168 394 L170 408" stroke="#ccb444" stroke-width="1.5" fill="none"/><polygon points="186,384 210,388 214,470 186,470" fill="#d6d8de"/><rect x="193" y="418" width="6" height="10" fill="#3e424c"/><rect x="200" y="432" width="8" height="14" fill="#4a4e58"/><rect x="170" y="415" width="12" height="48" fill="#e6e8ec"/><rect x="182" y="420" width="5" height="44" fill="#5a5e68"/><polygon points="206,390 215,400 215,440 208,445" fill="#3a3e48"/><polygon points="122,458 196,449 196,458 122,467" fill="#3a52aa"/></g></g><g clip-path="url(#cly)"><rect x="50" y="494" width="165" height="42" fill="url(#skyy)"/><g filter="url(#bl5)"><ellipse cx="155" cy="507" rx="16" ry="5" fill="#dfe8f2" opacity="0.7"/><polygon points="50,530 80,527 110,529 140,529 170,531 215,530 215,538 50,538" fill="#5e90be"/><rect x="50" y="535" width="72" height="20" fill="#c4ac8c"/><rect x="80" y="535" width="40" height="22" fill="#d6d4d0"/><rect x="82" y="538" width="36" height="1.6" fill="#6a706c" opacity="0.6"/><rect x="82" y="542" width="36" height="1.6" fill="#6a706c" opacity="0.6"/><rect x="82" y="546" width="36" height="1.6" fill="#6a706c" opacity="0.6"/><rect x="82" y="550" width="36" height="1.6" fill="#6a706c" opacity="0.6"/><rect x="82" y="554" width="36" height="1.6" fill="#6a706c" opacity="0.6"/><rect x="56" y="537" width="2" height="18" fill="#7a6e60" opacity="0.55"/><rect x="61" y="537" width="2" height="18" fill="#7a6e60" opacity="0.55"/><rect x="66" y="537" width="2" height="18" fill="#7a6e60" opacity="0.55"/><rect x="71" y="537" width="2" height="18" fill="#7a6e60" opacity="0.55"/><rect x="76" y="537" width="2" height="18" fill="#7a6e60" opacity="0.55"/><rect x="81" y="537" width="2" height="18" fill="#7a6e60" opacity="0.55"/><rect x="86" y="537" width="2" height="18" fill="#7a6e60" opacity="0.55"/><rect x="91" y="537" width="2" height="18" fill="#7a6e60" opacity="0.55"/><rect x="96" y="537" width="2" height="18" fill="#7a6e60" opacity="0.55"/><rect x="101" y="537" width="2" height="18" fill="#7a6e60" opacity="0.55"/><rect x="106" y="537" width="2" height="18" fill="#7a6e60" opacity="0.55"/><rect x="111" y="537" width="2" height="18" fill="#7a6e60" opacity="0.55"/><rect x="116" y="537" width="2" height="18" fill="#7a6e60" opacity="0.55"/><rect x="121" y="537" width="2" height="18" fill="#7a6e60" opacity="0.55"/><rect x="120" y="534" width="18" height="48" fill="#dcb482"/><rect x="126" y="536" width="2.5" height="44" fill="#8a6848"/><rect x="138" y="533" width="22" height="48" fill="#d2cfc8"/><rect x="140" y="537" width="19" height="2.4" fill="#34504a" opacity="0.9"/><rect x="140" y="541" width="19" height="2.4" fill="#34504a" opacity="0.9"/><rect x="140" y="545" width="19" height="2.4" fill="#34504a" opacity="0.9"/><rect x="140" y="549" width="19" height="2.4" fill="#34504a" opacity="0.9"/><rect x="140" y="553" width="19" height="2.4" fill="#34504a" opacity="0.9"/><rect x="140" y="557" width="19" height="2.4" fill="#34504a" opacity="0.9"/><rect x="140" y="561" width="19" height="2.4" fill="#34504a" opacity="0.9"/><rect x="140" y="565" width="19" height="2.4" fill="#34504a" opacity="0.9"/><rect x="140" y="569" width="19" height="2.4" fill="#34504a" opacity="0.9"/><rect x="140" y="573" width="19" height="2.4" fill="#34504a" opacity="0.9"/><rect x="140" y="577" width="19" height="2.4" fill="#34504a" opacity="0.9"/><polygon points="135,530 160,528 200,530 208,536 160,538" fill="#b4b0a8"/><rect x="160" y="539" width="55" height="64" fill="#dcc08e"/><rect x="160" y="539" width="55" height="6" fill="#e8e6e2"/><rect x="183" y="544" width="4" height="60" fill="#9a7c58"/><rect x="160" y="560" width="55" height="1.5" fill="#f0e6d2"/><polygon points="50,560 62,556 80,553 95,552 110,555 125,562 140,575 160,578 160,605 50,605" fill="url(#tree)"/></g><g filter="url(#bl5)"><circle cx="110.8" cy="596.3" r="2" fill="#4a9a3a" opacity="0.8"/><circle cx="94.9" cy="570.2" r="3.4" fill="#6ab84a" opacity="0.8"/><circle cx="101" cy="555.9" r="3.7" fill="#4a9a3a" opacity="0.8"/><circle cx="108.9" cy="575.7" r="3.5" fill="#22601e" opacity="0.8"/><circle cx="107.6" cy="561.9" r="3.8" fill="#2e7428" opacity="0.8"/><circle cx="76.1" cy="588.6" r="3" fill="#80c258" opacity="0.8"/><circle cx="135.9" cy="582.5" r="2.3" fill="#22601e" opacity="0.8"/><circle cx="123.6" cy="599.8" r="2.1" fill="#22601e" opacity="0.8"/><circle cx="65.7" cy="561.2" r="2.5" fill="#2e7428" opacity="0.8"/><circle cx="132.1" cy="591.6" r="3.5" fill="#22601e" opacity="0.8"/><circle cx="87.4" cy="596.1" r="2.5" fill="#3a8a30" opacity="0.8"/><circle cx="158.9" cy="589.5" r="2.8" fill="#4a9a3a" opacity="0.8"/><circle cx="114.7" cy="597" r="3.7" fill="#3a8a30" opacity="0.8"/><circle cx="97" cy="575" r="3.4" fill="#3a8a30" opacity="0.8"/><circle cx="70.7" cy="576.5" r="2.6" fill="#4a9a3a" opacity="0.8"/><circle cx="123.3" cy="559.3" r="3.4" fill="#6ab84a" opacity="0.8"/><circle cx="62.9" cy="552.6" r="2.2" fill="#2e7428" opacity="0.8"/><circle cx="133.7" cy="587.5" r="2" fill="#80c258" opacity="0.8"/><circle cx="136.4" cy="583.7" r="1.5" fill="#80c258" opacity="0.8"/><circle cx="156.8" cy="580.8" r="2.4" fill="#80c258" opacity="0.8"/><circle cx="82.2" cy="570.4" r="1.5" fill="#3a8a30" opacity="0.8"/><circle cx="121.6" cy="570.6" r="3.5" fill="#4a9a3a" opacity="0.8"/><circle cx="79.8" cy="559.8" r="1.6" fill="#6ab84a" opacity="0.8"/><circle cx="68.9" cy="563.4" r="3.7" fill="#4a9a3a" opacity="0.8"/><circle cx="64.5" cy="553.8" r="2.4" fill="#22601e" opacity="0.8"/><circle cx="62.5" cy="579" r="1.8" fill="#2e7428" opacity="0.8"/><circle cx="92.2" cy="563.7" r="3.2" fill="#3a8a30" opacity="0.8"/><circle cx="74.4" cy="570.5" r="3.8" fill="#6ab84a" opacity="0.8"/><circle cx="146.7" cy="593.9" r="3.8" fill="#6ab84a" opacity="0.8"/><circle cx="134.8" cy="581.9" r="2.3" fill="#4a9a3a" opacity="0.8"/><circle cx="109.5" cy="596.8" r="3.8" fill="#80c258" opacity="0.8"/><circle cx="138.8" cy="594.6" r="3.2" fill="#4a9a3a" opacity="0.8"/><circle cx="102.2" cy="570.1" r="1.7" fill="#3a8a30" opacity="0.8"/><circle cx="151.4" cy="586.3" r="2.7" fill="#2e7428" opacity="0.8"/><circle cx="87" cy="578.9" r="1.8" fill="#3a8a30" opacity="0.8"/><circle cx="107.6" cy="559.4" r="3.1" fill="#2e7428" opacity="0.8"/><circle cx="115.1" cy="596.5" r="2.5" fill="#22601e" opacity="0.8"/><circle cx="104.6" cy="560.1" r="3.1" fill="#80c258" opacity="0.8"/><circle cx="108" cy="589" r="2" fill="#4a9a3a" opacity="0.8"/><circle cx="107.7" cy="552.6" r="3.1" fill="#2e7428" opacity="0.8"/><circle cx="98.6" cy="598.9" r="3.4" fill="#80c258" opacity="0.8"/><circle cx="84.8" cy="562.5" r="3.3" fill="#4a9a3a" opacity="0.8"/><circle cx="157" cy="597.5" r="2.7" fill="#3a8a30" opacity="0.8"/><circle cx="94.9" cy="553.9" r="3.7" fill="#4a9a3a" opacity="0.8"/><circle cx="65.5" cy="579.8" r="3.9" fill="#2e7428" opacity="0.8"/><circle cx="120.3" cy="560.3" r="1.7" fill="#4a9a3a" opacity="0.8"/><circle cx="146.9" cy="596.5" r="3.5" fill="#6ab84a" opacity="0.8"/><circle cx="83.8" cy="575.2" r="3.2" fill="#4a9a3a" opacity="0.8"/><circle cx="77.3" cy="590.7" r="3.6" fill="#6ab84a" opacity="0.8"/><circle cx="114.8" cy="587" r="2" fill="#2e7428" opacity="0.8"/><circle cx="131" cy="579.6" r="2.3" fill="#6ab84a" opacity="0.8"/><circle cx="74.7" cy="581.8" r="3.4" fill="#3a8a30" opacity="0.8"/><circle cx="68.2" cy="592.8" r="2.3" fill="#4a9a3a" opacity="0.8"/><circle cx="92.7" cy="575.3" r="3.4" fill="#4a9a3a" opacity="0.8"/><circle cx="95.3" cy="591.1" r="1.9" fill="#6ab84a" opacity="0.8"/><circle cx="98.9" cy="558.3" r="3.5" fill="#80c258" opacity="0.8"/><circle cx="69.8" cy="575.7" r="3.1" fill="#22601e" opacity="0.8"/><circle cx="152.3" cy="597.7" r="3.1" fill="#3a8a30" opacity="0.8"/><circle cx="131.5" cy="595.4" r="3.6" fill="#22601e" opacity="0.8"/><circle cx="102.5" cy="575.6" r="2.4" fill="#3a8a30" opacity="0.8"/><circle cx="78.8" cy="557" r="2.3" fill="#3a8a30" opacity="0.8"/><circle cx="93.9" cy="598.7" r="1.7" fill="#2e7428" opacity="0.8"/><circle cx="110.8" cy="587.2" r="2.2" fill="#22601e" opacity="0.8"/><polygon points="125,583 140,580 144,590 128,593" fill="#3a6cb0"/></g></g><line x1="202" y1="194.2" x2="310.4" y2="251.3" stroke="#111" stroke-width="2.6"/><polygon points="317.5,255 307.4,254.9 311.7,246.7" fill="#111"/><line x1="222.4" y1="289.3" x2="301.7" y2="309.6" stroke="#111" stroke-width="2.6"/><polygon points="309.4,311.6 299.5,313.8 301.8,304.9" fill="#111"/><line x1="222.4" y1="396.6" x2="300.6" y2="378.1" stroke="#111" stroke-width="2.6"/><polygon points="308.4,376.3 300.7,382.8 298.6,373.9" fill="#111"/><line x1="202" y1="505.9" x2="314.2" y2="437.2" stroke="#111" stroke-width="2.6"/><polygon points="321,433 315.7,441.6 310.9,433.8" fill="#111"/></svg><svg style="position:absolute;left:0;top:0" width="741" height="1024" viewBox="0 0 741 1024">
<defs>
<linearGradient id="cbside" x1="0" y1="0" x2="1" y2="0"><stop offset="0" stop-color="#e9e9e9"/><stop offset="0.5" stop-color="#e2e2e2"/><stop offset="1" stop-color="#d9d9d9"/></linearGradient>
<linearGradient id="cbfront" x1="0" y1="0" x2="1" y2="1"><stop offset="0" stop-color="#ededed"/><stop offset="1" stop-color="#f6f6f6"/></linearGradient>
<linearGradient id="scr" x1="0" y1="0" x2="0" y2="1"><stop offset="0" stop-color="#173a80"/><stop offset="0.075" stop-color="#1a3f88"/><stop offset="0.085" stop-color="#2c7cea"/><stop offset="0.6" stop-color="#1f64d4"/><stop offset="0.68" stop-color="#1a4a9e"/><stop offset="1" stop-color="#153a84"/></linearGradient>
<g id="cab">
 <polygon points="327.5,289 357.5,295 356.4,453.4 330.5,433" fill="url(#cbside)"/>
 <polygon points="357.5,295 450.5,288.5 444,443.7 356.4,453.4" fill="url(#cbfront)"/>
 <polygon points="327.5,289 357.5,295 450.5,288.5 450.5,291.5 357.5,298.5 327.5,292.5" fill="#d6d6d6"/>
 <line x1="357.3" y1="297" x2="356.6" y2="453" stroke="#cfcfcf" stroke-width="0.9"/>
 <line x1="450" y1="290" x2="444" y2="443.7" stroke="#dcdcdc" stroke-width="0.8"/>
 <polygon points="334.2,270.1 359,270.8 360.5,288 320,282.2" fill="#dcdcdc"/>
 <polygon points="359,270.8 444.6,270.1 459.7,281.2 360.5,288" fill="#ebebeb"/>
 <polygon points="320,282.2 360.5,288 359.5,297 321,290" fill="#f4f4f4"/>
 <polygon points="360.5,288 459.7,281.2 458.7,289.5 359.5,297" fill="#fbfbfb"/>
 <line x1="334.2" y1="270.3" x2="444.6" y2="270.3" stroke="#c8c8c8" stroke-width="0.9"/>
 <line x1="320" y1="282.2" x2="360.5" y2="288" stroke="#d4d4d4" stroke-width="0.6"/>
 <line x1="360.5" y1="288" x2="459.7" y2="281.2" stroke="#dedede" stroke-width="0.6"/>
 <line x1="359" y1="270.8" x2="360.5" y2="288" stroke="#d0d0d0" stroke-width="0.6"/>
 <line x1="321" y1="290" x2="359.5" y2="297" stroke="#d6d6d6" stroke-width="0.6"/>
 <line x1="359.5" y1="297" x2="458.7" y2="289.5" stroke="#dadada" stroke-width="0.6"/>
 <path d="M389.3,309.6 L427.6,306.3 Q430.6,306 430.5,309 L428.3,368 Q428.2,371 425.2,371.5 L389,380 Q386,380.6 386,377.6 L386.3,312.9 Q386.3,309.9 389.3,309.6 Z" fill="url(#scr)" stroke="#0f2f6a" stroke-width="0.5"/>
 <rect x="398" y="317.5" width="21" height="1.8" fill="#b4d2f8" opacity="0.9"/>
 <g fill="#e6f0ff">
  <rect x="397" y="326.5" width="8" height="2"/><rect x="397" y="330.5" width="8" height="2"/><rect x="397" y="334.5" width="8" height="2"/><rect x="397" y="338.5" width="8" height="2"/>
  <rect x="411" y="325.5" width="8" height="2"/><rect x="411" y="329.5" width="8" height="2"/><rect x="411" y="333.5" width="8" height="2"/><rect x="411" y="337.5" width="8" height="2"/>
  <rect x="399" y="344" width="3" height="5" opacity="0.85"/><rect x="405" y="343.5" width="3" height="5" opacity="0.85"/><rect x="411" y="343" width="3" height="5" opacity="0.85"/>
 </g>
 <circle cx="439" cy="361.5" r="3.8" fill="#ececec" stroke="#b8b8b8" stroke-width="0.8"/>
 <circle cx="439" cy="361.5" r="1.6" fill="#6a6a6a"/>
 <g fill="#e8e8e8" stroke="#c4c4c4" stroke-width="0.6">
  <circle cx="382.5" cy="392.5" r="2.3"/><circle cx="397" cy="389.5" r="2.3"/><circle cx="411.5" cy="386" r="2.3"/><circle cx="426" cy="382" r="2.3"/>
 </g>
 <text x="0" y="0" transform="translate(364.5,425) skewY(-16.5)" font-size="10" fill="#3f86d6" letter-spacing="-0.1">恶臭在线监测系统</text>
 <text x="0" y="0" transform="translate(377,440) skewY(-16.5)" font-size="4.6" fill="#8aa2c6" letter-spacing="-0.05">湖南精讯科技有限公司出品</text>
</g>
</defs>
<use href="#cab"/>
<use href="#cab" transform="matrix(1.065 0 0 1.077 -250.78 499.32)"/>

<defs>
<linearGradient id="cldup" x1="0" y1="0" x2="0" y2="1"><stop offset="0" stop-color="#f4f8fc"/><stop offset="1" stop-color="#b4cdea"/></linearGradient>
<linearGradient id="clddn" x1="0" y1="0" x2="0" y2="1"><stop offset="0" stop-color="#4f8fd6"/><stop offset="1" stop-color="#2858a6"/></linearGradient>
<clipPath id="cldclip"><path d="M559.8 283.3 C553 282 550.5 275 552.4 268.5 C554 260 558 254 564 252.5 C566 251.5 568 251 569.5 250 C569 236 577 225 588 224.7 C598 224.5 606 229 608.8 233.6 C612 231 616 231 619.2 232 C626 233 630 240 628.9 247.7 C638 249 645 255 643.7 264 C643 272 641 276 637 277.4 Z"/></clipPath>
<linearGradient id="teal" x1="0" y1="0" x2="1" y2="1"><stop offset="0" stop-color="#2fa2c4"/><stop offset="1" stop-color="#7ccbd8"/></linearGradient>
</defs>
<path d="M559.8 283.3 C553 282 550.5 275 552.4 268.5 C554 260 558 254 564 252.5 C566 251.5 568 251 569.5 250 C569 236 577 225 588 224.7 C598 224.5 606 229 608.8 233.6 C612 231 616 231 619.2 232 C626 233 630 240 628.9 247.7 C638 249 645 255 643.7 264 C643 272 641 276 637 277.4 Z" fill="url(#cldup)" stroke="#7fb0e0" stroke-width="1.4"/>
<g clip-path="url(#cldclip)">
<path d="M550 272 C554 258 568 252 582 252.5 C600 247 624 247 636 253 C642 256 648 260 648 266 L648 290 L545 290 Z" fill="url(#clddn)"/>
</g>
<path d="M559.8 283.3 C553 282 550.5 275 552.4 268.5 C554 260 558 254 564 252.5 C566 251.5 568 251 569.5 250 C569 236 577 225 588 224.7 C598 224.5 606 229 608.8 233.6 C612 231 616 231 619.2 232 C626 233 630 240 628.9 247.7 C638 249 645 255 643.7 264 C643 272 641 276 637 277.4 Z" fill="none" stroke="#9cc6ee" stroke-width="1.6"/>
<text x="574.5" y="266.5" font-size="15.5" font-weight="700" fill="#ffffff">云平台</text>
<g fill="none" stroke="#3b45a2" stroke-width="2.8" stroke-linejoin="miter"><polyline points="477.4,291.8 486.8,294.0 483.4,301.8"/><polyline points="484.0,288.1 493.4,290.3 490.0,298.1"/><polyline points="490.6,284.4 500.0,286.6 496.6,294.4"/><polyline points="497.3,280.7 506.7,282.9 503.3,290.7"/><polyline points="503.9,277.0 513.3,279.2 509.9,287.0"/><polyline points="510.5,273.3 519.9,275.5 516.5,283.3"/></g><g fill="none" stroke="#3b3f9e" stroke-width="2.9"><polyline points="597,313.6 603.6,320.2 610.2,313.6"/><polyline points="597,321.7 603.6,328.3 610.2,321.7"/><polyline points="597,329.8 603.6,336.4 610.2,329.8"/><polyline points="597,337.9 603.6,344.5 610.2,337.9"/><polyline points="597,346.0 603.6,352.6 610.2,346.0"/><polyline points="597,354.1 603.6,360.7 610.2,354.1"/></g>
<polygon points="520.8,401 577,409.7 577,450.7 521.9,451.8" fill="#1e1e22"/>
<polygon points="523,403 576,411 576,429 523.2,428" fill="url(#teal)"/>
<polygon points="523.2,428 576,429 576,449.5 523.5,450" fill="#f4f6f8"/>
<rect x="543" y="426" width="14" height="9" fill="#ffffff"/>
<rect x="546" y="432" width="9" height="1.6" fill="#1c3aa0"/>
<polygon points="518,451.8 610,453.2 606,456.5 546,459.5 521,454.5" fill="#dcdee2"/>
<polygon points="521,451.8 612,453.2 612,454.5 521,453.5" fill="#b8bcc2"/>
<polygon points="584.5,384.8 655.8,373 654.3,431.3 584.5,433.4" fill="#1a1a1e"/>
<polygon points="594.5,386 654,375 653,430 594.5,431.6" fill="#f8f9fb"/>
<polygon points="586,387.2 594.5,386 594.5,431.6 586,431.8" fill="#2c3038"/>
<polygon points="596,390.5 607,389 607,400.5 596,401.5" fill="#3a8ae6"/>
<polygon points="609,388.5 621,386.8 621,399 609,400" fill="#e8484a"/>
<polygon points="622.7,386.5 635,384.8 635,397.8 622.7,398.8" fill="#f2b430"/>
<polygon points="637,384.5 651.5,382.2 651.5,395.5 637,397" fill="#6cc84c"/>
<g stroke="#d8dbe0" stroke-width="0.8"><line x1="597" y1="407" x2="650" y2="404"/><line x1="597" y1="413" x2="650" y2="410"/><line x1="597" y1="419" x2="650" y2="416"/><line x1="597" y1="425" x2="650" y2="422"/></g>
<polygon points="584.5,433.4 654.3,431.3 654.2,439 584.5,441.5" fill="#dcdde0"/>
<polygon points="618,441 637,440.5 639,452.5 615,453.5" fill="#cfd1d4"/>
<polygon points="612,453.5 642,452.5 642,455 612,456" fill="#bfc1c4"/>
<rect x="638.5" y="419.4" width="22.7" height="41" rx="2.5" fill="#1f2024"/>
<rect x="640.5" y="423.5" width="18.7" height="32.5" fill="#f6f7f9"/>
<rect x="640.5" y="432" width="18.7" height="2" fill="#3a86d8"/>
<g stroke="#dfe2e6" stroke-width="0.7"><line x1="641.5" y1="438" x2="658" y2="438"/><line x1="641.5" y1="442" x2="658" y2="442"/><line x1="641.5" y1="446" x2="658" y2="446"/><line x1="641.5" y1="450" x2="658" y2="450"/></g>
</svg>

</body>
</html>
